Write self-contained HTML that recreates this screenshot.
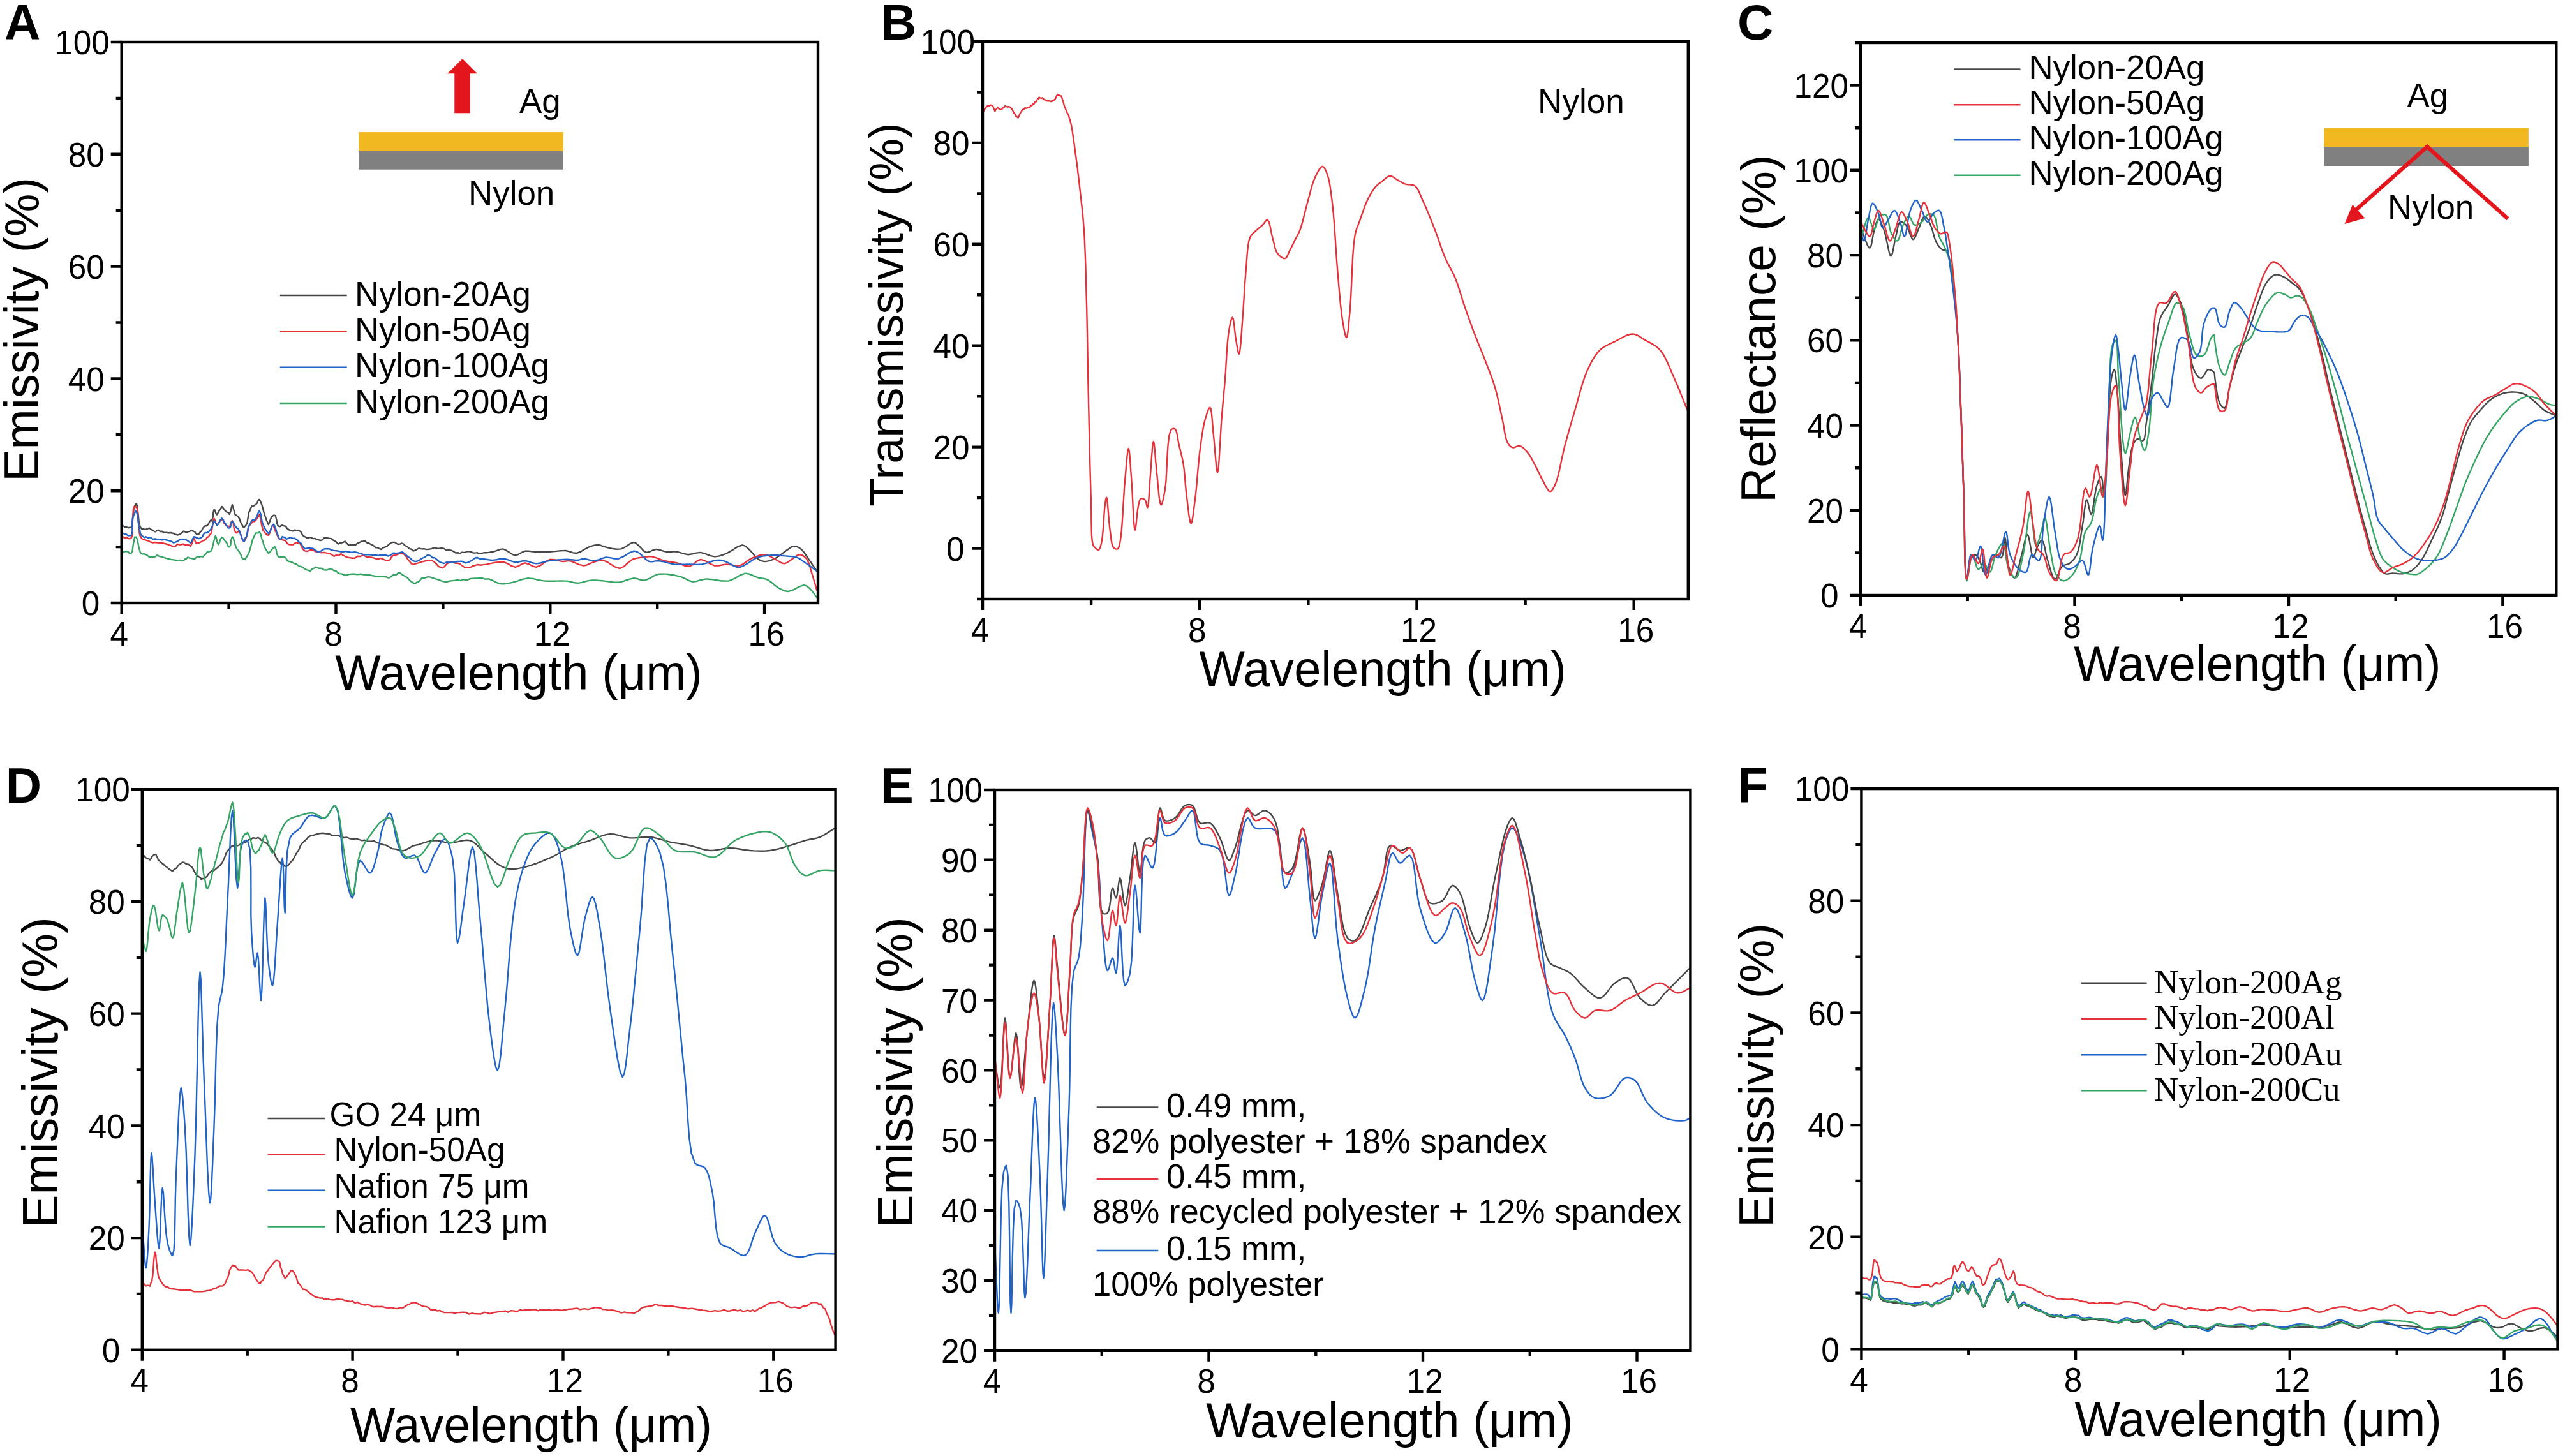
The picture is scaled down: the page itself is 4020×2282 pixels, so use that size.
<!DOCTYPE html>
<html><head><meta charset="utf-8"><style>
html,body{margin:0;padding:0;background:#fff;width:4020px;height:2282px;overflow:hidden}
svg{display:block}
text{font-family:"Liberation Sans", sans-serif;fill:#000}
</style></head><body>
<svg width="4020" height="2282" viewBox="0 0 4020 2282">
<rect width="4020" height="2282" fill="#fff"/>
<path d="M173.7 945.0H190.7 M173.7 769.2H190.7 M173.7 593.4H190.7 M173.7 417.6H190.7 M173.7 241.8H190.7 M173.7 66.0H190.7 M181.7 857.1H190.7 M181.7 681.3H190.7 M181.7 505.5H190.7 M181.7 329.7H190.7 M181.7 153.9H190.7 M190.7 945.0V962.0 M526.5 945.0V962.0 M862.3 945.0V962.0 M1198.1 945.0V962.0 M358.6 945.0V954.0 M694.4 945.0V954.0 M1030.2 945.0V954.0" stroke="#000" stroke-width="4.4" fill="none"/>
<text transform="translate(156.2 964.1) scale(0.95 1)" font-size="54" text-anchor="end">0</text>
<text transform="translate(163.7 788.3) scale(0.95 1)" font-size="54" text-anchor="end">20</text>
<text transform="translate(163.7 612.5) scale(0.95 1)" font-size="54" text-anchor="end">40</text>
<text transform="translate(163.7 436.7) scale(0.95 1)" font-size="54" text-anchor="end">60</text>
<text transform="translate(163.7 260.9) scale(0.95 1)" font-size="54" text-anchor="end">80</text>
<text transform="translate(171.7 85.1) scale(0.95 1)" font-size="54" text-anchor="end">100</text>
<text transform="translate(186.7 1011.5) scale(0.95 1)" font-size="54" text-anchor="middle">4</text>
<text transform="translate(522.5 1011.5) scale(0.95 1)" font-size="54" text-anchor="middle">8</text>
<text transform="translate(865.3 1011.5) scale(0.95 1)" font-size="54" text-anchor="middle">12</text>
<text transform="translate(1201.1 1011.5) scale(0.95 1)" font-size="54" text-anchor="middle">16</text>
<path d="M1523.0 859.5H1540.0 M1523.0 700.6H1540.0 M1523.0 541.7H1540.0 M1523.0 382.8H1540.0 M1523.0 223.9H1540.0 M1523.0 65.0H1540.0 M1531.0 939.0H1540.0 M1531.0 780.1H1540.0 M1531.0 621.2H1540.0 M1531.0 462.3H1540.0 M1531.0 303.4H1540.0 M1531.0 144.5H1540.0 M1540.0 939.0V956.0 M1880.2 939.0V956.0 M2220.5 939.0V956.0 M2560.7 939.0V956.0 M1710.1 939.0V948.0 M2050.4 939.0V948.0 M2390.6 939.0V948.0" stroke="#000" stroke-width="4.4" fill="none"/>
<text transform="translate(1511.6 878.6) scale(0.95 1)" font-size="54" text-anchor="end">0</text>
<text transform="translate(1519.5 719.7) scale(0.95 1)" font-size="54" text-anchor="end">20</text>
<text transform="translate(1519.5 560.8) scale(0.95 1)" font-size="54" text-anchor="end">40</text>
<text transform="translate(1519.5 401.9) scale(0.95 1)" font-size="54" text-anchor="end">60</text>
<text transform="translate(1519.5 243.0) scale(0.95 1)" font-size="54" text-anchor="end">80</text>
<text transform="translate(1528.0 84.1) scale(0.95 1)" font-size="54" text-anchor="end">100</text>
<text transform="translate(1536.0 1005.5) scale(0.95 1)" font-size="54" text-anchor="middle">4</text>
<text transform="translate(1876.2 1005.5) scale(0.95 1)" font-size="54" text-anchor="middle">8</text>
<text transform="translate(2223.5 1005.5) scale(0.95 1)" font-size="54" text-anchor="middle">12</text>
<text transform="translate(2563.7 1005.5) scale(0.95 1)" font-size="54" text-anchor="middle">16</text>
<path d="M2899.0 933.0H2916.0 M2899.0 799.8H2916.0 M2899.0 666.5H2916.0 M2899.0 533.3H2916.0 M2899.0 400.1H2916.0 M2899.0 266.8H2916.0 M2899.0 133.6H2916.0 M2907.0 866.4H2916.0 M2907.0 733.2H2916.0 M2907.0 599.9H2916.0 M2907.0 466.7H2916.0 M2907.0 333.5H2916.0 M2907.0 200.2H2916.0 M2907.0 67.0H2916.0 M2916.0 933.0V950.0 M3251.5 933.0V950.0 M3587.0 933.0V950.0 M3922.4 933.0V950.0 M3083.7 933.0V942.0 M3419.2 933.0V942.0 M3754.7 933.0V942.0" stroke="#000" stroke-width="4.4" fill="none"/>
<text transform="translate(2881.5 952.1) scale(0.95 1)" font-size="54" text-anchor="end">0</text>
<text transform="translate(2889.0 818.9) scale(0.95 1)" font-size="54" text-anchor="end">20</text>
<text transform="translate(2889.0 685.6) scale(0.95 1)" font-size="54" text-anchor="end">40</text>
<text transform="translate(2889.0 552.4) scale(0.95 1)" font-size="54" text-anchor="end">60</text>
<text transform="translate(2889.0 419.2) scale(0.95 1)" font-size="54" text-anchor="end">80</text>
<text transform="translate(2897.0 285.9) scale(0.95 1)" font-size="54" text-anchor="end">100</text>
<text transform="translate(2897.0 152.7) scale(0.95 1)" font-size="54" text-anchor="end">120</text>
<text transform="translate(2912.0 999.5) scale(0.95 1)" font-size="54" text-anchor="middle">4</text>
<text transform="translate(3247.5 999.5) scale(0.95 1)" font-size="54" text-anchor="middle">8</text>
<text transform="translate(3590.0 999.5) scale(0.95 1)" font-size="54" text-anchor="middle">12</text>
<text transform="translate(3925.4 999.5) scale(0.95 1)" font-size="54" text-anchor="middle">16</text>
<path d="M205.8 2115.8H222.8 M205.8 1940.1H222.8 M205.8 1764.4H222.8 M205.8 1588.6H222.8 M205.8 1412.9H222.8 M205.8 1237.2H222.8 M213.8 2027.9H222.8 M213.8 1852.2H222.8 M213.8 1676.5H222.8 M213.8 1500.8H222.8 M213.8 1325.1H222.8 M222.8 2115.8V2132.8 M552.6 2115.8V2132.8 M882.5 2115.8V2132.8 M1212.3 2115.8V2132.8 M387.7 2115.8V2124.8 M717.5 2115.8V2124.8 M1047.4 2115.8V2124.8" stroke="#000" stroke-width="4.4" fill="none"/>
<text transform="translate(188.3 2134.9) scale(0.95 1)" font-size="54" text-anchor="end">0</text>
<text transform="translate(195.8 1959.2) scale(0.95 1)" font-size="54" text-anchor="end">20</text>
<text transform="translate(195.8 1783.5) scale(0.95 1)" font-size="54" text-anchor="end">40</text>
<text transform="translate(195.8 1607.7) scale(0.95 1)" font-size="54" text-anchor="end">60</text>
<text transform="translate(195.8 1432.0) scale(0.95 1)" font-size="54" text-anchor="end">80</text>
<text transform="translate(203.8 1256.3) scale(0.95 1)" font-size="54" text-anchor="end">100</text>
<text transform="translate(218.8 2182.3) scale(0.95 1)" font-size="54" text-anchor="middle">4</text>
<text transform="translate(548.6 2182.3) scale(0.95 1)" font-size="54" text-anchor="middle">8</text>
<text transform="translate(885.5 2182.3) scale(0.95 1)" font-size="54" text-anchor="middle">12</text>
<text transform="translate(1215.3 2182.3) scale(0.95 1)" font-size="54" text-anchor="middle">16</text>
<path d="M1542.0 2116.8H1559.0 M1542.0 2007.0H1559.0 M1542.0 1897.1H1559.0 M1542.0 1787.2H1559.0 M1542.0 1677.4H1559.0 M1542.0 1567.6H1559.0 M1542.0 1457.7H1559.0 M1542.0 1347.8H1559.0 M1542.0 1238.0H1559.0 M1550.0 2061.9H1559.0 M1550.0 1952.0H1559.0 M1550.0 1842.2H1559.0 M1550.0 1732.3H1559.0 M1550.0 1622.5H1559.0 M1550.0 1512.6H1559.0 M1550.0 1402.8H1559.0 M1550.0 1292.9H1559.0 M1559.0 2116.8V2133.8 M1894.5 2116.8V2133.8 M2230.0 2116.8V2133.8 M2565.5 2116.8V2133.8 M1726.8 2116.8V2125.8 M2062.3 2116.8V2125.8 M2397.8 2116.8V2125.8" stroke="#000" stroke-width="4.4" fill="none"/>
<text transform="translate(1532.0 2135.9) scale(0.95 1)" font-size="54" text-anchor="end">20</text>
<text transform="translate(1532.0 2026.1) scale(0.95 1)" font-size="54" text-anchor="end">30</text>
<text transform="translate(1532.0 1916.2) scale(0.95 1)" font-size="54" text-anchor="end">40</text>
<text transform="translate(1532.0 1806.3) scale(0.95 1)" font-size="54" text-anchor="end">50</text>
<text transform="translate(1532.0 1696.5) scale(0.95 1)" font-size="54" text-anchor="end">60</text>
<text transform="translate(1532.0 1586.7) scale(0.95 1)" font-size="54" text-anchor="end">70</text>
<text transform="translate(1532.0 1476.8) scale(0.95 1)" font-size="54" text-anchor="end">80</text>
<text transform="translate(1532.0 1366.9) scale(0.95 1)" font-size="54" text-anchor="end">90</text>
<text transform="translate(1540.0 1257.1) scale(0.95 1)" font-size="54" text-anchor="end">100</text>
<text transform="translate(1555.0 2183.3) scale(0.95 1)" font-size="54" text-anchor="middle">4</text>
<text transform="translate(1890.5 2183.3) scale(0.95 1)" font-size="54" text-anchor="middle">8</text>
<text transform="translate(2233.0 2183.3) scale(0.95 1)" font-size="54" text-anchor="middle">12</text>
<text transform="translate(2568.5 2183.3) scale(0.95 1)" font-size="54" text-anchor="middle">16</text>
<path d="M2900.4 2114.4H2917.4 M2900.4 1938.7H2917.4 M2900.4 1763.1H2917.4 M2900.4 1587.4H2917.4 M2900.4 1411.8H2917.4 M2900.4 1236.1H2917.4 M2908.4 2026.6H2917.4 M2908.4 1850.9H2917.4 M2908.4 1675.2H2917.4 M2908.4 1499.6H2917.4 M2908.4 1323.9H2917.4 M2917.4 2114.4V2131.4 M3253.1 2114.4V2131.4 M3588.8 2114.4V2131.4 M3924.6 2114.4V2131.4 M3085.3 2114.4V2123.4 M3421.0 2114.4V2123.4 M3756.7 2114.4V2123.4" stroke="#000" stroke-width="4.4" fill="none"/>
<text transform="translate(2882.9 2133.5) scale(0.95 1)" font-size="54" text-anchor="end">0</text>
<text transform="translate(2890.4 1957.8) scale(0.95 1)" font-size="54" text-anchor="end">20</text>
<text transform="translate(2890.4 1782.2) scale(0.95 1)" font-size="54" text-anchor="end">40</text>
<text transform="translate(2890.4 1606.5) scale(0.95 1)" font-size="54" text-anchor="end">60</text>
<text transform="translate(2890.4 1430.9) scale(0.95 1)" font-size="54" text-anchor="end">80</text>
<text transform="translate(2898.4 1255.2) scale(0.95 1)" font-size="54" text-anchor="end">100</text>
<text transform="translate(2913.4 2180.9) scale(0.95 1)" font-size="54" text-anchor="middle">4</text>
<text transform="translate(3249.1 2180.9) scale(0.95 1)" font-size="54" text-anchor="middle">8</text>
<text transform="translate(3591.8 2180.9) scale(0.95 1)" font-size="54" text-anchor="middle">12</text>
<text transform="translate(3927.6 2180.9) scale(0.95 1)" font-size="54" text-anchor="middle">16</text>
<defs>
<clipPath id="cA"><rect x="190.7" y="66.0" width="1091.3" height="879.0"/></clipPath>
<clipPath id="cB"><rect x="1540.0" y="65.0" width="1105.8000000000002" height="874.0"/></clipPath>
<clipPath id="cC"><rect x="2916.0" y="67.0" width="1090.3000000000002" height="866.0"/></clipPath>
<clipPath id="cD"><rect x="222.8" y="1237.2" width="1086.8" height="878.6000000000001"/></clipPath>
<clipPath id="cE"><rect x="1559.0" y="1238.0" width="1090.4" height="878.8000000000002"/></clipPath>
<clipPath id="cF"><rect x="2917.4" y="1236.1" width="1091.1" height="878.3000000000002"/></clipPath>
</defs>
<path d="M190.5 824.1 L193.0 824.1 L195.6 826.0 L198.1 826.1 L200.8 827.2 L203.6 826.8 L205.7 826.5 L207.1 824.9 L207.5 819.6 L207.9 815.1 L208.4 809.7 L208.8 807.9 L209.2 802.9 L209.7 797.6 L211.2 792.6 L212.1 792.6 L213.1 789.8 L214.0 789.9 L215.3 794.0 L215.9 800.7 L216.7 807.1 L217.4 815.0 L218.2 821.1 L219.9 825.8 L221.8 828.7 L224.1 828.9 L226.5 829.7 L229.0 829.7 L231.6 828.5 L234.1 827.6 L236.7 829.8 L239.3 830.9 L241.8 832.9 L243.9 833.2 L246.1 831.3 L248.3 830.9 L251.1 833.0 L254.0 832.7 L257.0 834.9 L260.6 834.7 L264.3 835.2 L268.0 835.0 L271.7 836.0 L275.4 837.8 L278.9 838.5 L281.9 837.0 L284.8 835.4 L287.6 832.5 L289.8 833.2 L291.9 834.6 L294.2 833.5 L297.1 832.9 L300.1 831.5 L302.9 832.5 L305.2 833.5 L307.3 836.4 L309.4 837.6 L311.7 836.8 L314.0 833.6 L316.0 831.8 L317.6 828.3 L318.9 826.9 L320.4 824.8 L321.8 824.1 L323.3 824.2 L324.7 823.3 L326.3 822.1 L327.7 819.2 L329.1 816.7 L330.2 815.4 L331.4 816.3 L332.4 814.6 L333.7 810.2 L334.5 802.2 L335.6 798.5 L336.9 799.9 L338.4 804.7 L340.0 806.6 L342.4 802.3 L345.1 798.3 L347.7 794.0 L349.5 795.6 L351.2 798.6 L353.1 800.5 L355.3 802.6 L357.6 803.2 L359.7 805.9 L361.5 801.2 L362.8 794.8 L364.0 791.2 L365.3 795.0 L366.6 800.0 L368.4 806.5 L370.4 807.6 L372.8 809.4 L374.9 812.2 L377.2 818.5 L379.3 822.4 L381.5 826.1 L383.0 825.9 L384.5 824.3 L385.9 822.5 L387.6 818.9 L388.2 814.4 L388.8 810.8 L390.2 802.8 L391.5 800.9 L392.8 796.7 L394.6 793.3 L396.6 793.6 L399.0 791.7 L401.1 790.5 L403.2 788.5 L404.9 783.7 L406.6 782.9 L408.5 786.6 L410.2 790.7 L412.1 797.2 L413.4 802.6 L414.8 806.8 L416.3 811.1 L417.8 815.5 L420.8 822.2 L422.9 817.0 L425.0 811.2 L427.3 808.8 L428.8 807.7 L430.3 807.6 L431.7 808.3 L433.2 814.2 L433.7 816.7 L434.2 820.7 L436.1 824.6 L438.7 825.3 L441.8 823.1 L444.8 824.1 L447.8 825.0 L450.6 828.9 L453.5 830.6 L456.4 831.9 L459.4 832.4 L462.3 830.5 L464.5 831.8 L466.7 831.0 L468.8 831.8 L471.6 833.7 L474.3 838.9 L477.6 841.0 L481.7 843.4 L486.4 842.1 L490.7 844.1 L493.7 843.9 L496.5 845.3 L499.4 846.1 L502.2 847.2 L505.1 846.2 L508.1 843.0 L511.7 842.8 L515.4 843.6 L519.0 844.1 L522.7 847.0 L526.3 848.8 L530.0 852.6 L533.6 850.8 L537.3 850.3 L540.9 848.4 L543.8 851.9 L546.6 854.5 L549.6 854.3 L553.2 854.1 L556.9 854.2 L560.5 851.3 L563.5 850.2 L566.4 848.4 L569.2 848.2 L572.1 847.8 L575.0 850.6 L578.0 851.2 L581.6 853.2 L585.3 855.2 L588.9 858.3 L591.9 858.4 L594.8 860.0 L597.6 861.0 L600.6 858.4 L603.5 857.5 L606.4 856.3 L609.7 853.0 L613.0 850.7 L616.2 849.9 L618.7 849.9 L621.2 851.7 L623.8 853.0 L626.8 852.6 L629.8 851.5 L632.6 852.7 L634.8 855.2 L636.9 856.0 L639.1 857.5 L641.8 860.1 L644.7 860.7 L647.8 863.6 L652.0 861.8 L656.5 859.3 L660.9 860.4 L664.6 860.2 L668.2 861.1 L671.9 860.7 L676.2 860.1 L680.6 858.3 L685.0 859.4 L688.7 859.6 L692.3 859.0 L695.9 859.8 L699.5 862.4 L703.2 862.3 L706.8 862.5 L710.5 864.2 L714.1 866.5 L717.7 866.2 L720.7 867.6 L723.6 865.7 L726.4 865.9 L729.3 865.9 L732.2 864.1 L735.2 864.4 L738.4 865.0 L741.8 866.6 L745.0 866.6 L747.6 866.1 L750.2 867.7 L753.1 867.6 L759.1 866.2 L762.6 866.3 L766.1 865.9 L772.7 864.8 L778.2 863.1 L783.4 861.1 L788.0 860.4 L791.1 861.4 L793.9 863.1 L796.8 864.8 L800.2 866.9 L803.8 869.2 L807.7 870.3 L812.5 868.8 L817.7 865.8 L823.0 863.7 L827.9 863.6 L832.9 864.2 L838.2 864.8 L842.0 864.9 L845.8 865.0 L850.0 865.0 L854.1 865.0 L858.2 864.9 L862.3 864.8 L866.3 864.4 L870.4 864.1 L874.5 863.6 L878.6 863.2 L882.4 863.1 L886.3 863.0 L892.3 864.4 L898.1 866.4 L903.7 867.0 L909.6 864.9 L915.5 861.3 L921.2 858.2 L926.3 856.2 L931.4 854.6 L936.5 853.9 L941.5 854.8 L946.5 856.6 L951.8 858.2 L955.3 859.0 L958.8 859.7 L962.6 860.2 L966.3 860.7 L970.0 860.6 L973.6 860.4 L977.1 858.7 L980.6 857.0 L984.0 854.6 L987.4 852.2 L993.3 849.9 L996.4 851.1 L999.2 853.5 L1002.0 856.1 L1005.4 859.7 L1009.0 863.6 L1012.9 865.9 L1017.7 865.0 L1022.9 862.5 L1028.2 860.9 L1034.0 861.8 L1040.0 863.8 L1045.7 865.2 L1050.1 865.1 L1054.3 864.5 L1058.8 864.4 L1065.0 865.8 L1068.4 866.8 L1071.7 867.9 L1078.4 869.2 L1084.9 868.3 L1091.4 866.6 L1098.1 865.9 L1101.7 866.8 L1105.3 867.8 L1109.0 869.3 L1112.7 870.8 L1116.3 871.6 L1119.9 872.4 L1126.5 871.6 L1132.9 869.6 L1136.2 868.3 L1139.5 867.0 L1143.7 864.6 L1147.8 862.3 L1152.0 859.5 L1156.2 856.8 L1159.9 855.5 L1163.5 854.3 L1167.5 855.6 L1171.0 858.3 L1174.5 861.5 L1178.8 866.2 L1183.1 871.5 L1187.6 875.7 L1191.1 877.9 L1194.6 879.4 L1198.5 880.1 L1204.1 879.4 L1210.1 877.3 L1215.9 874.6 L1221.2 871.3 L1226.3 867.4 L1231.2 863.7 L1235.7 860.5 L1240.0 857.5 L1244.3 856.1 L1248.0 856.5 L1251.7 858.1 L1255.2 860.4 L1259.8 865.3 L1262.0 868.4 L1264.1 871.6 L1266.2 874.7 L1268.3 877.9 L1270.4 880.8 L1272.4 883.7 L1274.4 886.6 L1276.4 889.5 L1278.4 892.4 L1280.4 895.4" stroke="#474747" stroke-width="2.4" fill="none" stroke-linejoin="round" clip-path="url(#cA)"/>
<path d="M190.5 842.8 L193.0 841.5 L195.6 843.4 L198.1 841.9 L200.8 843.8 L203.5 844.4 L205.7 843.0 L206.7 841.3 L207.7 838.2 L207.7 832.6 L207.8 829.5 L207.8 825.0 L207.8 822.0 L207.9 818.8 L207.9 813.7 L208.1 811.6 L208.3 807.1 L208.6 803.4 L208.8 798.8 L210.1 794.2 L211.1 793.6 L212.3 794.3 L213.4 794.5 L215.0 797.2 L215.4 802.6 L215.8 805.1 L216.2 810.9 L216.7 814.7 L217.1 818.5 L217.6 825.5 L218.0 827.2 L218.3 831.9 L218.6 836.0 L219.8 840.2 L221.0 842.0 L223.2 845.3 L225.8 845.6 L228.7 846.7 L232.1 847.5 L235.8 849.3 L239.6 850.5 L243.2 850.0 L246.9 850.5 L250.5 850.9 L254.1 851.0 L257.8 852.0 L261.4 852.7 L265.1 854.3 L268.8 855.4 L272.3 856.7 L275.3 855.9 L278.2 852.8 L281.1 853.6 L284.0 853.5 L286.9 852.6 L289.8 854.5 L292.8 853.6 L295.9 854.2 L298.5 856.0 L300.8 852.0 L302.5 846.7 L304.0 843.9 L305.0 845.9 L305.9 848.4 L307.3 851.3 L309.2 851.0 L311.5 850.9 L313.8 849.8 L316.0 848.9 L318.2 847.1 L320.4 846.7 L322.7 844.9 L324.9 841.9 L326.9 841.3 L328.6 838.1 L330.0 836.9 L331.3 834.8 L332.1 829.9 L332.9 825.6 L333.6 821.0 L334.2 816.3 L335.6 812.7 L336.9 815.3 L338.3 820.1 L340.0 822.2 L342.4 820.5 L345.1 816.5 L347.7 814.1 L349.5 815.0 L351.2 820.0 L353.1 821.8 L355.3 824.3 L357.6 824.6 L359.7 825.9 L361.4 821.8 L362.7 817.8 L364.0 816.1 L365.7 820.7 L366.5 826.4 L367.3 830.4 L369.5 834.9 L371.2 835.3 L373.1 833.1 L374.9 831.4 L377.3 837.4 L378.4 839.9 L379.4 844.5 L381.5 847.9 L383.0 848.1 L384.5 845.2 L385.9 842.6 L387.5 837.6 L388.7 831.5 L390.2 824.8 L391.5 823.2 L392.9 821.0 L394.6 819.2 L396.7 817.7 L399.0 817.2 L401.1 815.0 L403.1 811.8 L405.0 809.5 L406.6 806.2 L408.4 812.7 L409.1 816.0 L409.8 821.6 L410.9 826.0 L412.1 830.7 L414.8 834.3 L417.9 838.1 L420.8 838.7 L423.3 834.5 L424.4 830.1 L425.4 826.4 L427.3 823.1 L428.8 824.5 L430.2 828.4 L431.7 832.2 L433.6 836.0 L435.7 841.9 L438.3 845.6 L440.3 844.9 L442.6 846.2 L444.8 846.7 L447.7 847.7 L450.5 852.0 L453.5 853.5 L456.4 853.3 L459.4 853.5 L462.3 851.5 L464.5 850.1 L466.7 851.3 L468.8 850.3 L471.6 854.0 L474.3 860.4 L477.6 863.4 L481.7 864.0 L486.3 862.2 L490.7 861.7 L493.6 864.1 L496.4 865.2 L499.4 865.2 L503.6 866.4 L508.1 865.9 L512.5 866.9 L516.2 867.7 L519.8 869.2 L523.4 871.9 L527.0 870.1 L530.7 870.8 L534.3 868.0 L538.0 870.5 L541.6 872.3 L545.2 873.8 L548.8 874.2 L552.4 874.8 L556.2 874.7 L560.5 871.7 L565.0 872.0 L569.2 870.2 L572.3 871.6 L575.1 873.2 L578.0 873.3 L581.5 873.5 L585.2 874.4 L588.9 875.5 L592.6 876.5 L596.3 874.9 L599.8 876.0 L602.9 877.5 L605.8 878.7 L608.5 878.7 L611.2 877.3 L613.6 873.1 L616.2 870.4 L618.6 870.5 L621.2 869.5 L623.8 868.6 L626.8 866.8 L629.8 867.8 L632.6 868.2 L634.9 870.1 L637.0 873.2 L639.1 876.5 L641.8 879.7 L644.6 883.3 L647.8 884.8 L651.9 883.3 L656.3 882.2 L660.9 880.6 L666.1 879.3 L671.4 878.6 L676.2 878.3 L680.2 880.5 L683.8 883.9 L687.1 887.8 L689.4 888.7 L691.5 889.2 L693.7 890.3 L696.5 888.2 L699.3 884.7 L702.4 882.4 L705.9 880.8 L709.6 881.2 L713.3 882.7 L717.1 882.5 L720.7 884.1 L724.3 886.5 L727.2 888.6 L730.0 889.5 L733.0 889.5 L736.9 889.6 L741.1 887.0 L745.0 886.1 L747.7 885.0 L750.2 885.3 L753.1 885.7 L759.1 884.9 L762.5 884.7 L766.0 883.7 L772.7 882.3 L778.7 881.4 L784.5 880.8 L790.2 881.2 L796.1 883.6 L802.0 887.1 L807.7 888.8 L812.8 887.1 L817.8 884.0 L823.0 882.3 L828.6 884.0 L834.5 887.3 L840.4 888.8 L844.0 887.3 L847.6 885.8 L851.2 883.1 L854.9 880.4 L858.6 878.6 L862.3 876.8 L869.0 877.1 L875.8 878.9 L881.9 880.1 L885.7 879.7 L889.1 879.1 L892.8 879.0 L896.3 880.1 L899.7 881.3 L903.6 883.1 L907.4 884.8 L911.0 885.7 L914.7 886.6 L919.9 885.5 L924.9 883.2 L929.9 881.2 L934.9 879.5 L939.9 878.1 L945.2 877.9 L949.5 879.9 L953.7 881.9 L956.7 883.9 L959.8 886.0 L962.8 888.1 L967.1 889.5 L971.4 891.0 L974.9 889.3 L978.3 887.7 L981.5 884.7 L984.7 881.6 L987.9 879.2 L991.1 876.8 L996.2 875.1 L1001.3 874.2 L1006.4 873.5 L1011.4 872.8 L1016.4 872.3 L1021.6 872.4 L1028.0 874.1 L1031.3 875.4 L1034.6 876.7 L1038.0 877.9 L1041.3 879.0 L1047.8 880.2 L1054.4 881.1 L1060.9 882.3 L1064.3 883.4 L1067.6 884.5 L1070.9 885.8 L1074.2 887.0 L1080.6 887.7 L1086.5 884.6 L1089.3 882.1 L1092.1 879.6 L1098.1 876.8 L1101.6 877.8 L1105.1 878.9 L1108.8 881.2 L1112.5 883.5 L1116.2 885.0 L1119.9 886.6 L1126.4 886.5 L1133.0 885.2 L1139.5 884.4 L1146.2 885.3 L1152.8 886.7 L1159.2 886.6 L1165.1 883.8 L1167.9 881.7 L1170.7 879.5 L1173.7 877.6 L1176.6 875.7 L1180.2 874.1 L1183.8 872.6 L1187.6 871.3 L1191.4 870.0 L1194.9 869.6 L1198.5 869.2 L1203.8 870.5 L1208.8 873.0 L1213.8 875.7 L1218.9 878.8 L1224.1 882.0 L1229.0 883.4 L1233.6 881.9 L1237.9 878.8 L1242.1 875.7 L1245.9 873.0 L1249.5 870.4 L1253.1 869.2 L1256.8 870.1 L1260.6 872.4 L1264.0 875.7 L1265.7 879.0 L1267.5 882.4 L1268.9 886.7 L1270.2 891.0 L1271.4 895.4 L1272.7 899.7 L1274.0 904.0 L1275.4 908.4 L1276.6 912.7 L1277.9 917.1 L1279.1 921.5 L1280.4 925.9" stroke="#E5313A" stroke-width="2.4" fill="none" stroke-linejoin="round" clip-path="url(#cA)"/>
<path d="M190.5 835.4 L193.0 835.9 L195.6 837.0 L198.1 837.5 L200.8 839.6 L203.5 839.3 L205.7 839.3 L207.4 832.8 L207.4 828.6 L207.4 825.0 L207.4 821.0 L207.6 816.2 L207.9 811.6 L209.2 808.7 L210.8 804.0 L212.3 802.2 L213.0 800.7 L213.8 802.6 L214.5 803.9 L215.8 808.9 L216.2 812.7 L216.6 817.8 L217.2 822.0 L217.7 824.6 L218.9 829.9 L220.1 836.4 L222.1 839.7 L224.0 840.5 L226.2 842.5 L228.7 841.3 L232.1 842.9 L235.8 842.3 L239.6 845.0 L243.2 844.5 L246.9 845.5 L250.5 845.9 L254.1 846.3 L257.8 845.5 L261.4 846.5 L265.1 847.4 L268.8 848.6 L272.3 850.7 L275.3 849.5 L278.1 848.5 L281.1 846.0 L284.7 845.9 L288.6 845.0 L292.0 846.3 L294.4 847.6 L296.6 849.2 L298.5 851.1 L300.4 848.9 L302.1 844.2 L304.0 841.2 L305.7 841.4 L307.5 842.7 L309.4 843.0 L311.7 844.2 L314.0 843.4 L316.0 842.3 L317.6 840.5 L318.8 837.7 L320.4 835.7 L322.5 835.0 L324.8 835.0 L326.9 833.1 L328.6 832.2 L330.0 829.8 L331.3 828.3 L332.8 824.1 L334.2 819.2 L335.6 816.2 L337.0 817.9 L338.4 820.2 L340.0 823.0 L342.4 821.2 L345.1 815.3 L347.7 812.3 L349.5 814.1 L351.2 818.0 L353.1 820.4 L355.3 824.0 L357.6 827.5 L359.7 827.6 L361.3 825.9 L362.6 818.8 L364.0 817.2 L365.7 818.4 L367.5 822.7 L369.5 825.5 L371.3 827.7 L373.2 827.9 L374.9 831.7 L377.3 838.1 L378.4 841.2 L379.4 843.9 L381.5 847.9 L383.0 848.1 L384.5 843.0 L385.9 841.7 L387.4 835.6 L388.7 827.7 L390.2 824.4 L391.5 821.6 L392.9 819.3 L394.6 815.9 L396.7 814.2 L399.0 815.0 L401.1 812.7 L403.3 807.7 L405.0 802.6 L406.6 800.7 L408.4 805.2 L409.2 807.7 L409.9 813.6 L411.0 818.3 L412.1 821.7 L414.7 827.7 L417.8 832.5 L420.8 836.4 L423.5 832.5 L426.0 825.1 L428.4 821.7 L430.4 824.0 L432.2 828.9 L433.9 835.3 L435.3 837.9 L436.5 842.2 L438.3 844.8 L440.3 844.7 L442.6 840.8 L444.8 842.0 L446.3 842.3 L447.6 844.0 L449.2 844.9 L451.8 843.7 L454.8 842.2 L457.9 843.4 L461.6 843.8 L465.4 845.9 L468.8 849.4 L471.8 851.6 L474.4 856.0 L477.6 860.2 L481.7 859.2 L486.4 859.1 L490.7 859.8 L493.7 862.0 L496.4 863.8 L499.4 865.9 L503.6 863.2 L508.1 860.5 L512.5 860.0 L516.2 860.4 L519.8 862.3 L523.4 862.9 L527.0 863.3 L530.7 863.8 L534.3 864.7 L538.0 864.7 L541.6 864.0 L545.2 864.8 L548.8 865.5 L552.4 865.8 L556.2 865.1 L560.5 866.2 L565.0 867.9 L569.2 868.9 L572.3 869.4 L575.1 869.3 L578.0 869.2 L581.5 869.5 L585.2 870.2 L588.9 869.8 L592.6 871.0 L596.3 869.6 L599.8 870.3 L602.8 869.5 L605.8 870.3 L608.5 871.6 L611.1 870.5 L613.4 869.4 L616.2 866.6 L620.7 867.1 L625.8 866.5 L630.4 865.1 L633.5 867.2 L636.3 869.9 L639.1 872.5 L642.7 874.6 L646.3 878.3 L650.0 880.0 L653.7 879.7 L657.4 877.8 L660.9 875.4 L663.9 874.0 L666.8 872.4 L669.7 870.1 L672.6 869.9 L675.5 871.8 L678.4 874.3 L681.3 874.3 L684.2 876.7 L687.1 879.4 L689.9 881.1 L692.8 882.2 L695.9 883.0 L700.1 881.2 L704.6 881.5 L709.0 881.4 L712.7 880.9 L716.2 880.0 L719.9 879.9 L724.2 879.8 L728.7 882.3 L733.0 881.7 L737.3 879.6 L741.5 876.9 L745.0 874.1 L746.3 874.7 L747.4 873.6 L748.7 874.5 L752.6 875.9 L757.3 875.9 L761.8 876.8 L765.4 877.3 L769.0 877.7 L772.7 877.9 L778.3 877.2 L784.3 876.0 L790.2 875.7 L796.1 877.3 L801.9 879.7 L807.7 881.2 L812.8 880.7 L817.8 879.5 L823.0 879.0 L828.7 880.2 L834.5 882.3 L840.4 883.4 L846.7 882.5 L853.2 880.6 L856.6 879.8 L860.1 879.0 L864.7 878.4 L869.4 877.9 L874.3 877.5 L879.3 877.1 L883.9 877.0 L888.5 876.8 L894.8 877.2 L900.7 877.8 L905.9 877.9 L909.0 877.2 L911.6 876.3 L914.7 875.7 L920.0 876.6 L926.1 878.3 L932.1 879.0 L937.9 877.5 L943.7 875.1 L949.6 873.5 L956.0 874.1 L962.6 875.5 L969.2 875.7 L973.4 873.9 L977.6 872.1 L981.8 869.3 L986.1 866.6 L989.7 865.2 L993.3 863.7 L996.4 864.1 L999.1 865.3 L1002.0 867.0 L1006.8 871.2 L1009.3 873.8 L1011.9 876.5 L1017.3 880.1 L1022.1 880.4 L1027.2 879.4 L1032.6 879.0 L1036.4 879.7 L1040.2 880.4 L1044.3 881.6 L1048.3 882.7 L1052.5 883.6 L1056.6 884.4 L1060.6 884.6 L1064.6 884.8 L1068.7 884.7 L1072.7 884.6 L1076.7 884.5 L1080.6 884.4 L1087.2 884.6 L1093.6 884.9 L1100.2 884.4 L1104.3 883.4 L1108.4 882.4 L1112.5 880.9 L1116.7 879.5 L1120.5 878.7 L1124.2 877.9 L1128.9 878.0 L1133.0 878.8 L1137.3 880.1 L1143.2 883.0 L1146.3 884.8 L1149.3 886.6 L1154.8 888.8 L1157.8 889.0 L1160.5 888.7 L1163.5 887.7 L1167.1 885.7 L1170.7 883.7 L1174.9 880.9 L1179.1 878.0 L1183.3 875.8 L1187.6 873.5 L1191.1 872.6 L1194.7 871.6 L1198.3 871.2 L1201.9 870.7 L1205.7 870.5 L1209.4 870.3 L1213.8 870.3 L1218.3 870.3 L1222.9 870.7 L1227.4 871.0 L1231.5 871.4 L1235.6 871.8 L1240.3 872.1 L1244.5 872.5 L1248.7 873.5 L1253.8 876.1 L1258.9 879.7 L1264.0 883.4 L1269.4 887.2 L1274.9 891.3 L1280.4 895.4" stroke="#2163C6" stroke-width="2.4" fill="none" stroke-linejoin="round" clip-path="url(#cA)"/>
<path d="M190.5 866.5 L193.0 865.4 L195.6 864.6 L198.1 864.1 L200.8 864.9 L203.5 867.8 L205.7 867.0 L207.5 864.0 L208.2 857.6 L209.0 852.6 L210.0 847.5 L211.1 841.8 L212.3 841.7 L213.4 841.6 L214.5 844.0 L215.6 846.9 L216.8 854.0 L217.9 859.2 L219.9 865.9 L222.5 868.4 L225.5 868.2 L228.7 869.1 L231.5 871.0 L234.5 873.4 L237.4 872.7 L240.3 872.8 L243.1 872.6 L246.1 870.2 L249.7 871.8 L253.4 872.9 L257.0 873.8 L260.7 875.2 L264.3 876.0 L268.0 876.9 L271.6 877.4 L275.3 878.0 L278.9 878.8 L281.9 877.9 L284.9 879.0 L287.6 878.9 L289.9 876.3 L291.9 876.1 L294.2 873.2 L297.0 874.6 L300.1 875.1 L302.9 875.9 L305.1 876.0 L307.2 874.1 L309.4 872.1 L312.3 872.8 L315.4 872.1 L318.2 872.7 L320.5 870.4 L322.6 867.8 L324.7 865.2 L326.9 864.8 L329.2 864.2 L331.3 863.3 L332.6 859.5 L334.0 853.9 L335.0 848.7 L336.0 845.7 L337.8 839.7 L339.3 844.2 L340.6 850.3 L342.2 853.5 L343.8 850.4 L345.6 845.2 L347.7 841.9 L349.4 843.0 L351.3 845.7 L353.1 848.2 L355.5 851.2 L357.7 856.8 L359.7 857.2 L361.3 854.6 L362.0 848.3 L362.6 844.7 L364.0 841.4 L365.7 842.8 L367.5 850.5 L369.5 856.5 L371.2 860.2 L373.0 862.6 L374.9 864.7 L377.4 869.4 L380.0 875.5 L382.6 876.2 L384.1 876.9 L385.6 874.1 L386.9 872.5 L389.0 868.5 L390.7 865.1 L392.4 858.7 L393.4 855.6 L394.3 852.0 L395.3 847.1 L396.3 845.1 L399.0 839.0 L401.4 835.1 L404.2 835.6 L406.6 833.6 L408.7 837.3 L410.3 844.4 L412.1 848.7 L413.4 853.9 L414.7 857.4 L416.1 860.1 L417.6 862.6 L420.8 867.3 L424.1 864.1 L427.6 859.2 L430.6 857.0 L432.5 860.6 L433.2 863.8 L433.8 867.7 L436.1 872.5 L438.7 872.9 L441.8 873.1 L444.8 872.9 L447.7 874.2 L450.5 879.0 L453.5 880.1 L457.0 880.9 L460.7 883.0 L464.5 884.2 L468.8 887.4 L473.3 888.5 L477.6 891.5 L480.6 893.2 L483.5 894.0 L486.3 895.2 L489.1 891.9 L491.9 890.9 L495.0 888.5 L499.2 890.7 L503.7 890.7 L508.1 893.3 L511.8 893.5 L515.5 892.4 L519.0 891.1 L522.8 894.0 L526.5 894.9 L530.0 898.1 L532.2 899.1 L534.2 899.4 L536.5 899.7 L539.9 901.6 L543.6 901.1 L547.4 900.1 L551.7 899.8 L556.1 899.7 L560.5 900.4 L564.9 899.7 L569.2 900.6 L573.6 900.9 L578.7 901.0 L583.9 902.3 L588.9 903.1 L592.7 903.8 L596.3 903.5 L599.8 903.3 L602.8 904.0 L605.7 904.3 L608.5 905.6 L611.2 905.1 L613.7 903.0 L616.2 901.1 L618.7 901.5 L621.3 900.6 L623.8 898.1 L626.0 897.5 L628.2 899.0 L630.4 900.8 L633.2 902.3 L636.1 904.0 L639.1 906.1 L642.7 910.2 L646.3 912.7 L650.0 914.8 L653.7 912.5 L657.3 910.8 L660.9 906.3 L663.8 906.0 L666.6 905.5 L669.7 904.3 L673.9 904.4 L678.3 905.8 L682.8 907.3 L687.2 908.6 L691.5 910.3 L695.9 911.6 L700.2 912.0 L704.6 910.7 L709.0 910.1 L713.2 909.7 L717.4 908.9 L722.1 910.1 L725.7 908.1 L729.3 909.1 L733.2 908.7 L737.2 906.9 L741.1 906.7 L745.0 906.5 L748.6 906.4 L752.2 906.0 L755.8 906.1 L759.4 907.5 L766.2 907.4 L772.1 909.7 L777.8 912.9 L783.7 915.0 L790.0 915.2 L796.6 914.2 L803.3 912.8 L807.2 911.7 L811.1 910.6 L815.1 909.2 L819.1 907.8 L823.2 907.1 L827.3 906.3 L831.6 906.7 L835.8 907.0 L840.1 908.1 L844.4 909.1 L849.0 909.9 L853.5 910.6 L857.4 910.7 L861.3 910.8 L865.2 910.8 L869.3 910.7 L873.4 910.6 L877.5 910.4 L881.2 910.5 L884.8 910.6 L888.5 910.6 L894.7 911.8 L900.3 913.3 L905.9 913.9 L912.3 912.9 L918.9 910.9 L925.6 909.6 L929.2 909.5 L932.8 909.4 L936.4 909.7 L940.1 910.0 L943.7 910.3 L947.4 910.6 L951.0 911.1 L954.7 911.6 L958.3 912.1 L961.9 912.7 L965.6 912.7 L969.2 912.8 L973.3 911.9 L977.3 910.9 L981.4 909.4 L985.5 908.0 L989.4 907.1 L993.3 906.3 L999.2 907.2 L1004.9 909.0 L1010.7 909.6 L1014.2 908.2 L1017.6 906.9 L1021.2 904.8 L1024.7 902.6 L1028.7 901.2 L1032.6 899.7 L1036.4 899.7 L1040.2 899.6 L1044.0 899.6 L1048.1 900.2 L1052.3 900.8 L1056.5 901.5 L1060.1 902.3 L1063.8 903.2 L1067.5 904.1 L1073.7 906.8 L1079.2 909.9 L1085.0 911.7 L1091.8 911.0 L1095.4 909.9 L1099.0 908.9 L1102.9 908.1 L1106.8 907.4 L1110.5 907.7 L1114.3 908.0 L1118.0 908.4 L1122.1 909.1 L1126.2 909.8 L1130.2 910.5 L1134.1 910.5 L1137.9 910.6 L1141.7 910.6 L1146.3 908.8 L1151.0 906.9 L1155.3 904.2 L1159.6 901.6 L1163.8 900.1 L1167.9 898.6 L1174.7 899.8 L1178.0 901.2 L1181.3 902.7 L1187.6 905.2 L1192.8 906.2 L1197.8 906.9 L1202.8 908.5 L1205.8 910.4 L1208.7 912.4 L1211.6 914.9 L1214.5 917.4 L1217.4 919.5 L1220.3 921.6 L1225.3 924.2 L1230.2 926.3 L1235.6 927.0 L1239.6 925.7 L1243.7 924.3 L1248.0 922.0 L1252.3 919.6 L1256.0 918.4 L1259.6 917.2 L1262.9 917.9 L1265.6 919.4 L1268.3 921.6 L1272.4 925.9 L1276.4 931.4 L1280.4 936.8" stroke="#35A464" stroke-width="2.4" fill="none" stroke-linejoin="round" clip-path="url(#cA)"/>
<path d="M1539.8 175.6 L1541.1 175.0 L1542.4 173.1 L1543.6 170.3 L1544.9 169.4 L1546.2 167.4 L1547.7 166.0 L1548.9 165.6 L1550.3 166.2 L1551.7 164.9 L1553.1 164.8 L1554.4 165.1 L1555.5 165.9 L1556.4 167.0 L1557.1 168.9 L1557.7 170.9 L1558.2 171.4 L1558.8 173.1 L1559.4 174.5 L1560.0 172.7 L1560.7 171.7 L1561.3 171.5 L1562.0 170.8 L1562.7 169.5 L1563.3 168.5 L1563.9 168.9 L1564.5 169.3 L1565.2 170.0 L1565.8 170.5 L1566.5 171.8 L1567.3 171.8 L1568.4 171.8 L1569.6 171.8 L1570.9 170.3 L1572.3 168.1 L1573.7 168.5 L1575.1 166.0 L1576.4 167.1 L1577.7 167.1 L1579.1 167.8 L1580.4 167.1 L1581.7 167.2 L1582.9 168.2 L1584.4 169.3 L1585.8 170.9 L1587.2 173.2 L1588.4 176.0 L1589.6 177.8 L1590.8 178.8 L1591.5 179.4 L1592.1 181.5 L1592.7 183.2 L1593.3 182.7 L1594.0 183.1 L1594.7 184.1 L1595.8 184.4 L1596.9 182.1 L1598.2 179.0 L1599.5 176.3 L1600.9 174.7 L1602.5 171.8 L1604.3 171.9 L1606.2 169.3 L1608.3 169.7 L1610.4 169.2 L1612.4 168.1 L1614.3 167.7 L1615.7 165.1 L1617.1 165.7 L1618.4 163.1 L1619.6 163.6 L1620.8 162.5 L1622.1 159.8 L1623.4 160.1 L1624.7 157.6 L1626.0 155.8 L1627.3 154.6 L1628.6 152.5 L1629.9 153.6 L1631.2 153.5 L1632.5 154.1 L1633.8 153.3 L1635.1 154.7 L1636.4 156.1 L1637.8 156.5 L1639.1 156.9 L1640.4 158.0 L1641.7 158.2 L1643.0 158.3 L1644.3 158.3 L1645.6 158.5 L1647.0 159.2 L1648.4 157.9 L1649.8 158.6 L1651.1 156.6 L1652.4 156.8 L1653.5 155.4 L1654.3 153.9 L1654.9 153.4 L1655.5 151.3 L1656.0 149.9 L1656.6 150.1 L1657.4 148.0 L1658.2 149.7 L1659.1 148.9 L1660.1 149.3 L1661.1 150.1 L1662.0 150.5 L1662.9 150.3 L1664.1 152.5 L1665.2 156.4 L1666.2 158.8 L1667.1 162.6 L1668.1 166.3 L1669.1 168.2 L1670.4 171.6 L1671.7 174.7 L1673.1 178.1 L1674.5 179.8 L1675.8 184.9 L1677.0 188.1 L1678.6 194.5 L1679.3 197.5 L1680.0 202.2 L1680.6 205.0 L1681.2 209.6 L1681.8 213.3 L1682.4 218.0 L1683.0 222.2 L1683.6 225.6 L1684.2 230.5 L1684.8 235.3 L1685.5 240.8 L1686.2 245.0 L1686.9 250.6 L1687.6 255.1 L1688.0 259.0 L1688.4 261.5 L1688.9 265.0 L1689.3 270.3 L1689.8 273.0 L1690.2 276.5 L1690.6 280.1 L1691.0 283.7 L1691.4 287.2 L1691.8 290.7 L1692.2 294.3 L1692.6 297.8 L1693.2 302.9 L1693.8 308.0 L1694.4 313.0 L1694.9 318.0 L1695.5 323.0 L1696.0 328.0 L1696.6 333.1 L1697.1 338.3 L1697.4 341.8 L1697.7 345.4 L1698.0 349.0 L1698.3 352.8 L1698.6 356.6 L1698.9 360.5 L1699.1 364.5 L1699.4 368.6 L1699.6 372.7 L1699.9 376.8 L1700.0 381.1 L1700.2 385.4 L1700.4 389.7 L1700.6 394.0 L1700.7 397.7 L1700.9 401.3 L1701.0 404.9 L1701.1 408.6 L1701.2 412.2 L1701.4 416.0 L1701.5 419.7 L1701.6 423.5 L1701.7 427.3 L1701.8 431.0 L1701.9 434.9 L1702.0 438.8 L1702.1 442.7 L1702.2 446.5 L1702.3 450.4 L1702.4 454.4 L1702.5 458.3 L1702.6 462.3 L1702.7 466.2 L1702.8 470.2 L1702.9 473.7 L1703.0 477.2 L1703.1 480.7 L1703.2 484.2 L1703.3 487.7 L1703.3 491.2 L1703.4 494.7 L1703.5 498.3 L1703.6 502.0 L1703.7 505.7 L1703.7 509.3 L1703.8 513.0 L1703.9 516.7 L1704.0 520.4 L1704.0 524.1 L1704.1 527.9 L1704.2 531.7 L1704.2 535.5 L1704.3 539.2 L1704.4 543.0 L1704.4 546.8 L1704.5 550.6 L1704.6 554.5 L1704.6 558.3 L1704.7 562.1 L1704.8 566.0 L1704.8 569.8 L1704.9 573.6 L1705.0 577.5 L1705.1 581.3 L1705.1 585.1 L1705.2 589.0 L1705.3 592.8 L1705.3 596.6 L1705.4 600.5 L1705.5 604.2 L1705.6 608.0 L1705.6 611.8 L1705.7 615.6 L1705.8 619.3 L1705.9 623.1 L1706.0 626.9 L1706.0 630.7 L1706.1 634.6 L1706.2 638.4 L1706.3 642.2 L1706.4 646.1 L1706.5 649.9 L1706.6 653.7 L1706.6 657.7 L1706.7 661.6 L1706.8 665.6 L1706.9 669.6 L1707.0 673.5 L1707.1 677.5 L1707.2 681.4 L1707.3 685.4 L1707.4 689.3 L1707.4 693.3 L1707.5 697.3 L1707.6 701.2 L1707.7 705.2 L1707.8 709.1 L1707.9 713.0 L1708.0 716.8 L1708.1 720.6 L1708.2 724.5 L1708.3 728.3 L1708.4 732.1 L1708.5 736.0 L1708.6 739.5 L1708.7 743.1 L1708.8 746.7 L1708.9 750.3 L1709.0 753.9 L1709.1 757.5 L1709.2 761.1 L1709.3 764.8 L1709.4 768.6 L1709.5 772.4 L1709.6 776.1 L1709.8 779.9 L1709.9 783.6 L1710.0 787.2 L1710.0 790.8 L1710.1 794.4 L1710.2 798.0 L1710.3 801.6 L1710.3 805.2 L1710.3 808.8 L1710.4 812.5 L1710.4 817.0 L1710.5 821.6 L1710.6 826.1 L1710.7 830.2 L1710.8 834.2 L1710.9 838.2 L1711.3 843.0 L1711.7 847.8 L1713.0 854.2 L1713.5 855.2 L1713.9 855.9 L1714.4 856.5 L1715.0 857.0 L1715.5 857.5 L1716.1 858.1 L1717.0 858.9 L1717.9 859.8 L1718.9 860.7 L1719.9 861.5 L1720.8 862.0 L1721.6 862.0 L1722.6 861.3 L1723.5 859.9 L1724.3 858.0 L1725.0 855.6 L1725.7 853.0 L1726.3 850.2 L1727.0 846.4 L1727.6 842.6 L1728.1 837.5 L1728.6 832.4 L1728.9 828.5 L1729.2 824.7 L1729.5 820.9 L1729.7 817.1 L1730.0 813.2 L1730.2 809.4 L1730.6 804.3 L1731.0 799.2 L1731.4 795.3 L1731.8 791.5 L1732.2 788.7 L1732.6 786.0 L1733.0 783.5 L1733.4 781.5 L1733.8 780.2 L1734.2 779.7 L1735.0 782.5 L1735.4 786.1 L1735.8 789.8 L1736.3 794.8 L1736.7 799.8 L1737.0 803.6 L1737.3 807.3 L1737.6 811.1 L1737.9 814.7 L1738.3 818.3 L1738.6 821.9 L1739.1 826.3 L1739.6 830.6 L1740.4 836.1 L1741.0 841.6 L1741.7 846.8 L1742.5 851.5 L1743.6 855.4 L1745.1 858.1 L1746.1 859.0 L1747.2 859.7 L1748.3 860.3 L1749.4 860.6 L1750.5 860.6 L1751.4 860.4 L1752.3 859.7 L1753.1 858.5 L1753.7 857.0 L1754.2 855.0 L1754.8 852.8 L1755.3 850.2 L1755.9 846.6 L1756.4 843.0 L1757.0 839.4 L1757.3 835.5 L1757.7 831.6 L1758.0 827.7 L1758.4 823.8 L1758.6 820.2 L1758.9 816.5 L1759.1 812.8 L1759.4 809.2 L1759.6 805.5 L1759.8 801.6 L1760.1 797.8 L1760.3 793.9 L1760.5 790.1 L1760.8 786.2 L1761.0 782.5 L1761.2 778.9 L1761.5 775.2 L1761.7 771.5 L1761.9 767.8 L1762.2 764.0 L1762.5 760.1 L1762.9 756.2 L1763.2 752.3 L1763.6 747.1 L1764.1 741.9 L1764.4 738.3 L1764.7 734.6 L1765.0 730.9 L1765.3 727.4 L1765.6 723.9 L1766.0 720.4 L1766.4 715.9 L1766.9 711.4 L1767.8 705.2 L1768.6 702.9 L1769.5 705.3 L1770.3 711.6 L1770.7 716.2 L1771.1 720.7 L1771.3 724.3 L1771.6 727.8 L1771.8 731.3 L1772.1 735.0 L1772.3 738.6 L1772.6 742.2 L1773.0 747.3 L1773.3 752.3 L1773.6 756.9 L1774.0 761.5 L1774.3 766.1 L1774.5 770.3 L1774.7 774.5 L1774.9 778.7 L1775.1 782.8 L1775.3 787.2 L1775.5 791.5 L1775.7 795.8 L1776.0 800.1 L1776.2 803.9 L1776.4 807.8 L1776.6 811.6 L1776.8 815.4 L1777.1 819.1 L1777.5 822.8 L1777.8 826.4 L1778.8 830.6 L1779.6 828.4 L1780.5 822.5 L1780.9 818.4 L1781.3 814.3 L1781.8 809.9 L1782.2 805.5 L1782.7 801.5 L1783.2 797.4 L1784.3 791.5 L1784.9 789.2 L1785.4 787.0 L1785.9 785.0 L1786.6 783.3 L1787.3 782.0 L1788.2 781.3 L1789.1 781.1 L1790.2 781.2 L1791.4 781.6 L1792.5 782.1 L1793.6 782.8 L1794.5 783.6 L1795.5 785.3 L1796.2 787.7 L1796.9 790.4 L1797.4 792.9 L1797.9 794.7 L1798.4 795.4 L1799.3 793.2 L1800.0 787.6 L1800.3 783.6 L1800.6 779.6 L1800.9 775.0 L1801.1 770.3 L1801.4 765.6 L1801.7 760.9 L1802.0 756.6 L1802.3 752.3 L1802.6 748.7 L1802.9 745.0 L1803.2 741.4 L1803.5 737.1 L1803.8 732.8 L1804.1 728.5 L1804.4 724.0 L1804.7 719.6 L1805.0 715.2 L1805.3 711.3 L1805.7 707.4 L1806.0 703.5 L1806.4 699.3 L1806.9 695.1 L1807.8 691.9 L1808.6 694.2 L1809.3 700.0 L1809.7 704.2 L1810.1 708.4 L1810.5 713.2 L1810.8 718.1 L1811.2 723.0 L1811.7 727.9 L1812.1 732.2 L1812.5 736.6 L1813.0 741.6 L1813.6 746.7 L1813.9 750.6 L1814.3 754.6 L1814.6 758.5 L1815.0 762.5 L1815.4 766.5 L1815.8 770.5 L1816.1 774.0 L1816.5 777.5 L1816.9 781.0 L1817.6 784.8 L1818.2 788.5 L1819.6 791.5 L1820.6 790.5 L1821.6 787.8 L1822.7 783.7 L1823.8 778.8 L1824.8 773.4 L1825.8 768.0 L1826.4 763.4 L1826.9 758.9 L1827.4 754.3 L1827.6 750.7 L1827.8 747.0 L1828.0 743.4 L1828.2 739.8 L1828.4 736.1 L1828.6 732.1 L1828.8 728.1 L1829.0 724.2 L1829.2 720.2 L1829.4 716.2 L1829.6 712.4 L1829.8 708.6 L1830.1 704.8 L1830.3 701.0 L1830.6 697.3 L1831.0 693.5 L1831.5 689.8 L1831.9 686.0 L1832.4 682.2 L1833.8 678.1 L1835.3 673.9 L1836.2 673.0 L1837.3 672.3 L1838.4 672.0 L1839.5 671.8 L1840.6 672.0 L1841.5 672.4 L1843.0 674.3 L1844.2 677.8 L1845.2 682.4 L1846.0 687.5 L1846.8 692.6 L1847.8 697.4 L1849.0 702.4 L1850.2 707.4 L1851.5 712.5 L1852.7 717.7 L1853.8 723.1 L1854.8 728.8 L1855.3 732.4 L1855.8 736.1 L1856.2 739.9 L1856.6 743.8 L1857.0 747.8 L1857.3 751.7 L1857.6 755.8 L1857.9 759.9 L1858.3 763.9 L1858.7 767.9 L1859.1 771.9 L1859.5 775.8 L1860.1 780.1 L1860.6 784.3 L1861.2 789.2 L1861.7 794.1 L1862.3 798.9 L1862.9 803.8 L1863.5 808.0 L1864.2 812.2 L1865.4 818.2 L1866.6 820.5 L1867.7 818.7 L1868.7 814.2 L1869.8 807.5 L1870.3 803.6 L1870.8 799.7 L1871.3 795.5 L1871.9 791.4 L1872.4 787.5 L1872.9 783.6 L1873.3 779.8 L1873.8 775.9 L1874.2 772.0 L1874.7 767.7 L1875.1 763.3 L1875.5 758.9 L1875.9 754.3 L1876.3 749.7 L1876.7 745.0 L1877.0 741.5 L1877.3 738.0 L1877.6 734.5 L1878.0 731.0 L1878.4 726.5 L1878.8 722.0 L1879.3 717.5 L1879.7 713.4 L1880.2 709.3 L1880.7 705.3 L1881.3 700.9 L1881.9 696.5 L1882.4 692.2 L1883.0 687.9 L1883.6 683.8 L1884.2 679.7 L1884.9 675.8 L1885.5 671.9 L1886.2 668.3 L1886.9 664.7 L1888.5 658.2 L1889.8 654.0 L1891.1 649.5 L1892.5 645.3 L1893.9 641.8 L1895.2 639.5 L1896.4 638.7 L1897.7 640.9 L1898.7 646.6 L1899.1 650.5 L1899.5 654.5 L1899.9 659.2 L1900.3 663.8 L1900.7 668.5 L1901.0 673.2 L1901.4 677.5 L1901.9 681.8 L1902.2 685.3 L1902.6 688.8 L1902.9 692.4 L1903.3 696.6 L1903.6 700.8 L1904.0 705.0 L1904.3 709.3 L1904.7 713.6 L1905.1 717.9 L1905.4 721.7 L1905.8 725.5 L1906.1 729.3 L1906.6 733.4 L1907.1 737.4 L1908.1 740.5 L1909.2 736.2 L1909.6 732.4 L1910.0 728.6 L1910.3 724.9 L1910.6 720.9 L1910.8 716.9 L1911.1 712.9 L1911.3 709.0 L1911.5 705.4 L1911.7 701.7 L1911.9 698.1 L1912.2 694.5 L1912.4 690.9 L1912.6 687.4 L1912.8 683.8 L1913.0 680.3 L1913.2 676.8 L1913.4 673.2 L1913.6 669.5 L1913.9 665.7 L1914.1 662.0 L1914.4 658.2 L1914.7 654.6 L1915.0 651.0 L1915.3 647.4 L1915.8 642.2 L1916.2 637.0 L1916.7 631.9 L1917.1 626.8 L1917.6 621.7 L1918.0 616.7 L1918.5 611.5 L1919.0 606.3 L1919.3 602.7 L1919.6 599.1 L1919.9 595.6 L1920.2 591.2 L1920.5 586.8 L1920.9 582.4 L1921.1 578.8 L1921.3 575.3 L1921.5 571.7 L1921.7 568.1 L1922.0 564.5 L1922.2 560.9 L1922.4 557.2 L1922.6 553.6 L1923.0 549.0 L1923.3 544.4 L1923.6 539.7 L1924.0 535.6 L1924.4 531.4 L1924.8 527.3 L1925.5 522.2 L1926.2 517.2 L1927.0 512.7 L1927.9 508.2 L1928.9 504.1 L1929.8 500.7 L1930.8 498.4 L1931.6 497.6 L1932.7 499.5 L1933.6 504.5 L1934.5 511.4 L1934.9 515.3 L1935.3 519.2 L1935.8 522.9 L1936.2 526.7 L1937.1 532.9 L1937.9 537.3 L1938.7 542.2 L1939.5 546.9 L1940.3 551.0 L1941.1 553.8 L1941.8 554.8 L1942.9 552.2 L1943.8 545.3 L1944.3 540.3 L1944.8 535.4 L1945.0 531.6 L1945.3 527.8 L1945.6 524.0 L1945.9 520.1 L1946.2 516.1 L1946.5 512.2 L1946.8 508.7 L1947.0 505.1 L1947.3 501.5 L1947.6 497.4 L1947.9 493.3 L1948.3 489.1 L1948.6 484.7 L1948.8 480.3 L1949.1 475.9 L1949.4 471.3 L1949.7 466.8 L1950.0 462.2 L1950.3 457.7 L1950.5 453.1 L1950.8 448.6 L1951.1 444.2 L1951.4 439.8 L1951.8 435.4 L1952.1 431.3 L1952.4 427.2 L1952.8 423.2 L1953.2 418.3 L1953.6 413.5 L1953.9 408.7 L1954.3 403.8 L1954.6 399.1 L1955.0 394.3 L1955.5 390.0 L1955.9 385.6 L1956.6 381.9 L1957.2 378.1 L1959.1 372.2 L1960.2 370.1 L1961.4 368.3 L1962.6 366.9 L1964.0 365.6 L1965.4 364.2 L1966.9 362.8 L1968.7 361.1 L1970.7 359.4 L1972.8 357.6 L1974.8 355.9 L1976.8 354.3 L1978.7 352.6 L1980.1 351.1 L1981.5 349.3 L1982.8 347.5 L1984.1 346.0 L1985.3 345.0 L1986.5 344.8 L1988.1 346.5 L1989.5 350.3 L1990.8 355.5 L1991.9 361.4 L1993.1 367.2 L1994.3 372.2 L1995.5 376.7 L1996.6 381.3 L1997.6 385.9 L1998.8 390.2 L2000.3 394.1 L2002.2 397.3 L2003.9 399.4 L2005.9 401.3 L2008.0 403.0 L2010.1 404.3 L2012.1 405.1 L2013.9 405.1 L2015.5 404.2 L2016.9 402.4 L2018.2 399.9 L2019.3 397.2 L2020.5 394.4 L2021.8 391.8 L2023.1 389.3 L2024.4 386.7 L2025.7 384.1 L2027.0 381.4 L2028.3 378.8 L2029.6 376.1 L2030.9 373.6 L2032.2 371.2 L2033.5 368.8 L2034.8 366.3 L2036.1 363.6 L2037.4 360.5 L2039.4 354.5 L2040.4 351.1 L2041.4 347.7 L2042.4 343.9 L2043.3 340.2 L2044.3 336.3 L2045.3 332.4 L2046.2 328.5 L2047.2 324.7 L2048.2 321.0 L2049.2 317.4 L2050.1 313.9 L2051.0 310.5 L2052.0 307.0 L2052.9 303.5 L2053.8 300.0 L2054.7 296.6 L2056.6 289.9 L2058.7 283.7 L2060.9 278.2 L2062.8 274.4 L2064.8 270.5 L2066.8 266.8 L2068.9 263.8 L2070.9 261.7 L2072.7 260.9 L2074.1 261.5 L2075.5 263.1 L2076.9 265.4 L2078.2 268.1 L2079.4 271.2 L2080.5 274.3 L2082.3 280.2 L2083.0 283.6 L2083.8 287.0 L2084.4 290.9 L2085.0 294.8 L2085.6 298.9 L2086.2 303.1 L2086.7 307.6 L2087.3 312.0 L2087.8 316.7 L2088.4 321.3 L2088.7 325.0 L2089.1 328.7 L2089.5 332.4 L2089.9 336.1 L2090.2 340.3 L2090.6 344.5 L2090.9 348.7 L2091.3 352.8 L2091.5 356.4 L2091.7 359.9 L2092.0 363.5 L2092.2 367.1 L2092.5 370.6 L2092.7 374.2 L2093.0 377.9 L2093.2 381.5 L2093.4 385.1 L2093.7 388.7 L2093.9 392.3 L2094.1 395.8 L2094.4 399.4 L2094.6 403.0 L2094.9 406.5 L2095.2 410.7 L2095.5 414.8 L2095.9 419.0 L2096.2 423.2 L2096.5 426.7 L2096.8 430.2 L2097.1 433.8 L2097.4 437.3 L2097.7 440.9 L2098.0 444.4 L2098.3 448.0 L2098.6 451.6 L2098.9 455.0 L2099.2 458.5 L2099.5 462.0 L2099.9 465.5 L2100.3 469.9 L2100.7 474.4 L2101.1 478.8 L2101.6 482.8 L2102.1 486.9 L2102.5 490.9 L2103.0 494.5 L2103.5 498.0 L2104.0 501.5 L2105.0 507.6 L2106.1 513.8 L2107.2 519.6 L2108.3 524.4 L2109.3 527.7 L2110.3 528.9 L2111.4 527.0 L2112.3 521.7 L2112.8 517.9 L2113.2 514.1 L2113.7 509.5 L2114.1 505.0 L2114.5 500.1 L2114.9 495.3 L2115.4 490.6 L2115.8 485.8 L2116.1 481.5 L2116.4 477.2 L2116.7 472.9 L2117.0 468.6 L2117.2 464.4 L2117.4 460.2 L2117.6 456.0 L2117.8 451.8 L2118.0 447.6 L2118.2 443.8 L2118.4 440.1 L2118.5 436.3 L2118.7 432.5 L2118.8 428.8 L2119.0 425.0 L2119.2 421.3 L2119.4 417.6 L2119.6 414.0 L2119.8 410.3 L2119.9 406.6 L2120.1 402.9 L2120.4 399.0 L2120.7 395.1 L2121.0 391.1 L2121.3 387.2 L2121.6 383.3 L2122.1 379.6 L2122.6 375.8 L2123.1 372.1 L2123.6 368.3 L2124.8 363.3 L2126.0 359.2 L2127.2 355.6 L2128.6 352.2 L2130.0 348.7 L2131.5 344.8 L2133.2 339.7 L2135.1 334.4 L2137.0 328.9 L2139.0 323.4 L2141.1 318.2 L2143.2 313.5 L2145.0 309.8 L2146.9 306.2 L2148.8 302.8 L2150.8 299.6 L2152.8 296.6 L2155.0 293.9 L2156.8 291.8 L2158.7 290.0 L2160.7 288.3 L2162.7 286.7 L2164.7 285.2 L2166.7 283.7 L2168.6 282.1 L2170.6 280.4 L2172.5 278.7 L2174.5 277.3 L2176.5 276.3 L2178.5 275.8 L2180.4 276.1 L2182.4 276.9 L2184.3 278.1 L2186.3 279.5 L2188.3 280.9 L2190.2 282.1 L2192.2 283.2 L2194.1 284.3 L2196.0 285.4 L2197.9 286.5 L2199.9 287.5 L2202.0 288.4 L2204.5 289.0 L2207.2 289.2 L2210.0 289.4 L2212.7 289.7 L2215.3 290.3 L2217.7 291.5 L2220.1 293.9 L2222.2 297.0 L2224.0 300.7 L2225.7 304.7 L2227.5 309.0 L2229.4 313.5 L2231.0 316.8 L2232.5 320.2 L2234.2 324.0 L2235.8 327.8 L2237.5 331.9 L2239.2 335.9 L2240.9 340.1 L2242.6 344.2 L2244.2 348.4 L2245.9 352.5 L2247.4 356.5 L2249.0 360.5 L2250.4 364.1 L2251.8 367.8 L2253.1 371.5 L2254.4 375.2 L2255.6 378.9 L2256.9 382.6 L2258.1 386.2 L2259.4 389.8 L2260.7 393.3 L2262.0 396.8 L2263.3 400.2 L2264.7 403.6 L2267.2 409.0 L2269.9 414.2 L2272.5 419.1 L2275.2 424.1 L2277.8 429.3 L2280.4 434.9 L2281.7 438.5 L2283.1 442.2 L2284.5 446.0 L2285.8 449.9 L2287.1 453.9 L2288.3 457.9 L2289.6 462.0 L2290.9 466.0 L2292.1 470.1 L2293.4 474.1 L2294.7 478.0 L2296.0 481.9 L2297.3 485.6 L2298.6 489.3 L2299.9 492.9 L2301.2 496.5 L2302.5 500.1 L2303.8 503.8 L2305.1 507.3 L2306.4 510.9 L2307.7 514.5 L2309.0 518.0 L2310.4 521.5 L2311.7 525.0 L2313.0 528.3 L2314.3 531.7 L2315.6 534.9 L2316.9 538.2 L2319.5 544.6 L2322.2 551.1 L2323.5 554.3 L2324.8 557.6 L2326.1 560.9 L2327.4 564.2 L2328.7 567.7 L2330.1 571.2 L2331.4 574.7 L2332.8 578.2 L2334.2 581.8 L2335.5 585.3 L2336.9 588.9 L2338.2 592.5 L2339.4 596.2 L2340.7 599.8 L2341.9 603.6 L2343.0 607.3 L2344.2 611.5 L2345.3 615.6 L2346.4 619.9 L2347.4 624.3 L2348.4 628.6 L2349.4 633.0 L2350.3 637.4 L2351.3 641.8 L2352.1 646.0 L2353.0 650.2 L2353.9 654.2 L2354.8 658.2 L2356.1 664.8 L2357.2 671.5 L2358.3 678.0 L2359.5 684.0 L2360.9 689.3 L2362.6 693.5 L2363.8 695.4 L2364.9 697.1 L2366.2 698.6 L2367.5 699.8 L2368.9 700.7 L2370.5 701.3 L2372.2 701.5 L2374.2 701.0 L2376.2 700.2 L2378.3 699.4 L2380.3 698.9 L2382.2 699.0 L2384.3 699.8 L2386.3 701.2 L2388.3 702.9 L2390.3 704.9 L2392.1 707.0 L2394.0 709.2 L2396.1 712.0 L2398.1 715.0 L2400.1 718.3 L2402.0 721.8 L2403.8 725.3 L2405.7 728.8 L2407.7 732.6 L2409.7 736.6 L2411.6 740.6 L2413.5 744.6 L2415.5 748.6 L2417.5 752.3 L2419.4 755.9 L2421.4 759.8 L2423.4 763.7 L2425.4 767.0 L2427.4 769.4 L2429.2 770.3 L2430.6 769.9 L2432.0 768.9 L2433.3 767.2 L2434.5 765.1 L2435.8 762.7 L2437.1 760.1 L2438.5 756.5 L2439.8 752.8 L2441.1 748.0 L2442.5 743.1 L2443.3 739.4 L2444.2 735.7 L2445.0 731.9 L2445.9 728.0 L2446.7 724.0 L2447.5 720.0 L2448.4 716.1 L2449.3 712.2 L2450.1 708.3 L2451.0 704.6 L2451.9 701.0 L2452.7 697.4 L2454.0 692.8 L2455.3 688.1 L2456.5 683.5 L2457.8 679.0 L2459.1 674.5 L2460.4 670.0 L2461.7 665.5 L2463.0 661.0 L2464.3 656.4 L2465.7 651.9 L2467.0 647.2 L2468.4 642.6 L2469.4 639.1 L2470.4 635.6 L2471.4 632.1 L2472.4 628.4 L2473.5 624.7 L2474.5 621.1 L2475.5 617.4 L2476.5 613.7 L2477.6 610.0 L2478.7 606.4 L2479.7 602.8 L2480.8 599.2 L2482.0 595.8 L2483.1 592.4 L2484.3 589.0 L2486.1 584.4 L2488.0 579.9 L2490.9 573.7 L2493.9 567.8 L2497.0 562.3 L2500.3 557.2 L2503.8 552.6 L2507.6 548.5 L2511.1 545.6 L2514.9 543.1 L2518.8 541.0 L2522.9 539.0 L2527.0 537.2 L2531.1 535.2 L2535.6 532.8 L2540.2 530.2 L2545.0 527.7 L2549.6 525.5 L2554.2 524.0 L2558.5 523.5 L2562.0 523.9 L2565.3 525.1 L2568.5 526.8 L2571.7 528.8 L2574.8 530.9 L2578.1 532.9 L2582.0 535.0 L2586.1 537.1 L2590.1 539.4 L2594.1 541.9 L2598.0 544.9 L2601.6 548.5 L2603.9 551.6 L2606.2 554.7 L2608.3 558.3 L2610.3 562.0 L2612.3 566.1 L2614.2 570.2 L2616.1 574.4 L2617.9 578.7 L2619.7 583.0 L2621.6 587.3 L2623.3 591.4 L2625.1 595.6 L2626.9 599.5 L2628.7 603.5 L2630.4 607.7 L2632.1 611.8 L2633.7 615.9 L2635.4 620.1 L2637.0 624.1 L2638.6 628.1 L2640.2 631.9 L2641.7 635.7 L2643.2 639.1 L2644.7 642.6 L2646.8 647.0 L2648.8 651.0 L2650.7 654.9 L2652.6 658.6 L2654.6 662.3 L2656.5 666.1" stroke="#E5313A" stroke-width="2.4" fill="none" stroke-linejoin="round" clip-path="url(#cB)"/>
<path d="M2914.5 348.0 L2915.6 351.8 L2916.7 355.7 L2917.7 359.6 L2918.8 363.4 L2920.0 367.1 L2921.3 370.7 L2922.7 374.3 L2924.3 378.3 L2925.9 382.3 L2927.5 385.7 L2929.0 388.0 L2930.4 388.8 L2931.8 387.3 L2932.9 383.4 L2934.0 378.1 L2935.0 372.2 L2936.0 366.4 L2937.2 361.6 L2938.3 358.0 L2939.3 354.0 L2940.4 350.1 L2941.6 346.8 L2942.7 344.4 L2944.0 343.5 L2945.4 344.3 L2946.9 346.5 L2948.5 349.7 L2950.1 353.6 L2951.6 357.7 L2953.1 361.6 L2955.0 368.2 L2956.8 376.7 L2958.6 385.5 L2960.3 393.5 L2961.9 399.3 L2963.5 401.5 L2964.9 399.9 L2966.2 395.6 L2967.4 389.6 L2968.7 382.9 L2969.9 376.3 L2971.2 370.7 L2972.2 366.3 L2973.2 361.5 L2974.1 356.9 L2975.1 352.8 L2976.4 349.7 L2978.0 348.0 L2979.3 347.8 L2980.8 348.1 L2982.4 348.9 L2984.0 349.9 L2985.6 351.2 L2987.1 352.6 L2989.2 355.8 L2991.2 360.4 L2993.1 365.5 L2994.9 370.3 L2996.6 373.8 L2998.4 375.2 L3000.0 374.3 L3001.5 371.9 L3003.0 368.4 L3004.5 364.5 L3006.0 360.5 L3007.5 357.1 L3009.0 353.7 L3010.5 349.7 L3012.0 345.8 L3013.5 342.4 L3015.0 339.9 L3016.6 338.9 L3018.0 339.5 L3019.6 341.2 L3021.2 343.6 L3022.7 346.5 L3024.2 349.6 L3025.6 352.6 L3027.3 356.6 L3028.7 361.3 L3030.1 366.3 L3031.5 371.3 L3033.0 375.9 L3034.7 379.8 L3036.1 382.1 L3037.5 384.4 L3039.1 386.4 L3040.6 388.3 L3042.2 389.8 L3043.8 391.1 L3044.9 391.7 L3046.1 391.9 L3047.3 392.1 L3048.4 392.2 L3049.6 392.6 L3050.6 393.4 L3052.1 395.6 L3053.4 398.7 L3054.5 402.5 L3055.5 406.8 L3056.4 411.3 L3057.4 416.0 L3058.8 424.2 L3060.1 433.6 L3061.2 443.7 L3062.3 454.3 L3063.2 464.8 L3064.2 475.0 L3065.1 484.6 L3065.9 494.0 L3066.6 503.3 L3067.4 512.9 L3068.0 523.1 L3068.7 533.9 L3069.6 550.0 L3070.4 567.3 L3071.1 585.5 L3071.8 604.3 L3072.5 623.5 L3073.2 642.8 L3074.0 664.6 L3074.8 687.1 L3075.5 710.0 L3076.3 733.1 L3077.0 756.1 L3077.8 778.8 L3078.4 803.5 L3078.9 831.6 L3079.3 859.7 L3080.0 884.1 L3080.9 901.4 L3082.3 908.0 L3083.2 905.9 L3084.0 900.6 L3084.9 893.2 L3086.0 885.4 L3087.4 878.6 L3089.1 874.0 L3090.1 872.7 L3091.2 871.5 L3092.4 870.5 L3093.6 869.9 L3094.8 869.5 L3095.9 869.5 L3097.1 870.0 L3098.3 871.2 L3099.5 872.8 L3100.6 874.6 L3101.7 876.6 L3102.7 878.5 L3103.9 881.6 L3105.0 885.3 L3106.1 889.3 L3107.1 892.9 L3108.2 895.6 L3109.5 896.7 L3110.9 896.1 L3112.3 894.3 L3113.9 891.7 L3115.5 888.7 L3117.0 885.7 L3118.6 883.1 L3120.1 880.6 L3121.5 877.7 L3122.9 874.9 L3124.4 872.4 L3126.0 870.5 L3127.7 869.5 L3129.1 869.6 L3130.7 870.6 L3132.4 871.9 L3134.0 873.2 L3135.4 874.0 L3136.7 874.0 L3138.4 870.9 L3139.6 864.8 L3140.3 857.3 L3140.9 850.0 L3141.4 844.5 L3142.2 842.3 L3143.1 844.8 L3143.8 851.5 L3144.6 860.6 L3145.4 870.8 L3146.5 880.3 L3148.1 887.6 L3149.3 891.6 L3150.8 895.8 L3152.4 899.6 L3154.0 902.9 L3155.6 905.0 L3157.1 905.7 L3159.1 903.8 L3161.1 898.8 L3163.0 891.9 L3164.9 884.0 L3166.7 876.2 L3168.5 869.5 L3170.1 863.3 L3171.6 856.4 L3173.1 849.5 L3174.6 843.5 L3176.1 839.3 L3177.5 837.7 L3179.1 840.4 L3180.6 847.1 L3182.1 855.8 L3183.6 864.5 L3185.1 871.3 L3186.6 874.0 L3187.7 873.0 L3188.8 870.4 L3189.8 866.8 L3190.9 862.8 L3192.1 858.9 L3193.4 855.9 L3194.5 853.9 L3195.6 851.8 L3196.8 849.8 L3198.0 848.2 L3199.1 847.1 L3200.2 846.8 L3201.9 848.7 L3203.4 853.0 L3204.8 859.1 L3206.2 865.9 L3207.6 872.7 L3209.3 878.5 L3211.0 884.2 L3212.8 890.6 L3214.7 897.0 L3216.6 902.5 L3218.6 906.4 L3220.6 908.0 L3222.4 906.9 L3224.1 903.7 L3225.9 899.4 L3227.7 894.8 L3229.7 890.6 L3231.9 887.6 L3233.7 886.4 L3235.6 885.7 L3237.6 885.2 L3239.5 884.7 L3241.5 884.1 L3243.3 883.1 L3245.4 881.5 L3247.4 879.6 L3249.4 877.5 L3251.3 875.2 L3253.0 872.5 L3254.6 869.5 L3256.8 863.6 L3258.6 856.4 L3260.0 848.5 L3261.2 840.1 L3262.4 831.9 L3263.7 824.1 L3264.9 816.3 L3266.0 807.4 L3267.0 798.6 L3268.1 790.9 L3269.2 785.4 L3270.5 783.3 L3271.5 785.0 L3272.7 789.2 L3273.8 794.6 L3275.0 800.1 L3276.2 804.3 L3277.3 806.0 L3278.8 803.3 L3280.2 796.5 L3281.6 787.2 L3283.1 777.1 L3284.6 767.7 L3286.4 760.6 L3287.5 757.5 L3288.6 754.4 L3289.9 751.5 L3291.1 749.1 L3292.2 747.5 L3293.2 747.0 L3294.3 749.5 L3295.2 755.5 L3295.9 763.1 L3296.5 770.7 L3297.1 776.5 L3297.7 778.8 L3298.6 775.0 L3299.4 765.0 L3300.1 750.7 L3300.7 734.1 L3301.4 717.1 L3302.2 701.7 L3303.2 683.4 L3304.1 662.9 L3305.0 641.9 L3306.1 622.1 L3307.4 605.2 L3309.0 592.9 L3309.7 589.5 L3310.5 586.3 L3311.3 583.5 L3312.1 581.2 L3312.9 579.8 L3313.6 579.3 L3314.5 580.7 L3315.3 584.5 L3316.0 590.1 L3316.7 596.7 L3317.4 603.9 L3318.1 611.0 L3319.3 625.2 L3320.5 642.3 L3321.5 661.1 L3322.6 680.4 L3323.7 698.8 L3324.9 715.3 L3325.8 727.9 L3326.8 741.4 L3327.8 754.6 L3328.8 765.8 L3329.8 773.6 L3330.8 776.5 L3331.7 774.3 L3332.5 768.4 L3333.4 760.1 L3334.3 750.7 L3335.2 741.4 L3336.2 733.4 L3337.2 726.9 L3338.1 720.2 L3339.1 713.5 L3340.2 707.2 L3341.5 701.7 L3343.0 697.2 L3344.0 695.1 L3345.0 693.1 L3346.1 691.4 L3347.2 689.9 L3348.5 688.8 L3349.8 688.1 L3351.2 688.0 L3352.8 688.6 L3354.5 689.4 L3356.1 690.2 L3357.6 690.6 L3358.9 690.4 L3360.4 688.4 L3361.3 685.2 L3361.9 680.9 L3362.4 676.0 L3362.8 670.7 L3363.4 665.4 L3364.9 656.0 L3366.4 645.2 L3368.0 633.4 L3369.6 621.2 L3371.1 609.0 L3372.5 597.4 L3373.7 586.5 L3374.8 575.4 L3375.9 564.4 L3376.9 553.7 L3378.1 543.4 L3379.3 533.9 L3380.3 527.1 L3381.1 520.5 L3382.1 514.3 L3383.1 508.3 L3384.4 502.8 L3386.1 497.7 L3387.7 494.2 L3389.5 491.0 L3391.4 488.1 L3393.5 485.3 L3395.5 482.4 L3397.4 479.5 L3399.4 476.1 L3401.3 472.1 L3403.2 468.2 L3405.1 464.8 L3407.0 462.3 L3408.8 461.4 L3410.4 461.9 L3412.0 463.5 L3413.5 465.9 L3415.1 468.7 L3416.5 471.9 L3417.9 475.0 L3419.8 480.3 L3421.4 486.5 L3422.8 493.3 L3424.1 500.6 L3425.5 508.2 L3426.9 515.8 L3428.7 526.1 L3430.2 537.7 L3431.7 549.7 L3433.5 561.2 L3435.6 571.4 L3438.3 579.3 L3439.9 582.6 L3441.8 585.8 L3443.7 588.6 L3445.7 590.9 L3447.7 592.3 L3449.6 592.9 L3451.5 591.9 L3453.3 589.5 L3455.2 586.4 L3457.1 583.2 L3459.0 580.6 L3460.9 579.3 L3462.5 579.2 L3464.2 579.7 L3466.0 580.5 L3467.6 581.5 L3469.0 582.6 L3470.0 583.8 L3470.5 584.8 L3470.8 585.9 L3470.9 587.1 L3470.9 588.4 L3471.0 589.9 L3471.2 591.5 L3471.9 596.8 L3472.8 603.9 L3474.0 611.9 L3475.3 619.8 L3476.9 626.8 L3478.8 631.9 L3480.0 633.9 L3481.3 635.9 L3482.7 637.5 L3484.1 638.8 L3485.4 639.5 L3486.5 639.6 L3488.2 637.6 L3489.6 633.1 L3490.7 627.0 L3491.8 620.1 L3492.9 613.1 L3494.2 606.9 L3495.7 601.2 L3497.2 595.4 L3498.8 589.5 L3500.4 583.7 L3502.1 577.9 L3503.8 572.3 L3505.6 567.0 L3507.5 561.9 L3509.5 556.8 L3511.5 551.7 L3513.4 546.6 L3515.4 541.5 L3517.3 536.4 L3519.3 531.4 L3521.2 526.3 L3523.1 521.2 L3525.0 516.0 L3526.9 510.8 L3528.9 505.1 L3530.7 499.3 L3532.6 493.5 L3534.5 487.7 L3536.4 481.9 L3538.5 476.2 L3540.5 470.4 L3542.6 464.5 L3544.7 458.6 L3546.9 453.0 L3549.3 447.9 L3551.9 443.5 L3554.0 440.6 L3556.1 437.9 L3558.3 435.5 L3560.6 433.4 L3563.0 431.8 L3565.4 430.8 L3567.5 430.5 L3569.8 430.6 L3572.1 431.2 L3574.4 431.9 L3576.6 432.9 L3578.8 433.8 L3581.2 435.1 L3583.5 436.5 L3585.7 438.2 L3588.0 440.0 L3590.2 441.8 L3592.3 443.5 L3594.3 445.0 L3596.3 446.4 L3598.3 447.8 L3600.2 449.3 L3602.1 451.1 L3603.8 453.1 L3606.0 456.2 L3608.1 459.7 L3610.0 463.5 L3611.8 467.6 L3613.6 471.9 L3615.4 476.2 L3617.5 481.4 L3619.4 487.0 L3621.4 492.7 L3623.2 498.7 L3625.1 504.7 L3626.9 510.8 L3628.9 517.5 L3630.9 524.4 L3632.8 531.4 L3634.7 538.5 L3636.6 545.8 L3638.5 553.1 L3640.4 561.2 L3642.4 569.5 L3644.3 577.9 L3646.2 586.4 L3648.1 594.8 L3650.0 603.1 L3651.9 610.9 L3653.8 618.6 L3655.7 626.3 L3657.7 633.9 L3659.6 641.6 L3661.5 649.2 L3663.5 656.9 L3665.4 664.6 L3667.3 672.3 L3669.2 680.0 L3671.2 687.7 L3673.1 695.4 L3675.0 703.1 L3676.9 710.8 L3678.8 718.5 L3680.8 726.2 L3682.7 733.8 L3684.6 741.5 L3686.5 749.3 L3688.4 757.0 L3690.4 764.7 L3692.3 772.5 L3694.2 780.1 L3696.2 787.7 L3698.0 794.9 L3699.9 802.0 L3701.9 809.1 L3703.8 816.1 L3705.7 823.1 L3707.7 830.0 L3709.6 836.6 L3711.4 843.4 L3713.2 850.0 L3715.1 856.5 L3717.1 862.7 L3719.2 868.5 L3721.0 872.9 L3722.9 877.2 L3724.8 881.3 L3726.8 885.1 L3728.8 888.6 L3730.8 891.5 L3732.0 893.2 L3733.2 894.8 L3734.4 896.3 L3735.6 897.5 L3737.0 898.5 L3738.5 899.2 L3740.2 899.6 L3742.0 899.6 L3743.9 899.3 L3745.9 898.9 L3747.9 898.6 L3750.0 898.5 L3752.4 898.6 L3755.0 898.8 L3757.6 899.1 L3760.2 899.4 L3762.8 899.4 L3765.4 899.2 L3768.0 898.7 L3770.6 898.1 L3773.2 897.3 L3775.8 896.2 L3778.3 895.0 L3780.8 893.5 L3783.5 891.3 L3786.2 888.8 L3788.8 886.0 L3791.3 882.9 L3793.8 879.6 L3796.2 876.2 L3798.9 871.7 L3801.6 866.8 L3804.1 861.6 L3806.6 856.2 L3809.1 850.8 L3811.5 845.4 L3814.2 839.8 L3816.9 834.2 L3819.6 828.5 L3822.2 822.7 L3824.6 816.8 L3826.9 810.8 L3829.1 804.0 L3831.2 797.1 L3833.0 789.9 L3834.8 782.8 L3836.6 775.6 L3838.5 768.5 L3840.4 761.4 L3842.3 754.3 L3844.2 747.2 L3846.1 740.1 L3848.0 733.1 L3850.0 726.2 L3851.9 719.5 L3853.7 712.9 L3855.6 706.3 L3857.5 699.9 L3859.5 693.6 L3861.5 687.7 L3863.3 682.8 L3865.1 678.1 L3866.9 673.5 L3868.8 669.1 L3870.8 664.8 L3873.1 660.8 L3875.4 657.2 L3877.8 653.9 L3880.4 650.6 L3883.1 647.5 L3885.8 644.5 L3888.5 641.5 L3890.9 638.8 L3893.4 636.0 L3895.8 633.3 L3898.4 630.8 L3901.0 628.4 L3903.8 626.2 L3906.8 624.1 L3909.9 622.2 L3913.1 620.5 L3916.4 619.0 L3919.8 617.6 L3923.1 616.5 L3926.3 615.7 L3929.5 615.1 L3932.8 614.7 L3936.0 614.5 L3939.2 614.5 L3942.3 614.6 L3945.0 614.9 L3947.6 615.3 L3950.2 615.8 L3952.7 616.5 L3955.2 617.4 L3957.7 618.5 L3960.4 619.9 L3963.0 621.7 L3965.5 623.7 L3968.0 625.8 L3970.6 627.9 L3973.1 630.0 L3975.6 632.2 L3978.1 634.5 L3980.5 636.9 L3983.0 639.2 L3985.6 641.5 L3988.5 643.5 L3991.8 645.4 L3995.3 647.0 L3998.9 648.6 L4002.6 650.1 L4006.4 651.5 L4010.0 653.1" stroke="#474747" stroke-width="2.4" fill="none" stroke-linejoin="round" clip-path="url(#cC)"/>
<path d="M2914.5 384.3 L2915.6 379.7 L2916.7 374.9 L2917.8 370.2 L2918.9 365.6 L2920.1 361.2 L2921.3 357.1 L2922.4 353.8 L2923.5 350.3 L2924.6 346.9 L2925.7 344.0 L2926.9 342.0 L2928.1 341.2 L2929.6 342.5 L2931.0 345.9 L2932.6 350.3 L2934.1 354.7 L2935.7 358.0 L2937.2 359.4 L2938.7 358.1 L2940.0 354.8 L2941.4 350.4 L2942.8 345.7 L2944.4 341.6 L2946.3 338.9 L2947.7 337.9 L2949.2 337.1 L2950.8 336.5 L2952.4 336.1 L2954.0 336.2 L2955.3 336.7 L2957.4 339.3 L2958.9 343.9 L2960.2 349.7 L2961.4 355.9 L2962.7 361.6 L2964.4 366.2 L2965.8 368.8 L2967.3 371.4 L2968.9 373.9 L2970.5 375.9 L2972.1 377.1 L2973.5 377.5 L2975.2 375.9 L2976.7 372.3 L2978.1 367.4 L2979.5 361.9 L2980.9 356.7 L2982.6 352.6 L2984.0 349.7 L2985.4 346.6 L2987.0 343.7 L2988.5 341.3 L2990.1 339.6 L2991.6 338.9 L2993.1 339.9 L2994.5 342.2 L2995.9 345.3 L2997.3 348.5 L2998.9 351.1 L3000.7 352.6 L3002.4 352.7 L3004.3 352.4 L3006.3 351.6 L3008.3 350.5 L3010.3 349.3 L3012.0 348.0 L3013.7 346.4 L3015.2 344.3 L3016.6 342.0 L3018.0 339.8 L3019.5 337.9 L3021.1 336.7 L3022.5 336.1 L3024.1 335.7 L3025.7 335.5 L3027.3 335.5 L3028.8 335.9 L3030.2 336.7 L3032.3 339.9 L3033.9 345.1 L3035.2 351.6 L3036.4 358.5 L3037.7 365.2 L3039.2 370.7 L3040.6 374.0 L3042.2 377.1 L3043.7 379.9 L3045.3 382.7 L3046.8 385.6 L3048.3 388.8 L3050.0 392.9 L3051.6 397.0 L3053.2 401.3 L3054.7 405.9 L3056.1 410.8 L3057.4 416.0 L3059.0 424.5 L3060.3 433.9 L3061.4 444.0 L3062.3 454.5 L3063.3 464.9 L3064.2 475.0 L3065.1 484.6 L3065.9 494.0 L3066.6 503.3 L3067.4 512.9 L3068.0 523.1 L3068.7 533.9 L3069.6 550.0 L3070.4 567.3 L3071.1 585.5 L3071.8 604.3 L3072.5 623.5 L3073.2 642.8 L3074.0 664.6 L3074.8 687.1 L3075.5 710.0 L3076.3 733.1 L3077.0 756.1 L3077.8 778.8 L3078.4 803.8 L3078.7 832.4 L3079.1 861.0 L3079.7 885.9 L3080.7 903.5 L3082.3 910.3 L3083.5 907.4 L3084.9 899.9 L3086.4 890.1 L3087.9 880.2 L3089.6 872.6 L3091.4 869.5 L3092.7 871.0 L3094.1 875.1 L3095.5 880.4 L3097.1 885.9 L3098.7 890.2 L3100.4 892.1 L3101.8 891.6 L3103.3 890.0 L3104.9 887.7 L3106.5 885.4 L3108.0 883.7 L3109.5 883.1 L3111.1 884.2 L3112.7 886.8 L3114.2 890.1 L3115.7 893.4 L3117.2 895.8 L3118.6 896.7 L3120.2 895.1 L3121.7 891.2 L3123.1 885.9 L3124.4 880.0 L3125.9 874.2 L3127.7 869.5 L3129.4 865.7 L3131.3 861.6 L3133.4 857.6 L3135.4 854.3 L3137.3 852.0 L3139.0 851.3 L3140.8 854.0 L3142.2 860.1 L3143.4 868.4 L3144.6 877.5 L3146.1 885.8 L3148.1 892.1 L3149.7 895.4 L3151.6 898.6 L3153.6 901.5 L3155.7 903.9 L3157.6 905.4 L3159.4 905.7 L3161.7 903.7 L3163.7 899.1 L3165.6 892.5 L3167.4 884.9 L3169.1 877.0 L3170.7 869.5 L3172.9 857.8 L3174.9 843.4 L3176.8 828.3 L3178.5 814.9 L3180.3 805.2 L3182.1 801.5 L3183.6 805.5 L3185.0 815.5 L3186.4 828.6 L3187.8 841.6 L3189.4 851.7 L3191.1 855.9 L3192.6 854.5 L3194.1 850.7 L3195.8 845.4 L3197.4 839.4 L3198.9 833.5 L3200.2 828.7 L3201.1 825.0 L3201.9 821.0 L3202.6 817.1 L3203.3 813.7 L3204.0 811.4 L3204.7 810.5 L3206.1 813.5 L3207.6 821.1 L3209.0 831.7 L3210.6 843.6 L3212.2 855.3 L3213.8 864.9 L3215.1 871.7 L3216.3 878.6 L3217.5 885.2 L3219.0 891.4 L3220.7 896.8 L3222.9 901.2 L3224.5 903.5 L3226.3 905.6 L3228.2 907.5 L3230.2 908.9 L3232.2 909.9 L3234.2 910.3 L3236.4 910.0 L3238.8 909.0 L3241.2 907.5 L3243.5 905.6 L3245.8 903.4 L3247.8 901.2 L3250.1 898.3 L3252.2 894.9 L3254.1 891.2 L3255.9 887.3 L3257.6 883.0 L3259.1 878.5 L3261.0 871.6 L3262.4 863.6 L3263.6 855.2 L3264.9 846.9 L3266.3 839.3 L3268.2 833.2 L3269.6 830.5 L3271.1 828.3 L3272.7 826.3 L3274.4 824.4 L3275.9 822.3 L3277.3 819.6 L3279.2 813.9 L3280.7 806.9 L3282.1 799.2 L3283.4 791.6 L3284.8 784.5 L3286.4 778.8 L3287.5 775.7 L3288.6 772.6 L3289.8 769.7 L3291.0 767.3 L3292.1 765.7 L3293.2 765.2 L3294.0 766.2 L3294.9 768.8 L3295.6 772.1 L3296.3 775.4 L3297.0 777.8 L3297.7 778.8 L3299.4 771.5 L3300.7 752.7 L3301.7 726.4 L3302.6 696.7 L3303.4 667.5 L3304.5 642.8 L3305.4 623.0 L3306.0 601.9 L3306.7 581.1 L3307.6 562.5 L3309.1 547.7 L3311.3 538.5 L3312.0 537.1 L3312.8 535.9 L3313.6 534.9 L3314.4 534.2 L3315.1 533.9 L3315.8 533.9 L3317.4 537.2 L3318.3 544.7 L3318.8 555.3 L3319.2 567.7 L3319.6 580.6 L3320.4 592.9 L3321.8 612.9 L3323.3 637.8 L3324.9 663.9 L3326.7 687.3 L3328.7 704.2 L3330.8 710.8 L3332.0 709.2 L3333.2 704.8 L3334.5 698.7 L3335.8 691.7 L3337.1 684.8 L3338.5 679.0 L3339.7 674.1 L3341.0 668.6 L3342.3 663.2 L3343.7 658.6 L3345.0 655.3 L3346.2 654.1 L3347.6 656.0 L3349.0 660.8 L3350.3 667.6 L3351.6 675.1 L3353.0 682.3 L3354.4 688.1 L3355.5 691.9 L3356.6 696.0 L3357.8 699.9 L3359.0 703.2 L3360.1 705.4 L3361.2 706.2 L3362.5 704.7 L3363.7 700.8 L3364.8 695.2 L3365.9 688.4 L3367.0 681.3 L3368.0 674.5 L3369.3 663.5 L3370.3 650.8 L3371.2 637.2 L3372.1 623.3 L3373.3 609.8 L3374.8 597.4 L3376.3 587.7 L3378.0 578.2 L3379.9 569.0 L3381.8 560.1 L3383.9 551.5 L3386.1 543.0 L3388.2 535.7 L3390.4 528.6 L3392.7 521.6 L3395.0 514.9 L3397.4 508.4 L3399.7 502.2 L3401.5 496.8 L3403.3 491.0 L3405.1 485.5 L3406.9 480.6 L3408.9 476.9 L3411.1 475.0 L3412.5 474.7 L3414.0 475.0 L3415.6 475.6 L3417.2 476.7 L3418.7 478.0 L3420.1 479.5 L3422.6 484.4 L3424.6 491.3 L3426.3 499.7 L3427.9 508.6 L3429.6 517.2 L3431.5 524.9 L3433.1 531.0 L3434.7 537.4 L3436.4 543.6 L3438.2 549.2 L3440.3 553.7 L3442.8 556.6 L3444.5 557.5 L3446.4 558.1 L3448.4 558.3 L3450.5 558.1 L3452.4 557.5 L3454.1 556.6 L3456.5 553.7 L3458.6 549.1 L3460.5 543.6 L3462.2 537.9 L3463.8 532.9 L3465.5 529.4 L3466.3 528.2 L3467.1 527.1 L3468.0 526.1 L3468.7 525.4 L3469.4 524.9 L3470.0 524.9 L3470.5 525.5 L3470.7 526.8 L3470.8 528.7 L3470.8 530.9 L3470.9 533.3 L3471.2 535.8 L3471.9 541.3 L3472.9 548.3 L3474.1 556.0 L3475.5 563.7 L3477.1 570.6 L3478.8 576.2 L3480.0 578.9 L3481.3 581.6 L3482.6 584.0 L3484.0 586.0 L3485.3 587.3 L3486.5 587.7 L3487.9 586.6 L3489.2 584.1 L3490.4 580.5 L3491.7 576.4 L3492.9 572.2 L3494.2 568.5 L3495.7 564.6 L3497.1 560.4 L3498.5 556.1 L3500.1 552.1 L3501.8 548.4 L3503.8 545.4 L3505.6 543.6 L3507.4 542.2 L3509.4 541.0 L3511.4 540.0 L3513.4 538.9 L3515.4 537.7 L3517.3 536.5 L3519.3 535.5 L3521.3 534.4 L3523.3 533.2 L3525.2 531.8 L3526.9 530.0 L3529.2 526.6 L3531.2 522.4 L3533.0 517.7 L3534.7 512.7 L3536.5 507.8 L3538.5 503.1 L3540.5 498.5 L3542.6 493.8 L3544.7 489.1 L3546.9 484.5 L3549.3 480.2 L3551.9 476.2 L3554.5 472.6 L3557.4 469.0 L3560.3 465.5 L3563.3 462.5 L3566.3 460.2 L3569.2 458.8 L3571.2 458.6 L3573.2 458.8 L3575.1 459.3 L3577.1 460.0 L3578.9 460.8 L3580.8 461.5 L3582.4 462.3 L3584.1 463.3 L3585.6 464.4 L3587.2 465.4 L3588.8 466.2 L3590.4 466.5 L3592.0 466.4 L3593.6 465.8 L3595.2 465.1 L3596.9 464.3 L3598.5 463.7 L3600.0 463.5 L3601.3 463.6 L3602.6 463.8 L3603.9 464.3 L3605.2 464.9 L3606.4 465.6 L3607.7 466.5 L3609.7 468.5 L3611.7 470.9 L3613.6 473.8 L3615.6 477.0 L3617.4 480.4 L3619.2 483.8 L3621.4 488.4 L3623.3 493.3 L3625.2 498.5 L3627.1 503.8 L3628.9 509.3 L3630.8 514.6 L3632.7 520.2 L3634.7 525.9 L3636.6 531.7 L3638.5 537.5 L3640.4 543.3 L3642.3 549.2 L3644.3 555.5 L3646.2 561.8 L3648.1 568.2 L3650.1 574.6 L3652.0 581.1 L3653.8 587.7 L3655.8 594.6 L3657.7 601.6 L3659.7 608.6 L3661.6 615.7 L3663.5 622.8 L3665.4 630.0 L3667.3 637.6 L3669.2 645.3 L3671.2 653.1 L3673.1 660.8 L3675.0 668.6 L3676.9 676.2 L3678.8 683.3 L3680.7 690.4 L3682.7 697.4 L3684.6 704.4 L3686.5 711.4 L3688.5 718.5 L3690.4 725.5 L3692.3 732.6 L3694.2 739.6 L3696.2 746.7 L3698.1 753.7 L3700.0 760.8 L3701.9 767.8 L3703.8 774.9 L3705.8 781.9 L3707.7 789.0 L3709.6 796.0 L3711.5 803.1 L3713.4 810.2 L3715.3 817.4 L3717.2 824.7 L3719.1 831.8 L3721.0 838.8 L3723.1 845.4 L3724.8 851.0 L3726.5 856.6 L3728.2 862.1 L3730.1 867.2 L3732.2 872.0 L3734.6 876.2 L3736.8 879.0 L3739.3 881.5 L3741.9 883.8 L3744.6 885.9 L3747.3 887.8 L3750.0 889.6 L3752.5 891.2 L3755.0 892.7 L3757.6 894.1 L3760.2 895.3 L3762.8 896.4 L3765.4 897.3 L3768.0 898.1 L3770.7 898.7 L3773.4 899.1 L3776.0 899.5 L3778.5 899.8 L3780.8 900.0 L3782.2 900.2 L3783.5 900.3 L3784.7 900.4 L3785.9 900.4 L3787.1 900.3 L3788.5 900.0 L3790.8 899.1 L3793.3 897.7 L3796.0 895.9 L3798.7 893.9 L3801.3 891.8 L3803.8 889.6 L3806.6 887.2 L3809.2 884.6 L3811.8 881.9 L3814.4 878.9 L3816.9 875.8 L3819.2 872.3 L3822.1 867.4 L3824.8 862.0 L3827.3 856.1 L3829.8 850.0 L3832.2 843.9 L3834.6 837.7 L3837.3 830.9 L3839.9 823.9 L3842.4 816.8 L3844.9 809.7 L3847.5 802.5 L3850.0 795.4 L3852.5 788.3 L3855.1 781.1 L3857.6 773.9 L3860.1 766.8 L3862.7 759.9 L3865.4 753.1 L3867.9 747.0 L3870.4 741.2 L3873.0 735.4 L3875.5 729.7 L3878.1 724.0 L3880.8 718.5 L3883.3 713.1 L3885.8 707.8 L3888.3 702.6 L3890.9 697.5 L3893.5 692.5 L3896.2 687.7 L3898.6 683.6 L3901.1 679.6 L3903.7 675.7 L3906.3 671.9 L3908.9 668.3 L3911.5 664.6 L3914.0 661.2 L3916.6 657.9 L3919.1 654.7 L3921.7 651.5 L3924.3 648.4 L3926.9 645.4 L3929.4 642.6 L3931.8 639.8 L3934.3 637.1 L3936.8 634.5 L3939.5 632.1 L3942.3 630.0 L3945.3 628.1 L3948.4 626.2 L3951.6 624.5 L3954.9 623.1 L3958.3 622.1 L3961.5 621.5 L3964.7 621.5 L3968.0 622.0 L3971.3 622.8 L3974.5 623.9 L3977.7 625.0 L3980.8 626.2 L3983.5 627.3 L3986.1 628.7 L3988.6 630.2 L3991.1 631.6 L3993.6 632.9 L3996.2 633.8 L3998.5 634.4 L4000.8 634.8 L4003.1 635.1 L4005.4 635.3 L4007.7 635.5 L4010.0 635.8" stroke="#35A464" stroke-width="2.4" fill="none" stroke-linejoin="round" clip-path="url(#cC)"/>
<path d="M2914.5 354.8 L2915.7 359.1 L2916.8 364.1 L2918.0 369.0 L2919.1 373.3 L2920.3 376.4 L2921.3 377.5 L2922.5 375.7 L2923.7 370.9 L2924.8 364.3 L2925.8 356.9 L2927.0 349.6 L2928.1 343.5 L2929.2 338.5 L2930.2 333.1 L2931.2 327.8 L2932.3 323.2 L2933.5 319.9 L2934.9 318.5 L2936.3 319.2 L2937.8 321.2 L2939.5 324.1 L2941.1 327.6 L2942.6 331.2 L2944.0 334.4 L2945.3 338.4 L2946.4 343.2 L2947.4 348.1 L2948.3 352.5 L2949.5 355.7 L2950.8 357.1 L2952.1 356.5 L2953.6 354.7 L2955.2 352.1 L2956.7 349.1 L2958.3 346.1 L2959.9 343.5 L2961.4 340.9 L2962.9 337.9 L2964.5 334.9 L2966.0 332.3 L2967.5 330.5 L2968.9 329.9 L2970.6 330.8 L2972.1 333.2 L2973.7 336.6 L2975.2 340.5 L2976.7 344.4 L2978.0 348.0 L2979.3 352.1 L2980.5 357.0 L2981.6 362.0 L2982.7 366.4 L2983.7 369.5 L2984.8 370.7 L2986.3 368.3 L2987.6 362.3 L2989.0 354.1 L2990.4 345.0 L2992.1 336.4 L2993.9 329.9 L2995.3 326.4 L2996.7 322.8 L2998.3 319.4 L2999.8 316.6 L3001.4 314.7 L3003.0 314.0 L3004.5 314.8 L3006.0 316.9 L3007.5 319.9 L3009.0 323.3 L3010.5 326.8 L3012.0 329.9 L3013.6 333.2 L3015.0 337.1 L3016.5 341.0 L3018.0 344.5 L3019.5 347.0 L3021.1 348.0 L3022.5 347.3 L3023.9 345.3 L3025.4 342.4 L3026.9 339.3 L3028.5 336.5 L3030.2 334.4 L3031.6 333.2 L3033.2 331.9 L3034.8 330.8 L3036.4 330.1 L3037.9 329.7 L3039.2 329.9 L3040.9 331.5 L3042.2 334.5 L3043.3 338.5 L3044.2 343.1 L3045.1 347.9 L3046.0 352.6 L3047.3 358.5 L3048.5 364.9 L3049.6 371.5 L3050.6 378.5 L3051.7 385.8 L3052.8 393.4 L3054.4 403.7 L3055.9 414.7 L3057.5 426.1 L3059.0 437.9 L3060.5 449.7 L3061.9 461.4 L3063.2 473.2 L3064.5 484.8 L3065.6 496.6 L3066.7 508.6 L3067.8 520.9 L3068.7 533.9 L3069.7 550.6 L3070.5 568.1 L3071.3 586.2 L3071.9 604.8 L3072.6 623.7 L3073.2 642.8 L3074.0 664.6 L3074.8 687.1 L3075.5 710.0 L3076.3 733.1 L3077.0 756.1 L3077.8 778.8 L3078.4 803.5 L3078.9 831.6 L3079.4 859.7 L3080.0 884.1 L3081.0 901.4 L3082.3 908.0 L3083.2 905.3 L3084.1 898.3 L3085.0 889.1 L3086.2 879.9 L3087.5 872.6 L3089.1 869.5 L3090.1 870.0 L3091.2 871.7 L3092.4 874.0 L3093.6 876.2 L3094.8 877.9 L3095.9 878.5 L3097.4 876.7 L3098.9 872.4 L3100.3 867.0 L3101.6 861.6 L3102.9 857.4 L3104.1 855.9 L3105.5 859.3 L3106.7 867.7 L3107.8 878.5 L3108.9 889.4 L3110.2 897.8 L3111.8 901.2 L3113.3 899.1 L3115.0 893.5 L3116.8 886.2 L3118.7 878.6 L3120.8 872.5 L3123.1 869.5 L3124.5 869.5 L3126.1 870.4 L3127.7 871.8 L3129.3 873.1 L3130.8 874.0 L3132.2 874.0 L3134.7 870.1 L3136.8 862.3 L3138.7 852.7 L3140.4 843.2 L3142.0 836.0 L3143.5 833.2 L3144.8 835.2 L3145.7 840.4 L3146.5 847.5 L3147.4 855.5 L3148.7 863.2 L3150.3 869.5 L3152.1 873.9 L3154.2 878.3 L3156.4 882.5 L3158.9 886.3 L3161.4 889.6 L3163.9 892.1 L3165.8 893.6 L3167.7 895.0 L3169.8 896.1 L3171.7 896.8 L3173.6 897.0 L3175.3 896.7 L3177.3 894.0 L3178.7 888.9 L3179.9 882.7 L3181.1 876.6 L3182.5 871.8 L3184.3 869.5 L3186.0 869.9 L3188.0 871.7 L3190.1 874.1 L3192.1 876.5 L3194.0 878.2 L3195.7 878.5 L3197.9 874.9 L3199.3 867.3 L3200.1 857.0 L3200.7 845.4 L3201.4 834.0 L3202.5 824.1 L3203.8 815.3 L3205.3 805.3 L3206.9 795.5 L3208.5 787.0 L3210.0 781.0 L3211.5 778.8 L3213.1 781.6 L3214.6 789.1 L3216.1 799.5 L3217.6 811.4 L3219.1 823.2 L3220.6 833.2 L3221.9 841.3 L3223.2 849.7 L3224.4 857.9 L3225.8 865.7 L3227.5 872.7 L3229.7 878.5 L3231.3 881.7 L3233.0 884.7 L3234.9 887.3 L3236.9 889.6 L3238.9 891.2 L3241.0 892.1 L3242.8 892.3 L3244.7 891.8 L3246.6 891.0 L3248.6 889.9 L3250.5 888.7 L3252.3 887.6 L3254.3 886.1 L3256.3 884.1 L3258.3 881.9 L3260.2 880.0 L3262.0 878.8 L3263.7 878.5 L3265.6 880.6 L3267.3 885.0 L3268.8 890.4 L3270.2 895.7 L3271.5 899.7 L3272.8 901.2 L3274.2 899.0 L3275.2 893.4 L3276.2 885.6 L3277.1 876.7 L3278.2 868.0 L3279.6 860.4 L3281.2 853.3 L3283.2 845.4 L3285.3 837.5 L3287.4 830.7 L3289.3 825.9 L3290.9 824.1 L3291.9 825.9 L3292.7 830.1 L3293.5 835.5 L3294.1 841.0 L3294.8 845.2 L3295.4 846.8 L3297.0 838.4 L3298.2 816.6 L3299.2 786.1 L3300.2 751.4 L3301.1 717.2 L3302.2 688.1 L3303.2 665.2 L3304.2 641.9 L3305.1 618.9 L3306.2 597.2 L3307.4 577.6 L3309.0 561.1 L3310.1 552.9 L3311.2 544.7 L3312.4 537.0 L3313.6 530.7 L3314.8 526.4 L3315.8 524.9 L3316.7 526.2 L3317.5 529.6 L3318.2 534.6 L3319.0 540.5 L3319.7 546.5 L3320.4 552.1 L3321.2 558.9 L3321.9 566.3 L3322.6 574.0 L3323.3 581.9 L3324.1 589.7 L3324.9 597.4 L3325.8 606.0 L3326.7 615.9 L3327.7 625.7 L3328.7 634.4 L3329.7 640.4 L3330.8 642.8 L3332.0 639.8 L3333.2 632.1 L3334.5 621.4 L3335.8 609.4 L3337.1 597.8 L3338.5 588.3 L3339.6 581.8 L3340.7 574.7 L3341.9 567.9 L3343.1 562.1 L3344.2 558.1 L3345.3 556.6 L3346.5 558.7 L3347.6 564.1 L3348.7 571.8 L3349.7 580.6 L3350.9 589.5 L3352.1 597.4 L3353.5 605.2 L3355.0 613.7 L3356.5 622.2 L3358.0 630.2 L3359.6 637.2 L3361.2 642.8 L3361.9 644.9 L3362.7 647.1 L3363.5 649.0 L3364.2 650.5 L3365.0 651.5 L3365.7 651.8 L3366.8 650.2 L3367.8 646.1 L3368.7 640.5 L3369.7 634.4 L3370.9 628.8 L3372.5 624.6 L3373.8 622.4 L3375.3 620.3 L3376.9 618.4 L3378.5 616.8 L3380.1 615.8 L3381.6 615.5 L3383.2 616.4 L3384.7 618.3 L3386.3 621.0 L3387.7 623.9 L3389.2 626.8 L3390.6 629.1 L3391.8 631.0 L3393.0 633.1 L3394.2 635.1 L3395.3 636.8 L3396.4 638.0 L3397.4 638.2 L3399.4 634.8 L3401.0 626.6 L3402.3 615.4 L3403.6 602.6 L3404.9 590.1 L3406.5 579.3 L3408.1 569.8 L3409.5 559.4 L3411.0 549.1 L3412.8 540.0 L3415.0 533.1 L3417.9 529.4 L3419.6 528.9 L3421.5 529.1 L3423.6 529.8 L3425.6 530.9 L3427.5 532.3 L3429.2 533.9 L3431.2 537.6 L3432.8 543.0 L3434.0 549.1 L3435.2 554.8 L3436.6 559.1 L3438.3 561.1 L3439.7 561.0 L3441.2 560.1 L3442.9 558.6 L3444.5 556.7 L3446.0 554.4 L3447.3 552.1 L3449.1 546.4 L3450.2 539.1 L3451.0 530.6 L3451.6 521.9 L3452.6 513.7 L3454.1 506.7 L3455.7 502.1 L3457.5 497.4 L3459.4 493.0 L3461.4 489.2 L3463.5 486.1 L3465.5 484.0 L3466.4 483.4 L3467.4 483.0 L3468.4 482.7 L3469.4 482.6 L3470.3 482.7 L3471.2 483.1 L3472.7 485.4 L3473.9 489.7 L3474.9 495.1 L3476.0 500.6 L3477.2 505.5 L3478.8 508.8 L3480.0 510.1 L3481.3 511.2 L3482.7 512.1 L3484.1 512.7 L3485.4 512.9 L3486.5 512.7 L3488.2 510.8 L3489.5 507.0 L3490.7 502.2 L3491.7 496.9 L3492.9 491.8 L3494.2 487.7 L3495.4 484.9 L3496.6 482.0 L3497.8 479.2 L3499.1 476.8 L3500.4 475.1 L3501.9 474.2 L3503.4 474.4 L3505.0 475.2 L3506.6 476.6 L3508.3 478.3 L3509.9 480.1 L3511.5 481.9 L3513.5 484.4 L3515.5 487.2 L3517.4 490.2 L3519.3 493.3 L3521.2 496.4 L3523.1 499.2 L3524.7 501.7 L3526.2 504.1 L3527.8 506.5 L3529.3 508.8 L3531.0 510.9 L3532.7 512.7 L3534.2 514.0 L3535.7 515.1 L3537.2 516.2 L3538.8 517.1 L3540.5 517.8 L3542.3 518.5 L3544.6 519.0 L3547.1 519.2 L3549.7 519.2 L3552.4 519.2 L3555.1 519.2 L3557.7 519.2 L3560.3 519.4 L3562.9 519.7 L3565.5 520.0 L3568.0 520.2 L3570.6 520.4 L3573.1 520.4 L3575.4 520.4 L3577.8 520.4 L3580.1 520.3 L3582.4 520.0 L3584.5 519.4 L3586.5 518.5 L3588.8 516.4 L3590.8 513.6 L3592.6 510.3 L3594.3 506.8 L3596.1 503.7 L3598.1 501.2 L3599.6 499.6 L3601.2 498.1 L3602.8 496.7 L3604.4 495.6 L3606.0 494.7 L3607.7 494.2 L3609.3 494.1 L3610.9 494.3 L3612.6 494.8 L3614.2 495.4 L3615.8 496.3 L3617.3 497.3 L3619.1 499.1 L3620.8 501.4 L3622.3 504.1 L3623.8 507.0 L3625.3 509.9 L3626.9 512.7 L3628.8 515.7 L3630.7 518.9 L3632.7 522.0 L3634.6 525.3 L3636.6 528.6 L3638.5 531.9 L3640.4 535.6 L3642.4 539.4 L3644.3 543.2 L3646.2 547.1 L3648.1 551.1 L3650.0 555.0 L3652.0 559.1 L3653.9 563.1 L3655.9 567.2 L3657.8 571.4 L3659.7 575.6 L3661.5 580.0 L3663.5 584.9 L3665.5 589.9 L3667.4 595.0 L3669.3 600.2 L3671.2 605.5 L3673.1 610.8 L3675.0 616.4 L3677.0 622.1 L3678.9 627.8 L3680.8 633.6 L3682.7 639.5 L3684.6 645.4 L3686.6 651.6 L3688.5 657.9 L3690.5 664.2 L3692.4 670.7 L3694.3 677.2 L3696.2 683.8 L3698.1 691.3 L3700.1 698.9 L3702.0 706.6 L3703.9 714.4 L3705.8 722.3 L3707.7 730.0 L3709.7 737.7 L3711.7 745.5 L3713.7 753.3 L3715.6 761.1 L3717.5 768.7 L3719.2 776.2 L3720.5 783.0 L3721.6 789.9 L3722.6 796.8 L3723.7 803.4 L3725.1 809.4 L3726.9 814.6 L3728.5 817.7 L3730.4 820.5 L3732.3 823.0 L3734.4 825.3 L3736.5 827.6 L3738.5 830.0 L3740.3 832.3 L3742.2 834.5 L3744.1 836.7 L3746.0 838.9 L3748.0 841.1 L3750.0 843.5 L3752.4 846.3 L3754.9 849.3 L3757.4 852.3 L3760.1 855.3 L3762.7 858.1 L3765.4 860.8 L3767.9 863.0 L3770.4 865.1 L3772.9 867.1 L3775.5 869.0 L3778.1 870.7 L3780.8 872.3 L3783.2 873.6 L3785.7 874.8 L3788.2 875.8 L3790.8 876.7 L3793.4 877.5 L3796.2 878.1 L3799.2 878.5 L3802.5 878.7 L3805.8 878.8 L3809.1 878.6 L3812.3 878.4 L3815.4 878.1 L3818.1 877.7 L3820.8 877.4 L3823.4 876.9 L3825.9 876.2 L3828.4 875.4 L3830.8 874.2 L3833.2 872.6 L3835.6 870.7 L3837.8 868.4 L3840.0 866.0 L3842.1 863.4 L3844.2 860.8 L3846.6 857.4 L3848.9 853.8 L3851.1 850.0 L3853.3 846.0 L3855.5 841.8 L3857.7 837.7 L3860.2 832.9 L3862.7 827.9 L3865.3 822.8 L3867.8 817.6 L3870.4 812.3 L3873.1 806.9 L3876.1 800.7 L3879.3 794.3 L3882.5 787.8 L3885.8 781.3 L3889.0 774.8 L3892.3 768.5 L3895.5 762.5 L3898.6 756.7 L3901.8 750.9 L3905.0 745.1 L3908.3 739.4 L3911.5 733.8 L3914.7 728.5 L3918.0 723.2 L3921.2 718.0 L3924.5 712.9 L3927.7 707.9 L3930.8 703.1 L3933.4 698.9 L3935.9 694.8 L3938.4 690.8 L3940.9 687.0 L3943.4 683.3 L3946.2 680.0 L3948.6 677.4 L3951.1 674.9 L3953.6 672.6 L3956.2 670.4 L3958.9 668.4 L3961.5 666.5 L3964.0 664.9 L3966.5 663.4 L3969.1 661.9 L3971.7 660.7 L3974.3 659.6 L3976.9 658.8 L3979.4 658.5 L3982.0 658.6 L3984.6 658.9 L3987.1 659.2 L3989.7 659.2 L3992.3 658.8 L3995.3 657.8 L3998.2 656.4 L4001.1 654.7 L4004.1 652.8 L4007.1 651.0 L4010.0 649.2" stroke="#2163C6" stroke-width="2.4" fill="none" stroke-linejoin="round" clip-path="url(#cC)"/>
<path d="M2914.5 343.5 L2916.0 346.6 L2917.6 349.8 L2919.1 353.0 L2920.6 356.1 L2922.1 359.0 L2923.6 361.6 L2924.8 363.6 L2925.9 365.7 L2927.1 367.7 L2928.3 369.3 L2929.4 370.4 L2930.4 370.7 L2931.7 369.3 L2932.9 366.2 L2934.0 361.8 L2935.0 356.9 L2936.1 352.1 L2937.2 348.0 L2938.3 344.4 L2939.4 340.5 L2940.5 336.5 L2941.6 333.2 L2942.8 330.8 L2944.0 329.9 L2945.4 331.0 L2946.9 334.0 L2948.5 338.3 L2950.0 343.2 L2951.6 348.2 L2953.1 352.6 L2954.6 357.2 L2956.1 362.6 L2957.6 368.0 L2959.1 372.8 L2960.6 376.2 L2962.1 377.5 L2963.6 376.5 L2965.1 373.8 L2966.7 370.0 L2968.2 365.6 L2969.7 361.1 L2971.2 357.1 L2972.8 352.5 L2974.2 347.2 L2975.7 341.8 L2977.1 337.0 L2978.7 333.5 L2980.3 332.1 L2981.7 332.8 L2983.2 334.9 L2984.8 337.8 L2986.4 341.2 L2987.9 344.8 L2989.4 348.0 L2991.0 352.1 L2992.5 356.9 L2994.0 361.9 L2995.5 366.4 L2997.0 369.5 L2998.4 370.7 L3000.0 369.3 L3001.5 365.6 L3003.1 360.4 L3004.6 354.5 L3006.1 348.6 L3007.5 343.5 L3008.8 338.5 L3010.1 332.8 L3011.3 327.1 L3012.5 322.1 L3013.8 318.6 L3015.2 317.2 L3016.5 318.0 L3017.8 320.2 L3019.2 323.4 L3020.6 327.2 L3022.0 331.0 L3023.4 334.4 L3024.8 338.1 L3026.2 342.2 L3027.7 346.3 L3029.1 350.3 L3030.7 353.9 L3032.4 357.1 L3033.8 359.1 L3035.2 361.0 L3036.7 362.8 L3038.3 364.3 L3039.9 365.4 L3041.5 366.2 L3043.0 366.2 L3044.6 365.6 L3046.3 364.8 L3047.9 364.1 L3049.3 363.7 L3050.6 363.9 L3051.8 365.1 L3052.7 367.1 L3053.4 369.7 L3053.9 372.7 L3054.5 376.1 L3055.1 379.8 L3056.7 389.7 L3058.4 402.4 L3060.0 416.9 L3061.5 432.2 L3062.9 447.3 L3064.2 461.4 L3065.2 473.5 L3066.0 485.3 L3066.7 497.0 L3067.4 508.8 L3068.0 521.0 L3068.7 533.9 L3069.5 550.6 L3070.3 568.1 L3071.1 586.2 L3071.8 604.8 L3072.5 623.7 L3073.2 642.8 L3074.0 664.6 L3074.8 687.1 L3075.5 710.0 L3076.3 733.1 L3077.0 756.1 L3077.8 778.8 L3078.3 803.5 L3078.7 831.6 L3079.1 859.6 L3079.7 884.0 L3080.7 901.3 L3082.3 908.0 L3083.5 905.3 L3084.8 898.3 L3086.2 889.1 L3087.7 879.8 L3089.5 872.6 L3091.4 869.5 L3092.8 870.3 L3094.3 872.9 L3095.9 876.2 L3097.6 879.6 L3099.1 882.2 L3100.4 883.1 L3101.9 881.2 L3103.1 877.0 L3104.2 871.5 L3105.3 866.1 L3106.3 862.0 L3107.2 860.4 L3108.5 863.8 L3109.6 872.2 L3110.6 883.1 L3111.6 894.0 L3112.7 902.3 L3114.0 905.7 L3115.3 903.8 L3116.5 898.8 L3117.8 892.0 L3119.3 884.7 L3121.0 878.3 L3123.1 874.0 L3124.5 872.8 L3126.0 872.0 L3127.6 871.5 L3129.2 871.0 L3130.7 870.4 L3132.2 869.5 L3133.9 867.4 L3135.5 864.5 L3137.1 861.3 L3138.5 858.5 L3139.9 856.5 L3141.3 855.9 L3143.2 859.5 L3144.8 868.0 L3146.2 878.8 L3147.5 889.6 L3148.8 897.9 L3150.3 901.2 L3151.8 899.7 L3153.2 895.6 L3154.8 889.7 L3156.3 882.9 L3157.8 875.8 L3159.4 869.5 L3161.3 862.4 L3163.3 855.1 L3165.3 847.6 L3167.2 839.9 L3169.1 832.1 L3170.7 824.1 L3172.3 814.1 L3173.6 802.4 L3174.9 790.5 L3176.0 780.0 L3177.2 772.6 L3178.4 769.7 L3179.8 772.6 L3181.1 780.2 L3182.5 790.8 L3183.9 802.8 L3185.2 814.4 L3186.6 824.1 L3187.6 830.9 L3188.5 837.7 L3189.3 844.4 L3190.3 850.5 L3191.6 856.0 L3193.4 860.4 L3194.7 862.4 L3196.2 863.8 L3197.9 865.1 L3199.5 866.2 L3201.1 867.6 L3202.5 869.5 L3204.2 873.2 L3205.7 877.7 L3207.0 882.7 L3208.3 887.8 L3209.7 892.6 L3211.5 896.7 L3213.2 899.7 L3215.2 902.9 L3217.2 905.9 L3219.2 908.3 L3221.1 909.9 L3222.9 910.3 L3225.1 907.3 L3226.7 900.7 L3228.2 891.9 L3229.8 882.7 L3231.7 874.7 L3234.2 869.5 L3235.9 868.1 L3237.8 867.4 L3239.8 867.0 L3241.8 866.7 L3243.8 866.1 L3245.5 864.9 L3247.8 862.4 L3249.9 859.4 L3251.8 855.8 L3253.6 851.7 L3255.3 847.2 L3256.9 842.3 L3259.3 830.4 L3261.3 814.6 L3262.9 797.3 L3264.4 781.6 L3266.1 769.9 L3268.2 765.2 L3269.3 766.1 L3270.4 768.6 L3271.6 772.0 L3272.7 775.3 L3273.9 777.8 L3275.0 778.8 L3277.0 774.9 L3279.0 765.6 L3280.9 753.6 L3282.8 741.7 L3284.6 732.5 L3286.4 728.9 L3288.0 732.6 L3289.6 741.9 L3291.2 753.9 L3292.7 765.9 L3294.1 775.1 L3295.4 778.8 L3296.8 775.7 L3298.0 767.5 L3299.1 755.7 L3300.2 742.1 L3301.2 728.1 L3302.2 715.3 L3303.3 699.6 L3304.1 682.0 L3304.9 663.8 L3305.9 646.5 L3307.2 631.5 L3309.0 620.1 L3310.1 616.2 L3311.2 612.5 L3312.4 609.1 L3313.6 606.5 L3314.8 604.7 L3315.8 604.2 L3317.8 610.1 L3319.1 624.8 L3320.0 645.4 L3320.7 668.6 L3321.5 691.4 L3322.6 710.8 L3323.9 726.9 L3325.2 744.8 L3326.5 762.5 L3327.9 777.7 L3329.4 788.3 L3330.8 792.4 L3332.0 789.3 L3333.3 781.3 L3334.6 770.0 L3335.9 757.1 L3337.2 744.3 L3338.5 733.4 L3339.6 724.7 L3340.5 716.1 L3341.4 707.5 L3342.5 699.1 L3343.7 691.1 L3345.3 683.6 L3346.9 677.7 L3348.8 672.0 L3350.8 666.6 L3352.9 661.4 L3354.8 656.5 L3356.6 651.8 L3357.9 648.7 L3359.1 645.9 L3360.2 643.3 L3361.3 640.6 L3362.4 637.5 L3363.4 633.7 L3365.3 623.5 L3366.9 610.8 L3368.2 596.4 L3369.5 581.3 L3370.9 566.2 L3372.5 552.1 L3373.9 537.8 L3375.1 522.1 L3376.4 506.4 L3378.0 492.3 L3380.4 481.3 L3383.8 475.0 L3385.5 474.2 L3387.4 474.2 L3389.4 474.6 L3391.4 475.2 L3393.3 475.4 L3395.2 475.0 L3397.7 472.7 L3400.1 469.1 L3402.5 464.8 L3404.7 460.8 L3406.8 457.8 L3408.8 456.8 L3410.6 458.1 L3412.2 460.9 L3413.7 464.9 L3415.1 469.6 L3416.5 474.6 L3417.9 479.5 L3419.9 487.1 L3421.9 495.6 L3423.8 504.7 L3425.6 514.3 L3427.4 524.1 L3429.2 533.9 L3431.0 546.2 L3432.6 560.0 L3434.1 574.0 L3435.7 587.2 L3437.8 598.4 L3440.5 606.5 L3441.9 608.9 L3443.4 611.1 L3444.9 612.9 L3446.5 614.3 L3448.1 615.2 L3449.6 615.5 L3451.1 615.0 L3452.5 613.7 L3454.0 611.9 L3455.4 609.8 L3457.0 607.9 L3458.7 606.5 L3460.5 605.3 L3462.7 604.1 L3464.9 603.0 L3467.0 602.2 L3468.8 601.8 L3470.0 601.9 L3470.5 602.4 L3470.7 603.0 L3470.8 603.8 L3470.9 604.7 L3471.0 605.8 L3471.2 606.9 L3471.9 611.6 L3472.8 618.5 L3473.8 626.2 L3475.1 633.8 L3476.8 639.9 L3478.8 643.5 L3480.0 644.2 L3481.3 644.6 L3482.7 644.8 L3484.1 644.6 L3485.4 644.2 L3486.5 643.5 L3488.5 640.3 L3490.0 635.1 L3491.1 628.5 L3492.1 621.2 L3493.0 613.7 L3494.2 606.9 L3495.7 600.0 L3497.2 592.9 L3498.8 585.7 L3500.4 578.5 L3502.0 571.4 L3503.8 564.6 L3505.6 558.6 L3507.5 552.9 L3509.5 547.2 L3511.5 541.5 L3513.5 535.8 L3515.4 530.0 L3517.3 523.7 L3519.3 517.3 L3521.2 510.8 L3523.1 504.3 L3525.0 497.8 L3526.9 491.5 L3528.8 485.6 L3530.7 479.8 L3532.6 474.0 L3534.5 468.2 L3536.5 462.5 L3538.5 456.9 L3540.3 451.5 L3542.1 446.1 L3543.9 440.7 L3545.8 435.4 L3547.8 430.6 L3550.0 426.2 L3551.8 422.9 L3553.6 419.7 L3555.5 416.6 L3557.5 413.9 L3559.5 411.9 L3561.5 410.8 L3563.1 410.5 L3564.7 410.7 L3566.4 411.2 L3568.0 412.0 L3569.6 412.9 L3571.2 413.8 L3572.9 415.1 L3574.5 416.7 L3576.0 418.5 L3577.6 420.4 L3579.2 422.3 L3580.8 424.2 L3582.6 426.4 L3584.5 428.6 L3586.5 430.9 L3588.4 433.2 L3590.3 435.5 L3592.3 437.7 L3594.2 439.6 L3596.2 441.4 L3598.2 443.1 L3600.2 444.9 L3602.1 446.9 L3603.8 449.2 L3606.0 452.9 L3608.1 457.0 L3610.0 461.5 L3611.8 466.3 L3613.6 471.2 L3615.4 476.2 L3617.4 482.1 L3619.4 488.3 L3621.3 494.7 L3623.2 501.2 L3625.1 507.9 L3626.9 514.6 L3628.9 522.0 L3630.9 529.6 L3632.8 537.3 L3634.7 545.1 L3636.6 552.9 L3638.5 560.8 L3640.4 569.0 L3642.3 577.4 L3644.2 585.8 L3646.1 594.2 L3648.1 602.5 L3650.0 610.8 L3651.9 618.6 L3653.8 626.3 L3655.7 634.0 L3657.7 641.6 L3659.6 649.3 L3661.5 656.9 L3663.5 664.6 L3665.4 672.3 L3667.3 680.0 L3669.2 687.7 L3671.2 695.4 L3673.1 703.1 L3675.0 710.8 L3676.9 718.5 L3678.8 726.2 L3680.8 733.8 L3682.7 741.5 L3684.6 749.2 L3686.5 756.9 L3688.4 764.7 L3690.4 772.4 L3692.3 780.2 L3694.2 787.8 L3696.2 795.4 L3698.0 802.6 L3699.9 809.7 L3701.9 816.8 L3703.8 823.8 L3705.7 830.8 L3707.7 837.7 L3709.5 844.4 L3711.2 851.2 L3712.9 857.9 L3714.7 864.4 L3716.8 870.6 L3719.2 876.2 L3721.4 880.6 L3723.8 885.1 L3726.3 889.4 L3729.0 893.1 L3731.8 895.8 L3734.6 897.3 L3737.0 897.3 L3739.5 896.3 L3742.1 894.7 L3744.7 892.9 L3747.4 891.1 L3750.0 889.6 L3752.6 888.6 L3755.1 887.7 L3757.7 886.8 L3760.3 885.9 L3762.9 885.0 L3765.4 883.8 L3768.0 882.5 L3770.6 881.1 L3773.2 879.6 L3775.8 878.0 L3778.3 876.2 L3780.8 874.2 L3783.5 871.8 L3786.1 869.2 L3788.6 866.4 L3791.1 863.4 L3793.6 860.3 L3796.2 856.9 L3799.4 852.4 L3802.7 847.6 L3806.1 842.5 L3809.3 837.2 L3812.5 831.7 L3815.4 826.2 L3818.3 820.1 L3821.1 813.9 L3823.7 807.4 L3826.1 800.9 L3828.5 794.3 L3830.8 787.7 L3832.9 780.8 L3835.0 773.9 L3836.8 766.8 L3838.7 759.7 L3840.5 752.6 L3842.3 745.4 L3844.2 737.7 L3846.1 729.9 L3848.0 722.0 L3849.9 714.2 L3851.8 706.5 L3853.8 699.2 L3855.7 693.0 L3857.5 686.9 L3859.3 680.9 L3861.2 675.1 L3863.2 669.7 L3865.4 664.6 L3867.1 661.0 L3868.9 657.6 L3870.8 654.4 L3872.7 651.4 L3874.8 648.4 L3876.9 645.4 L3879.2 642.3 L3881.6 639.2 L3884.1 636.1 L3886.7 633.2 L3889.4 630.5 L3892.3 628.1 L3895.3 626.1 L3898.5 624.4 L3901.8 622.9 L3905.2 621.5 L3908.4 620.0 L3911.5 618.5 L3914.2 616.9 L3916.8 615.2 L3919.3 613.6 L3921.8 612.0 L3924.4 610.4 L3926.9 608.8 L3929.5 607.3 L3932.0 605.7 L3934.5 604.2 L3937.1 602.8 L3939.7 601.7 L3942.3 601.2 L3944.8 601.1 L3947.4 601.4 L3950.0 602.1 L3952.6 602.9 L3955.2 603.9 L3957.7 605.0 L3960.3 606.2 L3963.0 607.5 L3965.6 609.1 L3968.1 610.7 L3970.6 612.6 L3973.1 614.6 L3975.8 617.3 L3978.3 620.4 L3980.7 623.7 L3983.1 627.1 L3985.7 630.5 L3988.5 633.8 L3991.8 637.4 L3995.3 640.9 L3998.9 644.4 L4002.6 648.0 L4006.4 651.5 L4010.0 655.0" stroke="#E5313A" stroke-width="2.4" fill="none" stroke-linejoin="round" clip-path="url(#cC)"/>
<path d="M223.3 1340.7 L225.7 1341.0 L228.2 1343.9 L230.6 1345.9 L233.0 1346.1 L235.1 1347.6 L236.9 1345.5 L238.5 1342.1 L240.1 1341.0 L241.5 1339.1 L242.9 1339.2 L244.3 1338.8 L245.4 1342.0 L246.6 1343.0 L247.8 1347.4 L249.2 1348.8 L250.9 1349.9 L252.7 1352.0 L254.6 1353.7 L256.6 1354.9 L258.6 1357.2 L260.8 1358.6 L263.1 1360.4 L265.5 1362.7 L267.9 1363.8 L270.4 1365.5 L273.4 1362.1 L276.5 1360.6 L279.7 1355.8 L282.9 1353.7 L286.0 1351.4 L288.4 1351.7 L290.9 1353.5 L293.3 1354.6 L295.6 1354.7 L297.8 1357.1 L300.4 1358.5 L302.8 1362.2 L305.0 1366.8 L307.3 1370.5 L309.5 1372.9 L311.1 1373.6 L312.6 1374.7 L314.2 1375.6 L315.7 1378.6 L317.4 1376.9 L319.6 1377.0 L321.8 1375.6 L324.2 1373.8 L326.6 1370.2 L329.1 1367.1 L332.1 1365.1 L335.4 1364.4 L338.6 1361.7 L341.8 1358.9 L344.8 1356.1 L348.2 1352.2 L351.2 1345.8 L352.7 1342.1 L354.2 1337.7 L357.2 1333.0 L360.5 1329.1 L362.7 1326.5 L365.1 1326.0 L367.5 1325.7 L369.9 1325.1 L372.2 1325.4 L374.6 1324.6 L376.9 1322.9 L379.2 1321.3 L381.5 1321.3 L384.0 1320.6 L387.0 1318.8 L390.2 1315.9 L393.4 1315.2 L396.6 1313.1 L399.6 1313.7 L402.1 1314.0 L404.5 1312.8 L406.8 1314.2 L409.1 1316.6 L411.4 1318.0 L414.6 1320.2 L417.9 1321.8 L421.1 1325.4 L424.2 1329.0 L427.1 1332.8 L429.6 1336.1 L431.8 1342.2 L434.0 1346.0 L436.2 1349.9 L438.8 1351.3 L441.0 1354.9 L443.4 1354.3 L445.9 1357.4 L448.3 1357.9 L450.6 1356.9 L453.1 1354.9 L455.5 1351.0 L457.7 1349.3 L460.0 1345.8 L462.3 1341.5 L465.2 1336.4 L468.1 1332.2 L471.0 1325.2 L474.3 1320.8 L478.0 1317.5 L482.2 1313.1 L486.8 1309.8 L491.6 1308.8 L496.6 1307.3 L501.5 1306.2 L506.2 1305.7 L510.8 1306.6 L515.6 1306.7 L520.3 1309.4 L525.0 1309.4 L529.7 1309.1 L534.4 1311.7 L539.1 1313.0 L543.8 1312.5 L548.5 1314.3 L553.2 1315.3 L557.9 1314.4 L562.6 1315.9 L567.3 1317.3 L572.0 1316.8 L576.7 1318.6 L581.3 1318.8 L586.0 1318.1 L590.7 1320.5 L595.6 1322.3 L601.7 1324.1 L604.8 1324.5 L608.0 1326.5 L611.3 1328.1 L614.5 1330.1 L620.8 1330.9 L626.9 1333.0 L631.7 1333.5 L636.4 1331.6 L640.9 1329.4 L645.5 1326.4 L650.4 1324.9 L656.4 1323.7 L662.8 1321.3 L669.3 1319.4 L675.7 1318.0 L681.8 1317.3 L686.6 1317.6 L691.2 1318.5 L695.8 1319.7 L700.4 1320.7 L705.3 1321.2 L711.4 1320.6 L717.8 1319.2 L724.4 1317.6 L730.7 1316.7 L736.6 1317.3 L741.8 1319.7 L746.5 1323.5 L751.1 1328.0 L755.5 1332.6 L760.1 1336.9 L764.9 1341.0 L769.6 1345.4 L774.4 1349.7 L779.1 1353.5 L783.6 1356.5 L786.8 1358.2 L789.8 1359.6 L792.8 1360.7 L796.0 1361.5 L799.3 1362.0 L803.7 1362.1 L808.4 1361.7 L813.2 1360.9 L818.1 1359.9 L822.8 1358.8 L827.5 1357.6 L832.3 1356.2 L837.0 1354.5 L841.6 1352.8 L846.3 1351.0 L851.1 1349.2 L855.8 1347.2 L860.5 1345.2 L865.2 1343.1 L869.8 1340.8 L874.5 1338.3 L879.1 1335.5 L883.6 1332.7 L888.3 1330.0 L893.3 1327.5 L899.2 1325.2 L905.5 1323.1 L911.9 1321.2 L918.3 1319.3 L924.7 1317.3 L930.9 1315.0 L937.2 1312.4 L943.5 1310.0 L949.7 1308.1 L956.0 1307.1 L962.3 1307.5 L968.5 1308.9 L974.8 1310.7 L981.1 1312.4 L987.4 1313.4 L993.6 1313.4 L999.9 1312.9 L1006.2 1312.2 L1012.5 1311.7 L1018.7 1311.8 L1025.0 1312.8 L1031.3 1314.4 L1037.5 1316.2 L1043.8 1318.1 L1050.1 1319.7 L1056.3 1320.9 L1062.6 1321.9 L1068.9 1322.9 L1075.1 1323.9 L1081.4 1325.2 L1087.7 1326.8 L1093.9 1328.7 L1100.2 1330.6 L1106.5 1332.1 L1112.7 1333.0 L1119.0 1332.8 L1125.3 1331.9 L1131.5 1330.6 L1137.8 1329.5 L1144.1 1329.1 L1150.4 1329.4 L1156.6 1330.3 L1162.9 1331.3 L1169.2 1332.3 L1175.4 1333.0 L1181.7 1333.4 L1188.0 1333.6 L1194.3 1333.7 L1200.5 1333.5 L1206.8 1333.0 L1213.2 1331.9 L1219.6 1330.5 L1226.0 1328.8 L1232.2 1326.9 L1238.1 1325.2 L1243.1 1323.6 L1247.8 1322.0 L1252.4 1320.3 L1257.0 1318.8 L1261.6 1317.3 L1266.3 1316.2 L1271.1 1315.3 L1275.8 1314.5 L1280.5 1313.4 L1285.1 1311.8 L1289.9 1309.6 L1294.7 1306.8 L1299.3 1303.8 L1304.0 1300.7 L1308.7 1297.7" stroke="#474747" stroke-width="2.4" fill="none" stroke-linejoin="round" clip-path="url(#cD)"/>
<path d="M223.3 2012.2 L225.8 2012.3 L228.3 2015.5 L230.8 2014.6 L233.1 2014.7 L235.1 2015.7 L236.6 2010.5 L238.1 2008.2 L238.6 2003.4 L239.2 2000.6 L239.8 1993.6 L240.0 1990.4 L240.3 1988.5 L240.6 1982.6 L240.8 1981.1 L241.1 1975.3 L241.4 1972.8 L241.7 1969.4 L242.9 1962.7 L244.2 1966.5 L244.6 1972.4 L245.1 1977.3 L245.5 1980.9 L245.9 1983.1 L246.3 1987.6 L246.8 1990.2 L247.4 1995.3 L248.0 1999.3 L249.4 2003.5 L250.8 2005.8 L253.2 2009.9 L256.0 2013.8 L259.2 2016.5 L262.7 2016.9 L266.4 2019.8 L271.9 2020.3 L278.0 2021.1 L284.6 2022.2 L291.3 2021.8 L297.8 2021.8 L304.1 2024.3 L310.6 2024.2 L317.0 2024.4 L323.2 2023.3 L329.1 2022.4 L334.3 2020.2 L339.5 2018.5 L344.3 2015.5 L348.8 2015.6 L352.6 2012.0 L355.8 2004.1 L356.9 2002.9 L358.0 1999.0 L359.0 1995.4 L359.9 1990.3 L361.9 1987.3 L364.4 1982.7 L366.5 1984.3 L368.7 1984.0 L371.1 1987.6 L373.5 1990.6 L376.1 1990.5 L379.1 1990.4 L382.3 1990.6 L385.6 1990.9 L388.8 1990.2 L391.8 1992.4 L395.3 1994.0 L398.6 1999.9 L401.7 2005.4 L404.6 2009.6 L407.5 2012.2 L410.0 2007.7 L412.2 2006.8 L414.4 2001.4 L416.7 1994.7 L419.2 1992.2 L422.2 1987.7 L425.5 1983.3 L428.8 1979.2 L432.0 1976.0 L434.9 1976.0 L437.6 1977.1 L438.8 1980.5 L439.9 1987.0 L440.9 1988.7 L442.0 1992.3 L443.1 1997.0 L444.1 1998.6 L446.7 2003.1 L448.9 2001.5 L451.3 1998.3 L453.8 1994.8 L456.2 1991.1 L458.4 1991.5 L460.8 1994.5 L462.7 1998.4 L464.7 2002.5 L467.0 2011.1 L470.2 2013.3 L475.1 2020.8 L478.1 2020.9 L481.0 2023.0 L484.3 2025.6 L487.6 2028.3 L491.1 2030.7 L494.5 2033.0 L498.0 2033.7 L501.5 2034.6 L505.2 2034.3 L508.9 2036.9 L512.8 2035.2 L516.7 2036.9 L520.7 2037.2 L524.7 2037.2 L528.7 2035.7 L532.8 2036.4 L536.7 2036.7 L540.7 2038.4 L544.6 2038.7 L548.5 2040.1 L552.4 2039.3 L556.2 2042.0 L560.1 2040.8 L563.9 2043.2 L567.9 2044.3 L571.8 2045.5 L575.8 2044.6 L579.9 2045.7 L584.6 2048.3 L589.3 2047.7 L594.2 2048.0 L599.2 2047.8 L604.1 2049.4 L609.1 2049.7 L613.8 2049.3 L618.5 2050.6 L622.7 2051.1 L626.9 2049.6 L632.1 2049.6 L636.8 2046.0 L641.2 2044.2 L645.6 2041.8 L650.4 2041.3 L656.3 2043.9 L662.4 2047.2 L668.7 2048.1 L671.9 2049.5 L675.1 2053.0 L681.8 2052.6 L685.5 2054.6 L689.2 2053.9 L693.0 2056.2 L696.9 2057.1 L700.8 2057.1 L704.7 2057.1 L708.8 2057.0 L712.8 2058.1 L716.9 2057.1 L720.9 2057.0 L725.5 2056.6 L730.1 2056.9 L734.7 2059.6 L739.4 2058.3 L744.2 2059.1 L748.9 2059.2 L753.7 2059.5 L758.5 2056.7 L763.2 2057.4 L768.0 2059.0 L772.7 2057.3 L777.4 2056.6 L782.1 2055.9 L786.8 2055.7 L791.5 2054.7 L796.2 2056.7 L800.9 2054.1 L805.6 2054.6 L810.3 2055.5 L815.0 2053.0 L819.7 2054.0 L824.4 2052.6 L829.1 2053.3 L833.8 2052.5 L838.5 2052.2 L843.2 2054.4 L847.9 2052.5 L852.6 2053.2 L857.3 2052.9 L862.0 2053.2 L866.8 2053.7 L871.5 2052.3 L876.4 2053.2 L881.3 2053.7 L886.1 2052.8 L890.9 2051.8 L895.5 2051.7 L900.2 2051.0 L904.6 2050.4 L909.0 2052.4 L915.6 2051.1 L921.7 2052.1 L927.7 2050.6 L933.8 2049.2 L940.4 2049.8 L944.8 2052.1 L949.3 2052.4 L954.2 2053.8 L959.0 2053.3 L963.9 2054.2 L968.9 2055.7 L973.7 2057.6 L978.5 2056.3 L982.9 2057.3 L987.4 2057.3 L994.0 2057.9 L1000.1 2055.0 L1006.0 2049.5 L1012.1 2048.3 L1018.7 2047.0 L1023.2 2046.2 L1027.6 2044.3 L1032.4 2046.0 L1037.2 2046.0 L1042.2 2047.0 L1047.1 2047.5 L1051.9 2046.5 L1056.8 2047.9 L1061.3 2048.5 L1065.7 2049.2 L1072.3 2049.8 L1078.4 2051.3 L1084.4 2050.6 L1090.5 2051.8 L1097.1 2053.0 L1101.5 2053.6 L1105.9 2054.0 L1110.7 2055.0 L1115.4 2055.1 L1120.3 2054.1 L1125.1 2054.9 L1130.0 2054.4 L1134.8 2052.8 L1139.5 2054.7 L1144.1 2054.5 L1148.2 2053.3 L1152.3 2053.1 L1156.3 2054.6 L1160.3 2053.2 L1164.2 2055.4 L1168.2 2054.6 L1172.0 2053.7 L1175.9 2055.1 L1179.6 2053.4 L1183.3 2055.4 L1189.9 2050.5 L1193.0 2050.1 L1196.1 2048.1 L1199.2 2046.5 L1202.3 2044.2 L1208.4 2041.5 L1214.6 2041.3 L1220.8 2039.9 L1227.1 2042.3 L1233.4 2047.4 L1239.7 2049.4 L1246.0 2048.6 L1252.5 2050.4 L1255.8 2048.9 L1259.2 2046.8 L1262.5 2046.7 L1265.9 2046.0 L1272.0 2041.4 L1277.3 2041.1 L1280.1 2041.2 L1282.5 2043.8 L1284.7 2043.8 L1286.9 2043.7 L1289.1 2047.4 L1291.2 2050.5 L1293.3 2051.1 L1295.3 2057.9 L1297.3 2061.3 L1298.6 2063.7 L1299.8 2067.4 L1301.1 2070.7 L1302.3 2076.7 L1303.6 2079.5 L1304.8 2083.4 L1306.1 2087.4 L1307.4 2089.7 L1308.7 2093.1" stroke="#E5313A" stroke-width="2.4" fill="none" stroke-linejoin="round" clip-path="url(#cD)"/>
<path d="M223.3 1924.6 L224.4 1939.2 L225.6 1955.7 L226.7 1971.3 L227.8 1982.8 L228.8 1987.3 L229.8 1983.1 L230.8 1972.2 L231.8 1957.1 L232.7 1940.4 L233.5 1924.6 L234.4 1899.7 L235.1 1869.0 L235.8 1839.0 L236.5 1816.1 L237.4 1807.1 L238.4 1812.8 L239.4 1827.3 L240.5 1846.9 L241.7 1867.5 L242.9 1885.4 L244.1 1902.1 L245.4 1920.7 L246.7 1938.1 L248.0 1951.0 L249.2 1956.0 L250.4 1946.2 L251.4 1922.9 L252.4 1895.0 L253.4 1871.7 L254.7 1861.9 L255.9 1869.1 L257.1 1887.0 L258.5 1909.9 L260.2 1932.1 L262.5 1948.1 L264.0 1953.7 L265.6 1959.0 L267.3 1963.6 L269.0 1966.7 L270.4 1967.7 L272.6 1958.8 L273.8 1936.7 L274.4 1906.9 L274.9 1874.9 L275.8 1846.3 L277.2 1814.2 L278.7 1777.1 L280.3 1741.9 L282.0 1715.6 L283.7 1705.2 L284.9 1709.2 L286.2 1719.6 L287.5 1734.4 L288.8 1751.2 L289.9 1767.9 L291.7 1804.4 L293.3 1852.2 L294.7 1900.2 L296.2 1937.2 L297.8 1952.1 L299.3 1942.4 L300.9 1917.3 L302.6 1882.5 L304.2 1843.8 L305.6 1807.1 L307.4 1747.3 L309.0 1673.2 L310.5 1600.6 L311.9 1545.3 L313.5 1523.4 L314.7 1535.1 L315.8 1565.3 L317.0 1606.2 L318.3 1650.1 L319.7 1689.5 L321.5 1734.0 L323.4 1785.5 L325.3 1834.5 L327.3 1871.1 L329.1 1885.4 L330.4 1877.4 L331.7 1856.7 L333.0 1828.2 L334.2 1796.9 L335.4 1767.9 L336.7 1730.6 L337.7 1688.2 L338.8 1645.8 L340.3 1608.0 L342.4 1579.8 L343.6 1572.2 L344.9 1566.4 L346.2 1561.3 L347.5 1555.7 L348.7 1548.5 L350.7 1527.9 L352.3 1502.2 L353.8 1473.4 L355.1 1443.8 L356.5 1415.3 L358.1 1382.0 L359.7 1343.8 L361.2 1307.7 L362.8 1280.8 L364.4 1270.3 L365.9 1282.9 L367.3 1313.0 L368.9 1349.0 L370.5 1379.1 L372.2 1391.8 L373.3 1385.3 L374.2 1369.5 L375.3 1349.9 L377.1 1332.0 L380.1 1321.2 L381.5 1319.5 L383.1 1318.1 L384.8 1317.2 L386.4 1316.9 L387.9 1317.3 L391.7 1330.9 L393.2 1360.1 L393.4 1397.0 L393.3 1433.7 L394.2 1462.3 L395.2 1476.3 L396.2 1490.6 L397.3 1503.2 L398.5 1512.1 L399.6 1515.6 L400.4 1513.3 L401.2 1507.9 L402.0 1501.3 L402.8 1495.9 L403.6 1493.6 L404.8 1501.4 L406.0 1519.9 L407.0 1541.9 L408.1 1560.4 L409.1 1568.1 L410.4 1551.4 L411.7 1511.5 L412.9 1464.0 L414.1 1424.1 L415.3 1407.4 L416.3 1415.6 L417.2 1436.1 L418.1 1462.6 L419.3 1489.1 L420.8 1509.3 L421.9 1518.7 L423.2 1528.2 L424.5 1536.5 L425.9 1542.4 L427.1 1544.6 L428.8 1537.5 L430.4 1519.5 L431.9 1495.3 L433.4 1469.4 L434.9 1446.6 L436.5 1423.1 L438.2 1396.2 L439.9 1370.9 L441.4 1352.1 L442.7 1344.7 L443.7 1353.7 L444.4 1375.1 L445.1 1400.6 L445.8 1422.0 L446.7 1430.9 L447.4 1420.7 L447.7 1395.4 L448.4 1363.5 L450.4 1333.4 L454.5 1313.4 L457.2 1308.9 L460.3 1305.7 L463.6 1303.2 L467.0 1300.7 L470.2 1297.7 L473.2 1293.6 L476.1 1289.0 L479.0 1284.4 L482.2 1280.6 L485.8 1278.1 L490.2 1277.8 L495.1 1279.2 L500.1 1281.0 L505.0 1282.4 L509.4 1282.1 L513.1 1278.9 L516.5 1273.7 L519.6 1268.1 L522.4 1263.8 L525.0 1262.5 L529.5 1271.8 L532.7 1293.1 L535.2 1320.3 L537.7 1347.3 L540.7 1368.3 L543.0 1378.6 L545.4 1389.2 L547.8 1398.4 L550.2 1405.0 L552.5 1407.4 L554.7 1401.4 L556.6 1387.1 L558.5 1370.0 L560.9 1355.4 L564.2 1348.7 L567.0 1350.4 L570.3 1355.3 L573.7 1361.4 L577.0 1366.4 L579.9 1368.3 L582.7 1365.8 L585.3 1360.1 L587.6 1352.5 L589.7 1344.4 L591.6 1336.9 L593.4 1329.2 L594.8 1321.1 L596.1 1312.8 L597.5 1304.9 L599.5 1297.7 L601.6 1291.8 L604.0 1285.4 L606.5 1279.7 L609.0 1275.6 L611.2 1274.2 L613.8 1278.1 L616.0 1287.3 L618.2 1299.3 L620.4 1311.5 L623.0 1321.2 L625.0 1327.1 L627.1 1332.9 L629.2 1338.1 L631.8 1342.2 L634.7 1344.7 L637.6 1344.9 L640.8 1343.6 L644.1 1341.9 L647.4 1340.7 L650.4 1340.8 L654.0 1344.7 L657.2 1351.7 L660.2 1359.4 L663.1 1365.7 L666.1 1368.3 L669.2 1365.8 L672.3 1359.8 L675.4 1351.9 L678.5 1343.7 L681.8 1336.9 L684.8 1331.4 L688.1 1325.5 L691.4 1320.1 L694.6 1316.3 L697.4 1315.0 L700.2 1317.0 L702.8 1321.7 L705.1 1328.5 L707.3 1336.4 L709.2 1344.7 L712.0 1369.4 L713.5 1403.8 L714.3 1439.1 L715.3 1466.7 L717.0 1478.0 L718.8 1473.7 L720.8 1462.5 L722.9 1447.2 L725.0 1430.5 L727.2 1415.3 L729.8 1395.8 L732.6 1372.8 L735.3 1350.6 L738.0 1334.0 L740.5 1327.5 L743.1 1335.2 L745.4 1354.9 L747.7 1381.9 L749.9 1411.4 L752.3 1438.8 L755.3 1472.1 L758.3 1508.9 L761.4 1546.2 L764.6 1581.3 L768.0 1611.2 L770.2 1628.7 L772.6 1646.5 L775.1 1662.3 L777.4 1673.5 L779.7 1677.8 L782.2 1671.1 L784.6 1653.9 L786.9 1630.2 L789.1 1604.2 L791.5 1579.8 L794.4 1548.4 L797.1 1513.3 L800.0 1477.4 L803.3 1443.8 L807.1 1415.3 L809.9 1400.4 L812.7 1386.8 L815.8 1374.4 L819.2 1363.0 L822.8 1352.6 L825.5 1345.6 L828.3 1339.2 L831.3 1333.3 L834.7 1327.8 L838.5 1322.8 L842.8 1318.0 L847.7 1313.1 L852.8 1308.8 L857.7 1306.0 L862.0 1305.6 L865.9 1308.1 L869.3 1313.2 L872.3 1320.2 L875.0 1328.3 L877.7 1336.9 L881.8 1356.4 L885.0 1381.2 L887.6 1407.9 L890.2 1433.5 L893.3 1454.5 L895.6 1465.9 L898.0 1477.5 L900.4 1487.6 L902.8 1494.8 L905.1 1497.5 L907.5 1493.0 L909.7 1481.6 L911.9 1466.6 L914.3 1451.3 L916.8 1438.8 L919.1 1430.5 L921.5 1421.7 L923.9 1413.7 L926.3 1408.0 L928.6 1405.9 L931.1 1409.1 L933.5 1417.3 L935.9 1428.7 L938.1 1441.7 L940.4 1454.5 L943.6 1475.9 L946.6 1500.8 L949.5 1527.5 L952.6 1554.4 L956.0 1579.8 L959.7 1605.5 L963.8 1634.1 L968.0 1660.7 L972.0 1680.3 L975.6 1688.0 L978.3 1682.9 L980.7 1669.6 L982.9 1651.2 L985.1 1630.7 L987.4 1611.2 L990.6 1583.3 L993.7 1552.1 L996.8 1519.2 L999.9 1486.2 L1003.0 1454.5 L1005.7 1421.5 L1008.0 1384.6 L1010.5 1350.2 L1013.8 1324.3 L1018.7 1313.4 L1021.6 1314.3 L1024.8 1317.7 L1028.2 1323.1 L1031.4 1329.7 L1034.4 1336.9 L1039.9 1358.9 L1044.1 1388.5 L1047.5 1422.8 L1050.6 1458.9 L1054.0 1493.6 L1058.1 1532.0 L1062.0 1572.2 L1065.9 1612.8 L1069.7 1652.4 L1073.6 1689.5 L1076.1 1720.5 L1077.9 1752.5 L1080.1 1782.5 L1083.5 1807.0 L1089.2 1822.8 L1092.1 1825.5 L1095.4 1826.8 L1098.8 1827.5 L1102.1 1828.5 L1104.9 1830.6 L1108.3 1836.1 L1110.8 1843.2 L1112.9 1851.5 L1114.7 1860.5 L1116.7 1869.8 L1118.9 1885.0 L1120.3 1903.1 L1121.9 1921.5 L1124.3 1937.4 L1128.4 1948.1 L1131.1 1950.9 L1134.1 1952.5 L1137.3 1953.6 L1140.7 1954.6 L1144.1 1956.0 L1148.6 1958.8 L1153.6 1962.3 L1158.7 1965.6 L1163.4 1967.7 L1167.6 1967.7 L1171.6 1964.1 L1174.8 1957.3 L1177.6 1948.8 L1180.3 1940.0 L1183.3 1932.5 L1186.4 1925.8 L1189.6 1918.4 L1192.8 1911.7 L1195.9 1906.8 L1198.9 1905.0 L1202.2 1908.7 L1205.1 1917.4 L1207.9 1928.6 L1211.0 1939.7 L1214.6 1948.1 L1217.4 1952.2 L1220.3 1955.7 L1223.4 1958.8 L1226.7 1961.5 L1230.3 1963.8 L1234.5 1965.9 L1239.2 1967.6 L1244.0 1968.9 L1249.0 1969.7 L1253.8 1970.1 L1258.4 1969.8 L1263.0 1968.8 L1267.6 1967.5 L1272.4 1966.2 L1277.3 1965.4 L1283.3 1965.0 L1289.5 1965.0 L1295.9 1965.1 L1302.3 1965.3 L1308.7 1965.4" stroke="#2163C6" stroke-width="2.4" fill="none" stroke-linejoin="round" clip-path="url(#cD)"/>
<path d="M223.3 1470.9 L224.4 1474.8 L225.6 1481.1 L226.7 1483.8 L227.8 1488.6 L228.8 1490.8 L230.2 1486.7 L230.8 1479.6 L231.3 1476.7 L231.7 1470.6 L232.0 1465.8 L232.4 1461.3 L232.8 1458.9 L233.2 1454.4 L233.6 1450.3 L234.3 1444.8 L235.1 1439.5 L236.2 1433.9 L237.5 1427.5 L238.8 1422.7 L240.1 1419.3 L241.4 1419.3 L243.0 1424.4 L243.8 1427.7 L244.6 1433.2 L245.1 1437.8 L245.7 1441.5 L246.2 1445.2 L246.9 1449.4 L247.7 1454.7 L249.2 1458.4 L250.2 1457.1 L251.1 1450.2 L252.0 1443.7 L253.1 1437.4 L254.7 1434.0 L256.1 1434.4 L257.7 1436.2 L259.4 1437.8 L261.0 1439.2 L262.5 1442.7 L264.5 1449.2 L265.3 1452.3 L266.1 1454.5 L266.9 1458.7 L267.6 1462.1 L269.0 1467.9 L270.4 1469.9 L272.1 1467.1 L272.9 1463.4 L273.6 1457.7 L274.1 1452.9 L274.6 1450.7 L275.1 1446.4 L275.6 1441.9 L276.1 1437.4 L276.6 1433.1 L277.1 1430.1 L277.7 1427.5 L278.2 1423.2 L279.0 1419.0 L279.7 1412.5 L280.2 1410.2 L280.8 1407.3 L281.3 1402.2 L282.1 1397.4 L282.9 1394.5 L283.7 1390.6 L284.5 1386.8 L286.0 1383.2 L287.1 1388.7 L288.1 1393.0 L288.5 1396.0 L288.9 1400.2 L289.3 1403.7 L289.7 1406.8 L290.2 1412.4 L290.5 1415.4 L290.8 1418.9 L291.2 1423.0 L291.5 1427.3 L291.8 1429.6 L292.2 1433.7 L292.6 1439.7 L293.0 1443.0 L293.4 1446.0 L293.8 1449.2 L294.2 1455.0 L295.2 1458.1 L296.2 1461.4 L298.1 1458.7 L298.8 1453.1 L299.4 1450.3 L300.0 1446.3 L300.5 1441.4 L301.0 1438.8 L301.5 1436.1 L302.0 1429.8 L302.5 1426.9 L302.9 1422.9 L303.4 1417.9 L303.9 1415.6 L304.3 1410.6 L304.7 1406.1 L305.2 1403.0 L305.6 1398.6 L306.0 1395.3 L306.5 1390.1 L306.9 1386.8 L307.3 1383.1 L307.6 1379.9 L308.0 1374.9 L308.3 1371.6 L308.6 1367.8 L308.9 1365.5 L309.2 1361.9 L309.5 1355.9 L309.8 1353.8 L310.1 1348.8 L310.4 1346.7 L310.9 1342.0 L311.4 1336.0 L311.9 1332.1 L313.5 1328.6 L314.7 1330.3 L315.3 1335.8 L315.8 1340.7 L316.2 1344.4 L316.6 1346.3 L317.0 1350.5 L317.5 1354.9 L317.9 1359.0 L318.3 1361.8 L319.0 1368.4 L319.7 1371.9 L320.7 1376.3 L321.7 1381.6 L322.8 1387.9 L323.9 1391.7 L325.2 1392.7 L327.3 1388.9 L328.4 1385.0 L329.6 1380.6 L330.8 1378.2 L332.1 1372.1 L332.9 1367.7 L333.7 1364.0 L334.6 1361.3 L335.8 1358.1 L337.0 1351.4 L338.2 1349.5 L339.4 1343.9 L340.5 1340.2 L341.7 1334.8 L342.9 1330.9 L344.1 1324.8 L345.2 1322.0 L346.4 1318.3 L347.6 1313.2 L348.7 1310.4 L350.3 1304.0 L351.9 1302.1 L353.5 1297.4 L355.1 1292.9 L356.5 1289.2 L357.4 1286.5 L358.3 1282.7 L359.2 1279.4 L360.0 1274.4 L360.8 1270.6 L361.6 1267.2 L363.1 1260.7 L364.4 1257.6 L365.5 1262.1 L366.3 1267.4 L366.7 1272.0 L367.0 1277.4 L367.3 1283.2 L367.6 1286.7 L368.0 1293.5 L368.3 1296.6 L368.5 1302.1 L368.7 1304.5 L369.0 1307.7 L369.2 1311.7 L369.4 1315.2 L369.6 1319.7 L369.8 1323.1 L369.9 1326.7 L370.1 1331.8 L370.3 1333.5 L370.5 1337.6 L370.6 1340.5 L370.8 1344.8 L371.0 1350.2 L371.2 1353.8 L371.3 1356.7 L371.5 1361.4 L371.8 1364.1 L372.1 1369.6 L372.3 1373.5 L372.6 1377.3 L373.8 1383.6 L374.7 1377.9 L374.8 1375.1 L375.0 1370.0 L375.1 1366.6 L375.3 1361.1 L375.4 1359.6 L375.6 1354.0 L375.8 1350.7 L375.9 1347.6 L376.1 1342.3 L376.4 1339.1 L376.7 1336.8 L377.0 1331.7 L377.3 1329.2 L377.5 1324.3 L378.4 1320.2 L379.2 1317.4 L380.1 1312.5 L381.4 1310.8 L383.0 1308.3 L384.7 1306.3 L386.3 1307.0 L387.9 1304.7 L390.4 1309.4 L391.5 1313.5 L392.7 1315.7 L393.8 1320.8 L394.9 1326.7 L396.0 1330.0 L397.2 1332.8 L399.6 1336.5 L401.2 1337.2 L402.8 1335.0 L404.4 1333.0 L406.0 1332.3 L407.5 1327.9 L409.2 1325.2 L410.8 1321.2 L412.2 1314.5 L413.7 1311.6 L415.3 1308.2 L417.5 1312.2 L418.7 1316.8 L419.9 1318.8 L421.1 1323.2 L422.3 1327.3 L423.5 1330.7 L424.7 1334.1 L427.1 1336.9 L429.4 1334.5 L431.7 1328.4 L432.8 1324.5 L434.0 1320.5 L435.1 1316.4 L436.3 1312.3 L437.6 1308.9 L438.8 1305.6 L440.9 1301.1 L443.0 1296.8 L445.2 1292.7 L447.6 1289.1 L450.6 1286.0 L454.0 1283.7 L457.8 1281.9 L461.9 1280.5 L466.1 1279.3 L470.2 1278.1 L474.1 1276.9 L478.0 1275.8 L481.9 1274.8 L485.9 1274.2 L489.8 1274.2 L493.8 1275.4 L497.9 1277.7 L501.9 1280.1 L505.8 1281.9 L509.4 1282.1 L513.0 1279.3 L516.3 1274.1 L519.4 1268.4 L522.3 1263.9 L525.0 1262.5 L527.1 1265.9 L529.3 1269.4 L530.1 1273.3 L530.9 1277.2 L531.8 1281.1 L532.6 1285.1 L533.2 1289.1 L533.7 1293.2 L534.3 1297.3 L534.8 1301.4 L535.4 1305.5 L535.8 1309.0 L536.2 1312.6 L536.7 1316.1 L537.1 1319.7 L537.5 1323.2 L538.0 1326.7 L538.5 1330.3 L539.1 1333.9 L539.6 1337.5 L540.2 1341.1 L540.7 1344.7 L541.3 1348.3 L541.9 1351.9 L542.5 1355.4 L543.2 1359.0 L543.7 1362.9 L544.3 1366.8 L544.9 1370.7 L545.5 1374.6 L546.1 1378.2 L546.7 1381.8 L547.3 1385.4 L547.9 1389.0 L548.6 1392.5 L549.4 1396.0 L550.2 1399.5 L552.5 1403.5 L554.6 1398.2 L555.3 1393.8 L555.9 1389.4 L556.6 1384.9 L557.1 1380.6 L557.6 1376.3 L558.1 1372.0 L558.6 1367.7 L559.2 1363.3 L559.8 1359.0 L560.4 1354.7 L561.0 1350.3 L562.1 1345.9 L563.1 1341.4 L564.2 1336.9 L565.5 1333.7 L566.9 1330.4 L569.8 1324.7 L573.0 1319.5 L576.4 1314.5 L579.9 1309.5 L583.6 1304.2 L587.5 1298.8 L591.5 1293.7 L595.6 1289.3 L599.5 1286.0 L601.9 1284.4 L604.4 1283.0 L606.9 1282.1 L609.2 1281.7 L611.2 1282.1 L613.2 1283.6 L614.8 1286.4 L616.3 1289.8 L617.6 1293.7 L619.1 1297.7 L620.2 1301.3 L621.3 1304.9 L622.3 1309.3 L623.3 1313.6 L624.3 1318.2 L625.4 1322.7 L626.6 1326.8 L627.8 1330.9 L630.8 1336.9 L632.9 1339.4 L635.1 1341.4 L637.5 1342.9 L640.0 1344.1 L642.6 1344.7 L645.5 1344.9 L648.7 1344.6 L652.0 1343.8 L655.2 1342.5 L658.2 1340.8 L661.6 1337.9 L664.8 1334.0 L667.8 1329.6 L670.8 1325.2 L673.9 1321.2 L677.0 1317.4 L680.1 1313.3 L683.3 1309.4 L686.4 1306.6 L689.6 1305.6 L692.6 1307.1 L695.5 1310.8 L698.5 1315.4 L701.7 1319.3 L705.3 1321.2 L710.2 1319.9 L715.9 1315.8 L718.8 1313.4 L721.7 1310.9 L724.6 1308.9 L727.5 1306.9 L732.7 1305.6 L737.0 1307.1 L741.0 1310.2 L744.9 1314.6 L748.6 1319.7 L752.3 1325.2 L754.2 1329.3 L756.2 1333.4 L758.1 1337.6 L759.3 1340.9 L760.4 1344.3 L761.5 1347.7 L762.7 1351.0 L763.8 1354.4 L764.9 1357.8 L766.0 1361.3 L767.1 1364.7 L768.2 1368.1 L769.3 1371.5 L770.6 1374.9 L771.9 1378.2 L773.3 1381.5 L774.6 1384.8 L777.1 1387.5 L779.7 1390.2 L783.8 1386.8 L785.7 1382.5 L787.7 1378.2 L788.9 1374.4 L790.2 1370.6 L791.5 1366.8 L792.7 1362.8 L794.0 1358.8 L795.3 1354.9 L796.6 1351.5 L798.0 1348.1 L799.3 1344.7 L801.1 1340.8 L802.9 1336.8 L804.7 1332.7 L806.5 1328.6 L808.4 1324.7 L810.3 1320.8 L812.3 1317.5 L814.3 1314.2 L818.9 1309.5 L822.5 1307.5 L826.3 1306.5 L830.3 1306.0 L834.4 1305.8 L838.5 1305.6 L843.1 1305.0 L847.9 1304.4 L852.7 1304.0 L857.5 1304.3 L862.0 1305.6 L867.0 1309.2 L869.4 1312.0 L871.8 1314.8 L874.1 1317.8 L876.4 1320.9 L880.9 1326.2 L885.5 1329.1 L888.7 1329.5 L891.8 1329.2 L894.9 1328.3 L898.0 1326.9 L901.2 1325.2 L905.8 1321.1 L908.3 1318.1 L910.7 1315.2 L913.1 1312.0 L915.5 1308.9 L920.2 1303.9 L924.7 1301.6 L927.9 1302.2 L931.1 1304.1 L934.1 1306.8 L937.2 1310.1 L940.4 1313.4 L942.6 1316.3 L944.8 1319.3 L947.1 1323.1 L949.3 1326.9 L951.6 1330.8 L953.9 1334.7 L956.3 1337.9 L958.7 1341.1 L963.9 1344.7 L968.4 1345.3 L973.2 1344.6 L978.1 1342.7 L982.9 1340.1 L987.4 1336.9 L990.0 1333.5 L992.6 1330.2 L994.1 1327.0 L995.6 1323.8 L997.1 1320.6 L998.5 1317.2 L999.9 1313.9 L1001.3 1310.5 L1003.6 1306.3 L1005.8 1302.1 L1010.9 1297.7 L1015.3 1297.6 L1020.0 1299.4 L1024.9 1302.4 L1029.8 1306.0 L1034.4 1309.5 L1039.1 1313.8 L1043.6 1319.1 L1045.8 1321.9 L1048.0 1324.6 L1052.7 1329.5 L1057.9 1333.0 L1063.6 1334.7 L1069.9 1335.1 L1076.3 1335.0 L1082.9 1334.9 L1089.2 1335.3 L1095.6 1337.0 L1102.0 1339.5 L1108.3 1341.9 L1114.5 1343.4 L1120.6 1343.2 L1123.8 1341.7 L1127.1 1340.1 L1130.2 1337.5 L1133.3 1334.8 L1136.3 1331.6 L1139.3 1328.4 L1142.4 1325.3 L1145.5 1322.2 L1148.7 1319.8 L1151.9 1317.3 L1158.1 1314.1 L1164.4 1311.3 L1170.9 1309.0 L1177.2 1307.0 L1183.3 1305.6 L1188.2 1304.5 L1193.0 1303.6 L1197.7 1303.1 L1202.3 1303.2 L1206.8 1304.0 L1211.8 1306.0 L1216.8 1308.9 L1221.7 1312.5 L1226.2 1316.7 L1230.3 1321.2 L1232.2 1324.4 L1234.1 1327.5 L1235.6 1331.2 L1237.2 1334.9 L1238.5 1338.9 L1239.9 1342.8 L1241.3 1346.5 L1242.7 1350.2 L1244.3 1353.4 L1246.0 1356.5 L1248.8 1360.6 L1251.7 1364.5 L1254.8 1368.0 L1258.0 1370.6 L1261.6 1372.2 L1265.9 1372.1 L1270.5 1370.5 L1275.4 1368.1 L1280.3 1365.8 L1285.1 1364.3 L1289.8 1363.9 L1294.5 1363.8 L1299.2 1364.0 L1303.9 1364.2 L1308.7 1364.3" stroke="#35A464" stroke-width="2.4" fill="none" stroke-linejoin="round" clip-path="url(#cD)"/>
<path d="M1559.4 1956.0 L1560.3 1975.3 L1561.2 1997.5 L1562.2 2019.6 L1563.1 2039.0 L1564.0 2052.7 L1564.9 2057.8 L1566.0 2043.5 L1566.8 2007.0 L1567.7 1958.4 L1568.7 1907.4 L1570.3 1864.2 L1572.7 1838.4 L1573.5 1835.3 L1574.3 1832.4 L1575.1 1830.0 L1575.9 1828.2 L1576.7 1827.0 L1577.4 1826.7 L1579.8 1844.2 L1581.3 1887.1 L1582.2 1942.6 L1582.8 1998.1 L1583.4 2040.8 L1584.5 2057.8 L1585.4 2044.9 L1586.1 2012.5 L1586.8 1970.2 L1587.9 1927.9 L1589.6 1895.1 L1592.3 1881.5 L1593.3 1881.8 L1594.4 1883.0 L1595.5 1884.9 L1596.6 1887.3 L1597.6 1890.2 L1598.6 1893.3 L1601.0 1911.0 L1602.6 1939.1 L1603.7 1971.6 L1604.6 2002.4 L1605.4 2025.3 L1606.4 2034.3 L1607.8 2026.3 L1609.1 2005.3 L1610.4 1975.6 L1611.7 1941.5 L1613.0 1907.4 L1614.3 1877.6 L1615.6 1847.9 L1616.8 1813.8 L1618.1 1779.7 L1619.4 1749.9 L1620.7 1728.9 L1622.1 1720.9 L1623.4 1727.1 L1624.8 1743.6 L1626.1 1767.0 L1627.5 1794.1 L1628.8 1821.6 L1629.9 1846.3 L1631.0 1875.0 L1632.0 1908.8 L1632.9 1943.1 L1633.7 1973.3 L1634.5 1994.8 L1635.4 2003.0 L1636.4 1995.5 L1637.4 1975.6 L1638.5 1946.9 L1639.5 1913.3 L1640.6 1878.5 L1641.7 1846.3 L1643.2 1798.6 L1644.7 1740.2 L1646.2 1679.6 L1647.8 1625.6 L1649.4 1586.9 L1651.1 1572.0 L1652.1 1575.9 L1653.1 1586.3 L1654.2 1601.6 L1655.3 1619.9 L1656.3 1639.3 L1657.4 1658.2 L1659.1 1696.6 L1660.8 1746.7 L1662.5 1800.1 L1664.2 1848.5 L1665.9 1883.6 L1667.6 1897.2 L1668.9 1889.3 L1670.3 1868.3 L1671.6 1838.3 L1672.9 1803.6 L1674.2 1768.3 L1675.4 1736.6 L1676.4 1700.5 L1677.0 1660.3 L1677.6 1619.3 L1678.4 1580.8 L1679.9 1548.3 L1682.4 1525.0 L1683.6 1519.8 L1685.0 1515.8 L1686.4 1512.5 L1687.8 1509.4 L1689.1 1505.9 L1690.3 1501.5 L1691.8 1492.3 L1693.1 1481.9 L1694.0 1470.4 L1694.8 1458.0 L1695.7 1444.8 L1696.5 1430.9 L1697.8 1404.3 L1698.9 1370.4 L1699.9 1334.8 L1701.0 1302.6 L1702.4 1279.4 L1704.4 1270.3 L1705.5 1272.0 L1706.8 1276.7 L1708.2 1283.3 L1709.5 1291.0 L1710.9 1298.7 L1712.2 1305.6 L1713.6 1311.7 L1715.0 1317.7 L1716.3 1323.8 L1717.6 1330.1 L1718.9 1337.0 L1720.1 1344.7 L1721.7 1360.1 L1723.1 1378.2 L1724.2 1397.8 L1725.3 1417.8 L1726.5 1437.1 L1727.9 1454.5 L1729.0 1468.0 L1730.1 1482.7 L1731.2 1496.9 L1732.5 1509.1 L1734.0 1517.7 L1735.7 1521.1 L1736.9 1519.7 L1738.3 1516.1 L1739.7 1511.3 L1741.1 1506.5 L1742.4 1502.9 L1743.6 1501.5 L1744.7 1503.3 L1745.7 1507.7 L1746.6 1513.3 L1747.4 1519.0 L1748.3 1523.3 L1749.1 1525.0 L1750.3 1519.4 L1751.4 1505.6 L1752.4 1487.7 L1753.3 1469.8 L1754.3 1456.0 L1755.3 1450.5 L1756.4 1457.5 L1757.4 1474.8 L1758.4 1497.3 L1759.6 1519.9 L1761.2 1537.4 L1763.2 1544.6 L1764.3 1543.9 L1765.7 1541.8 L1767.1 1538.5 L1768.5 1534.5 L1769.8 1529.8 L1771.0 1525.0 L1773.3 1506.2 L1774.8 1478.4 L1775.8 1447.1 L1776.6 1417.9 L1777.5 1396.3 L1778.8 1387.8 L1780.1 1393.3 L1781.4 1407.1 L1782.7 1425.1 L1784.1 1443.0 L1785.4 1456.8 L1786.7 1462.3 L1787.8 1453.4 L1788.5 1431.2 L1789.1 1402.2 L1790.0 1373.1 L1791.7 1350.4 L1794.5 1340.8 L1796.2 1342.1 L1798.2 1345.7 L1800.3 1350.6 L1802.4 1355.5 L1804.5 1359.1 L1806.3 1360.4 L1809.0 1354.2 L1811.1 1339.6 L1812.9 1320.9 L1814.5 1302.2 L1816.1 1287.9 L1818.0 1282.1 L1819.1 1283.8 L1820.0 1288.4 L1821.0 1294.6 L1822.1 1301.0 L1823.7 1306.4 L1825.8 1309.5 L1828.0 1310.2 L1830.6 1310.1 L1833.3 1309.5 L1836.2 1308.4 L1839.0 1307.1 L1841.5 1305.6 L1844.4 1303.2 L1847.2 1300.2 L1849.8 1296.7 L1852.3 1293.0 L1854.8 1289.3 L1857.2 1286.0 L1859.3 1282.9 L1861.4 1279.3 L1863.4 1275.8 L1865.4 1272.8 L1867.2 1270.8 L1868.9 1270.3 L1871.2 1273.9 L1872.8 1282.3 L1874.1 1293.4 L1875.6 1304.9 L1877.6 1314.9 L1880.7 1321.2 L1882.9 1322.9 L1885.5 1323.7 L1888.2 1324.1 L1891.0 1324.2 L1893.7 1324.5 L1896.4 1325.2 L1899.1 1326.0 L1901.9 1326.8 L1904.6 1327.7 L1907.3 1328.9 L1909.8 1330.6 L1912.0 1333.0 L1915.8 1342.1 L1918.5 1356.3 L1920.6 1372.4 L1922.3 1387.6 L1924.1 1399.0 L1926.2 1403.5 L1927.7 1402.2 L1929.2 1398.4 L1930.8 1392.9 L1932.3 1386.2 L1933.9 1379.1 L1935.6 1372.2 L1938.5 1357.9 L1941.4 1339.3 L1944.5 1319.4 L1947.8 1301.2 L1951.4 1287.8 L1955.1 1282.1 L1956.9 1282.7 L1958.5 1285.0 L1960.2 1288.3 L1962.1 1292.0 L1964.3 1295.3 L1966.9 1297.7 L1971.3 1299.0 L1976.6 1299.0 L1982.4 1298.5 L1988.3 1298.3 L1993.8 1299.1 L1998.2 1301.6 L2003.5 1312.6 L2006.7 1330.4 L2008.5 1351.0 L2009.8 1370.7 L2011.4 1385.6 L2013.9 1391.8 L2015.8 1390.9 L2017.7 1388.0 L2019.7 1383.8 L2021.7 1378.8 L2023.7 1373.4 L2025.7 1368.3 L2028.5 1359.2 L2031.3 1347.6 L2034.0 1335.3 L2036.6 1324.3 L2039.1 1316.4 L2041.3 1313.4 L2043.9 1318.6 L2046.1 1331.7 L2048.0 1350.0 L2049.7 1370.6 L2051.4 1390.7 L2053.1 1407.4 L2054.5 1420.1 L2055.7 1433.9 L2056.9 1447.4 L2058.2 1459.0 L2059.5 1467.1 L2060.9 1470.1 L2062.7 1466.4 L2064.5 1456.5 L2066.4 1442.8 L2068.4 1427.3 L2070.5 1412.1 L2072.7 1399.6 L2074.6 1390.1 L2076.6 1379.6 L2078.7 1369.5 L2080.7 1360.8 L2082.7 1354.8 L2084.4 1352.6 L2086.8 1358.9 L2088.7 1375.0 L2090.4 1397.6 L2092.1 1423.3 L2094.0 1448.6 L2096.2 1470.1 L2098.5 1487.0 L2100.9 1504.2 L2103.4 1521.1 L2106.1 1537.0 L2108.9 1551.6 L2111.9 1564.2 L2113.7 1571.2 L2115.6 1578.3 L2117.6 1584.9 L2119.6 1590.4 L2121.6 1594.1 L2123.6 1595.5 L2126.2 1593.3 L2128.9 1587.4 L2131.6 1578.9 L2134.3 1568.9 L2136.9 1558.4 L2139.3 1548.5 L2142.3 1534.6 L2145.0 1519.1 L2147.4 1502.7 L2149.8 1486.0 L2152.3 1469.7 L2155.0 1454.5 L2157.5 1441.9 L2160.1 1429.6 L2162.8 1417.6 L2165.5 1406.0 L2168.1 1394.7 L2170.6 1383.9 L2172.6 1374.5 L2174.3 1364.3 L2176.1 1354.3 L2177.9 1345.7 L2180.0 1339.6 L2182.4 1336.9 L2184.1 1337.8 L2185.9 1340.5 L2187.8 1344.2 L2189.8 1348.1 L2191.9 1351.1 L2194.2 1352.6 L2196.6 1351.8 L2199.3 1349.4 L2202.1 1346.3 L2204.8 1343.3 L2207.5 1341.2 L2209.8 1340.8 L2213.6 1346.4 L2216.2 1358.3 L2218.2 1374.2 L2220.1 1391.7 L2222.4 1408.8 L2225.5 1423.1 L2228.8 1434.2 L2232.5 1446.1 L2236.5 1457.6 L2240.6 1467.6 L2244.8 1474.8 L2249.0 1478.0 L2251.6 1477.6 L2254.3 1475.9 L2257.0 1473.1 L2259.7 1469.7 L2262.3 1465.9 L2264.7 1462.3 L2267.7 1456.0 L2270.4 1447.8 L2272.9 1439.1 L2275.4 1431.1 L2277.8 1425.3 L2280.4 1423.1 L2283.0 1424.9 L2285.7 1429.8 L2288.4 1436.9 L2291.1 1445.3 L2293.6 1454.0 L2296.0 1462.3 L2299.0 1473.6 L2301.6 1486.5 L2304.1 1500.0 L2306.5 1513.4 L2309.0 1525.9 L2311.7 1536.7 L2313.6 1543.5 L2315.6 1550.6 L2317.6 1557.3 L2319.6 1562.9 L2321.6 1566.8 L2323.5 1568.1 L2326.3 1564.0 L2329.0 1553.7 L2331.6 1538.8 L2334.1 1521.3 L2336.6 1503.0 L2339.1 1485.8 L2342.4 1459.9 L2345.3 1429.6 L2348.2 1397.6 L2351.2 1367.0 L2354.7 1340.6 L2358.7 1321.2 L2360.5 1315.4 L2362.4 1309.9 L2364.3 1305.0 L2366.3 1301.1 L2368.4 1298.6 L2370.5 1297.7 L2373.6 1299.9 L2376.9 1305.6 L2380.3 1313.9 L2383.7 1323.8 L2387.0 1334.4 L2390.1 1344.7 L2394.5 1362.1 L2398.7 1382.1 L2402.6 1403.8 L2406.3 1426.3 L2409.9 1448.7 L2413.6 1470.1 L2416.8 1490.8 L2419.7 1512.2 L2422.4 1533.6 L2425.4 1554.0 L2428.9 1572.3 L2433.2 1587.7 L2436.1 1594.9 L2439.4 1601.2 L2442.8 1606.8 L2446.3 1612.0 L2449.6 1617.3 L2452.7 1622.9 L2455.6 1628.7 L2458.3 1634.4 L2460.9 1640.1 L2463.5 1646.0 L2465.9 1652.0 L2468.4 1658.2 L2471.1 1665.9 L2473.5 1674.4 L2475.8 1683.0 L2478.3 1691.4 L2481.0 1698.9 L2484.1 1705.2 L2486.4 1708.8 L2488.8 1712.1 L2491.2 1715.0 L2493.9 1717.5 L2496.7 1719.5 L2499.8 1720.9 L2503.3 1721.6 L2507.2 1721.7 L2511.3 1721.2 L2515.5 1720.3 L2519.5 1718.8 L2523.3 1717.0 L2527.5 1713.4 L2531.6 1708.2 L2535.4 1702.3 L2539.2 1696.6 L2542.9 1692.1 L2546.8 1689.5 L2549.4 1689.0 L2552.1 1689.0 L2554.8 1689.5 L2557.4 1690.4 L2560.0 1691.8 L2562.5 1693.5 L2566.0 1697.4 L2569.1 1703.0 L2572.0 1709.5 L2575.0 1716.4 L2578.3 1723.0 L2582.0 1728.7 L2586.0 1733.4 L2590.3 1738.0 L2594.8 1742.3 L2599.5 1746.2 L2604.4 1749.6 L2609.5 1752.2 L2614.6 1754.1 L2620.3 1755.4 L2626.2 1756.2 L2631.8 1756.6 L2636.8 1756.6 L2640.8 1756.1 L2642.5 1755.7 L2643.9 1755.1 L2645.1 1754.4 L2646.3 1753.7 L2647.4 1752.9 L2648.7 1752.2" stroke="#2163C6" stroke-width="2.4" fill="none" stroke-linejoin="round" clip-path="url(#cE)"/>
<path d="M1559.4 1666.0 L1560.7 1673.5 L1562.1 1682.0 L1563.5 1690.6 L1564.8 1698.0 L1566.1 1703.3 L1567.3 1705.2 L1568.9 1697.0 L1570.3 1676.7 L1571.5 1650.3 L1572.7 1623.9 L1573.8 1603.6 L1575.1 1595.5 L1576.3 1602.5 L1577.5 1619.9 L1578.8 1642.5 L1580.1 1665.1 L1581.4 1682.5 L1582.9 1689.5 L1584.4 1684.3 L1586.0 1671.3 L1587.6 1654.3 L1589.3 1637.3 L1590.9 1624.2 L1592.3 1619.0 L1593.8 1625.4 L1595.1 1641.4 L1596.3 1662.1 L1597.5 1682.9 L1598.8 1698.8 L1600.2 1705.2 L1601.7 1700.3 L1603.4 1687.4 L1605.0 1669.3 L1606.8 1648.7 L1608.6 1628.4 L1610.4 1611.2 L1612.0 1596.5 L1613.7 1580.2 L1615.5 1564.1 L1617.2 1550.2 L1618.9 1540.4 L1620.5 1536.7 L1621.9 1539.6 L1623.3 1547.1 L1624.6 1557.9 L1625.9 1570.5 L1627.2 1583.5 L1628.4 1595.5 L1629.8 1612.1 L1631.1 1632.2 L1632.4 1652.9 L1633.6 1671.3 L1634.9 1684.5 L1636.2 1689.5 L1637.8 1683.5 L1639.4 1667.5 L1641.0 1645.1 L1642.7 1619.4 L1644.2 1594.0 L1645.6 1572.0 L1646.8 1551.6 L1647.8 1528.5 L1648.8 1505.6 L1649.7 1485.6 L1650.8 1471.5 L1651.9 1466.2 L1652.7 1468.6 L1653.6 1474.9 L1654.4 1484.1 L1655.3 1495.0 L1656.3 1506.4 L1657.4 1517.1 L1659.1 1535.0 L1661.1 1557.4 L1663.2 1580.9 L1665.3 1602.0 L1667.3 1617.1 L1669.1 1622.9 L1670.7 1617.3 L1672.1 1602.7 L1673.4 1582.2 L1674.6 1559.1 L1675.8 1536.3 L1677.0 1517.1 L1677.8 1502.8 L1678.4 1488.2 L1679.0 1473.9 L1679.7 1460.5 L1680.8 1448.6 L1682.4 1438.8 L1683.6 1434.8 L1684.9 1431.6 L1686.3 1428.7 L1687.8 1425.9 L1689.1 1422.9 L1690.3 1419.2 L1691.8 1412.3 L1692.9 1404.7 L1693.9 1396.3 L1694.8 1387.4 L1695.6 1378.0 L1696.5 1368.3 L1697.8 1351.5 L1698.9 1330.8 L1700.0 1309.2 L1701.2 1289.8 L1702.6 1275.8 L1704.4 1270.3 L1705.6 1271.5 L1706.9 1275.0 L1708.2 1280.0 L1709.6 1285.9 L1711.0 1292.1 L1712.2 1297.7 L1713.7 1304.6 L1715.1 1311.9 L1716.4 1319.5 L1717.7 1327.5 L1718.9 1335.9 L1720.1 1344.7 L1721.2 1359.1 L1721.9 1376.4 L1722.4 1394.5 L1723.3 1411.1 L1725.0 1423.9 L1727.9 1430.9 L1729.1 1431.8 L1730.4 1432.2 L1731.8 1432.4 L1733.2 1432.2 L1734.6 1431.7 L1735.7 1430.9 L1737.8 1426.7 L1739.3 1419.0 L1740.5 1409.9 L1741.4 1401.1 L1742.4 1394.5 L1743.6 1391.8 L1744.5 1392.9 L1745.4 1395.8 L1746.3 1399.6 L1747.3 1403.4 L1748.2 1406.3 L1749.1 1407.4 L1750.2 1405.1 L1751.2 1399.2 L1752.3 1391.7 L1753.3 1384.2 L1754.3 1378.4 L1755.3 1376.1 L1756.6 1379.3 L1757.9 1387.3 L1759.2 1397.6 L1760.5 1408.0 L1761.8 1416.0 L1763.2 1419.2 L1764.5 1417.1 L1765.8 1411.4 L1767.1 1403.4 L1768.4 1394.0 L1769.7 1384.6 L1771.0 1376.1 L1772.4 1366.1 L1773.7 1354.2 L1774.9 1342.2 L1776.2 1331.7 L1777.5 1324.1 L1778.8 1321.2 L1780.1 1324.7 L1781.4 1333.4 L1782.7 1344.7 L1784.1 1356.1 L1785.4 1364.8 L1786.7 1368.3 L1787.8 1365.0 L1788.7 1356.6 L1789.6 1345.5 L1790.7 1333.7 L1792.3 1323.6 L1794.5 1317.3 L1795.7 1316.0 L1796.9 1314.9 L1798.3 1314.1 L1799.7 1313.6 L1801.0 1313.3 L1802.3 1313.4 L1803.7 1314.2 L1805.1 1315.8 L1806.5 1317.8 L1807.8 1319.6 L1809.0 1320.9 L1810.2 1321.2 L1812.2 1316.6 L1813.6 1306.4 L1814.6 1293.4 L1815.4 1280.4 L1816.5 1270.5 L1818.0 1266.4 L1819.1 1267.6 L1820.1 1270.8 L1821.1 1275.2 L1822.4 1279.8 L1823.9 1283.7 L1825.8 1286.0 L1828.0 1286.6 L1830.6 1286.5 L1833.3 1285.9 L1836.2 1284.9 L1839.0 1283.5 L1841.5 1282.1 L1844.4 1279.5 L1847.0 1275.9 L1849.5 1271.8 L1852.0 1267.9 L1854.5 1264.6 L1857.2 1262.5 L1859.1 1261.7 L1861.2 1261.2 L1863.2 1261.0 L1865.2 1261.1 L1867.2 1261.6 L1868.9 1262.5 L1871.3 1265.5 L1873.1 1270.3 L1874.6 1276.1 L1876.3 1281.9 L1878.2 1286.8 L1880.7 1289.9 L1883.0 1290.7 L1885.6 1290.6 L1888.4 1290.0 L1891.2 1289.4 L1893.9 1289.2 L1896.4 1289.9 L1899.4 1292.2 L1902.2 1295.5 L1904.8 1299.6 L1907.3 1304.1 L1909.7 1308.8 L1912.0 1313.4 L1914.7 1319.6 L1917.1 1327.1 L1919.5 1334.8 L1921.8 1341.7 L1924.0 1346.7 L1926.2 1348.7 L1927.8 1347.8 L1929.3 1345.5 L1930.8 1342.1 L1932.3 1337.9 L1933.9 1333.5 L1935.6 1329.1 L1938.5 1320.0 L1941.5 1308.1 L1944.6 1295.3 L1947.9 1283.5 L1951.4 1274.6 L1955.1 1270.3 L1957.0 1270.4 L1958.9 1271.7 L1960.8 1273.6 L1962.8 1275.7 L1964.8 1277.4 L1966.9 1278.1 L1969.4 1277.6 L1972.0 1276.1 L1974.7 1274.0 L1977.4 1272.0 L1980.0 1270.6 L1982.6 1270.3 L1985.4 1271.2 L1988.1 1272.9 L1990.9 1275.4 L1993.5 1278.4 L1996.0 1282.0 L1998.2 1286.0 L2001.8 1297.4 L2004.2 1313.7 L2006.2 1331.8 L2008.1 1348.9 L2010.5 1362.1 L2013.9 1368.3 L2015.7 1368.5 L2017.7 1367.9 L2019.8 1366.7 L2021.8 1364.9 L2023.8 1362.8 L2025.7 1360.4 L2029.1 1352.1 L2032.0 1339.5 L2034.5 1325.1 L2036.8 1311.6 L2039.1 1301.6 L2041.3 1297.7 L2043.5 1300.5 L2045.6 1307.8 L2047.6 1318.2 L2049.6 1330.1 L2051.4 1342.0 L2053.1 1352.6 L2054.5 1363.6 L2055.7 1376.2 L2056.6 1388.9 L2057.7 1400.1 L2059.1 1408.1 L2060.9 1411.4 L2062.6 1410.2 L2064.6 1406.8 L2066.6 1401.8 L2068.8 1395.9 L2070.8 1389.7 L2072.7 1383.9 L2074.9 1375.2 L2077.0 1364.4 L2078.9 1353.1 L2080.8 1343.0 L2082.6 1335.7 L2084.4 1333.0 L2086.5 1336.4 L2088.4 1345.3 L2090.2 1357.9 L2092.1 1372.4 L2094.1 1386.9 L2096.2 1399.6 L2098.4 1412.3 L2100.5 1426.2 L2102.7 1440.2 L2105.2 1452.9 L2108.2 1463.3 L2111.9 1470.1 L2113.7 1471.8 L2115.6 1473.2 L2117.6 1474.1 L2119.6 1474.6 L2121.7 1474.6 L2123.6 1474.0 L2127.7 1470.2 L2131.7 1463.0 L2135.7 1453.5 L2139.6 1442.9 L2143.4 1432.4 L2147.1 1423.1 L2150.7 1415.2 L2154.2 1407.4 L2157.6 1399.7 L2160.9 1391.9 L2164.0 1384.1 L2166.7 1376.1 L2168.9 1366.8 L2170.5 1356.3 L2171.9 1345.7 L2173.4 1336.2 L2175.5 1329.0 L2178.5 1325.2 L2180.7 1325.0 L2183.2 1326.2 L2185.9 1328.1 L2188.6 1330.3 L2191.4 1332.1 L2194.2 1333.0 L2196.8 1332.7 L2199.5 1331.7 L2202.3 1330.3 L2204.9 1329.1 L2207.5 1328.6 L2209.8 1329.1 L2213.3 1333.0 L2216.1 1339.8 L2218.5 1348.6 L2220.7 1358.2 L2223.0 1367.7 L2225.5 1376.1 L2227.9 1383.5 L2230.1 1391.4 L2232.3 1399.3 L2234.8 1406.3 L2237.7 1411.9 L2241.2 1415.3 L2244.1 1416.2 L2247.4 1416.4 L2250.9 1415.8 L2254.4 1414.7 L2257.8 1413.1 L2260.8 1411.4 L2263.9 1408.1 L2266.6 1403.4 L2269.1 1398.1 L2271.5 1393.2 L2273.9 1389.5 L2276.4 1387.8 L2278.4 1388.2 L2280.5 1389.4 L2282.5 1391.3 L2284.4 1393.8 L2286.4 1396.6 L2288.2 1399.6 L2291.2 1406.5 L2293.9 1415.6 L2296.4 1425.8 L2298.8 1436.4 L2301.2 1446.2 L2303.9 1454.5 L2305.8 1459.6 L2307.7 1464.9 L2309.7 1469.8 L2311.7 1474.0 L2313.6 1476.9 L2315.6 1478.0 L2317.6 1476.9 L2319.6 1474.2 L2321.6 1470.1 L2323.6 1465.2 L2325.5 1459.8 L2327.4 1454.5 L2330.3 1444.2 L2332.9 1431.9 L2335.4 1418.3 L2337.8 1404.1 L2340.3 1389.8 L2343.0 1376.1 L2346.1 1361.6 L2349.3 1346.0 L2352.7 1330.3 L2356.0 1315.7 L2359.4 1303.1 L2362.6 1293.8 L2363.9 1290.8 L2365.3 1288.0 L2366.6 1285.6 L2367.9 1283.6 L2369.2 1282.4 L2370.5 1282.1 L2372.5 1283.7 L2374.4 1287.6 L2376.4 1293.3 L2378.3 1299.9 L2380.3 1306.8 L2382.2 1313.4 L2384.9 1322.5 L2387.6 1332.4 L2390.2 1342.9 L2392.8 1353.8 L2395.4 1365.0 L2397.9 1376.1 L2400.6 1388.8 L2403.1 1402.1 L2405.7 1415.6 L2408.2 1429.1 L2410.8 1442.1 L2413.6 1454.5 L2415.9 1464.8 L2418.0 1475.4 L2420.3 1485.8 L2422.7 1495.3 L2425.7 1503.3 L2429.2 1509.3 L2431.6 1511.5 L2434.1 1513.1 L2436.8 1514.2 L2439.5 1515.1 L2442.2 1516.0 L2444.9 1517.1 L2447.5 1518.4 L2450.1 1519.5 L2452.7 1520.6 L2455.3 1521.8 L2457.9 1523.2 L2460.6 1525.0 L2464.4 1528.1 L2468.2 1532.0 L2472.1 1536.2 L2476.0 1540.6 L2480.0 1544.8 L2484.1 1548.5 L2487.9 1551.8 L2491.9 1555.5 L2495.8 1558.9 L2499.8 1561.8 L2503.8 1563.7 L2507.6 1564.2 L2511.6 1562.5 L2515.5 1558.9 L2519.4 1554.1 L2523.3 1548.9 L2527.1 1544.2 L2531.1 1540.6 L2534.4 1538.5 L2537.7 1536.3 L2541.1 1534.4 L2544.4 1533.1 L2547.7 1532.4 L2550.7 1532.8 L2554.3 1535.5 L2557.5 1540.4 L2560.6 1546.7 L2563.6 1553.3 L2566.8 1559.4 L2570.3 1564.2 L2573.4 1567.1 L2576.6 1570.0 L2580.0 1572.5 L2583.3 1574.5 L2586.7 1575.7 L2589.9 1575.9 L2593.2 1574.6 L2596.5 1572.0 L2599.7 1568.4 L2602.9 1564.2 L2606.1 1560.1 L2609.5 1556.3 L2613.3 1552.5 L2617.3 1548.5 L2621.4 1544.4 L2625.4 1540.4 L2629.3 1536.5 L2633.0 1532.8 L2635.8 1530.0 L2638.4 1527.4 L2641.0 1524.8 L2643.5 1522.2 L2646.1 1519.7 L2648.7 1517.1" stroke="#474747" stroke-width="2.4" fill="none" stroke-linejoin="round" clip-path="url(#cE)"/>
<path d="M1559.4 1658.2 L1560.7 1670.1 L1562.1 1683.7 L1563.4 1697.4 L1564.8 1709.3 L1566.0 1717.7 L1567.3 1720.9 L1568.7 1712.1 L1570.1 1690.4 L1571.3 1662.1 L1572.5 1633.8 L1573.7 1612.1 L1575.1 1603.3 L1576.3 1609.7 L1577.5 1625.7 L1578.7 1646.4 L1580.0 1667.1 L1581.4 1683.1 L1582.9 1689.5 L1584.4 1684.9 L1585.9 1673.3 L1587.5 1658.2 L1589.1 1643.1 L1590.8 1631.5 L1592.3 1626.8 L1594.1 1633.3 L1595.9 1649.2 L1597.7 1670.0 L1599.4 1690.7 L1601.0 1706.7 L1602.5 1713.0 L1603.9 1707.5 L1605.1 1693.0 L1606.2 1672.8 L1607.4 1650.3 L1608.7 1628.7 L1610.4 1611.2 L1611.8 1599.8 L1613.5 1587.5 L1615.3 1575.8 L1617.1 1565.8 L1618.9 1558.9 L1620.5 1556.3 L1621.9 1558.1 L1623.3 1562.9 L1624.6 1569.8 L1626.0 1578.1 L1627.2 1587.0 L1628.4 1595.5 L1630.0 1612.0 L1631.4 1633.4 L1632.6 1656.2 L1633.8 1676.7 L1634.9 1691.6 L1636.2 1697.4 L1637.8 1690.8 L1639.4 1673.7 L1641.0 1649.5 L1642.6 1622.1 L1644.2 1595.0 L1645.6 1572.0 L1646.8 1552.1 L1647.8 1529.7 L1648.8 1507.7 L1649.8 1488.6 L1650.8 1475.2 L1651.9 1470.1 L1652.7 1472.7 L1653.6 1479.7 L1654.4 1489.7 L1655.3 1501.5 L1656.3 1513.7 L1657.4 1525.0 L1659.1 1541.9 L1661.1 1562.8 L1663.2 1584.5 L1665.3 1603.8 L1667.3 1617.6 L1669.1 1622.9 L1670.7 1617.4 L1672.1 1602.8 L1673.4 1582.4 L1674.6 1559.2 L1675.8 1536.4 L1677.0 1517.1 L1677.8 1502.2 L1678.4 1486.8 L1679.0 1471.7 L1679.7 1457.6 L1680.8 1445.1 L1682.4 1434.9 L1683.6 1430.8 L1684.9 1427.6 L1686.3 1424.7 L1687.8 1421.9 L1689.1 1418.9 L1690.3 1415.3 L1691.7 1408.9 L1692.9 1401.8 L1693.9 1394.2 L1694.8 1386.1 L1695.6 1377.4 L1696.5 1368.3 L1697.8 1351.2 L1698.9 1329.8 L1699.9 1307.2 L1701.0 1286.9 L1702.5 1272.2 L1704.4 1266.4 L1705.6 1267.3 L1706.9 1270.2 L1708.3 1274.3 L1709.7 1279.4 L1711.0 1284.7 L1712.2 1289.9 L1713.9 1298.4 L1715.3 1308.0 L1716.6 1318.5 L1717.8 1329.6 L1718.9 1341.0 L1720.1 1352.6 L1721.4 1367.8 L1722.5 1384.6 L1723.6 1402.0 L1724.7 1418.8 L1726.1 1434.0 L1727.9 1446.6 L1729.1 1452.8 L1730.4 1459.1 L1731.8 1464.9 L1733.1 1469.7 L1734.5 1472.9 L1735.7 1474.0 L1737.2 1470.5 L1738.5 1461.8 L1739.8 1450.5 L1741.1 1439.2 L1742.3 1430.5 L1743.6 1427.0 L1744.5 1428.7 L1745.4 1433.1 L1746.4 1438.8 L1747.3 1444.5 L1748.2 1448.8 L1749.1 1450.5 L1750.2 1447.0 L1751.2 1438.3 L1752.2 1427.0 L1753.2 1415.7 L1754.2 1407.0 L1755.3 1403.5 L1756.5 1406.7 L1757.8 1414.7 L1759.1 1425.1 L1760.5 1435.4 L1761.8 1443.4 L1763.2 1446.6 L1764.5 1444.3 L1765.8 1438.1 L1767.1 1429.3 L1768.5 1419.1 L1769.7 1408.8 L1771.0 1399.6 L1772.3 1388.8 L1773.6 1376.2 L1774.8 1363.3 L1776.1 1352.0 L1777.4 1343.9 L1778.8 1340.8 L1780.1 1343.4 L1781.4 1349.9 L1782.7 1358.4 L1784.1 1367.0 L1785.4 1373.5 L1786.7 1376.1 L1787.8 1372.7 L1788.6 1364.1 L1789.3 1352.6 L1790.3 1340.8 L1791.9 1330.8 L1794.5 1325.2 L1796.2 1324.4 L1798.2 1324.6 L1800.3 1325.2 L1802.4 1325.7 L1804.5 1325.9 L1806.3 1325.2 L1809.3 1319.1 L1811.5 1308.5 L1813.2 1295.7 L1814.7 1283.4 L1816.2 1274.1 L1818.0 1270.3 L1819.2 1271.5 L1820.2 1274.8 L1821.2 1279.2 L1822.4 1283.8 L1823.9 1287.6 L1825.8 1289.9 L1828.0 1290.5 L1830.6 1290.4 L1833.3 1289.8 L1836.2 1288.8 L1839.0 1287.5 L1841.5 1286.0 L1844.4 1283.4 L1847.0 1279.8 L1849.5 1275.7 L1852.0 1271.8 L1854.5 1268.5 L1857.2 1266.4 L1859.1 1265.6 L1861.2 1265.1 L1863.2 1264.8 L1865.3 1265.0 L1867.2 1265.5 L1868.9 1266.4 L1871.3 1269.8 L1873.1 1275.3 L1874.6 1281.9 L1876.2 1288.6 L1878.1 1294.2 L1880.7 1297.7 L1883.0 1298.5 L1885.6 1298.4 L1888.4 1297.8 L1891.2 1297.1 L1893.9 1297.0 L1896.4 1297.7 L1899.6 1300.7 L1902.4 1305.2 L1905.0 1310.8 L1907.4 1316.9 L1909.7 1323.2 L1912.0 1329.1 L1914.6 1336.2 L1917.0 1344.6 L1919.4 1353.1 L1921.7 1360.7 L1923.9 1366.1 L1926.2 1368.3 L1927.8 1367.5 L1929.3 1365.2 L1930.9 1361.9 L1932.4 1357.8 L1934.0 1353.3 L1935.6 1348.7 L1938.7 1336.5 L1941.8 1319.7 L1945.0 1301.3 L1948.3 1284.3 L1951.6 1271.6 L1955.1 1266.4 L1957.0 1267.5 L1958.7 1270.7 L1960.5 1275.2 L1962.4 1279.8 L1964.5 1283.7 L1966.9 1286.0 L1969.2 1286.2 L1971.8 1285.5 L1974.5 1284.2 L1977.3 1282.9 L1980.0 1282.0 L1982.6 1282.1 L1985.4 1283.2 L1988.2 1285.0 L1990.9 1287.5 L1993.5 1290.5 L1996.0 1293.9 L1998.2 1297.7 L2001.6 1307.5 L2004.0 1320.9 L2005.9 1335.9 L2007.9 1350.2 L2010.4 1361.7 L2013.9 1368.3 L2015.7 1369.4 L2017.7 1370.1 L2019.8 1370.3 L2021.9 1370.1 L2023.9 1369.4 L2025.7 1368.3 L2029.4 1360.7 L2032.5 1346.9 L2035.0 1330.4 L2037.1 1314.5 L2039.2 1302.4 L2041.3 1297.7 L2043.6 1301.4 L2045.7 1310.8 L2047.7 1324.2 L2049.6 1339.5 L2051.4 1354.9 L2053.1 1368.3 L2054.5 1381.6 L2055.7 1396.9 L2056.8 1412.2 L2057.9 1425.6 L2059.3 1435.1 L2060.9 1438.8 L2062.6 1436.5 L2064.5 1430.2 L2066.5 1421.3 L2068.6 1411.1 L2070.7 1400.8 L2072.7 1391.8 L2074.7 1382.2 L2076.7 1371.1 L2078.7 1360.0 L2080.6 1350.3 L2082.6 1343.4 L2084.4 1340.8 L2086.5 1344.2 L2088.4 1353.1 L2090.2 1365.7 L2092.1 1380.2 L2094.1 1394.7 L2096.2 1407.4 L2098.3 1420.4 L2100.2 1434.9 L2102.1 1449.5 L2104.5 1462.6 L2107.7 1472.6 L2111.9 1478.0 L2114.7 1478.7 L2118.0 1478.4 L2121.4 1477.2 L2125.0 1475.3 L2128.3 1472.9 L2131.5 1470.1 L2136.2 1464.0 L2140.5 1455.8 L2144.4 1446.0 L2148.1 1435.6 L2151.6 1425.1 L2155.0 1415.3 L2158.0 1406.1 L2160.8 1396.6 L2163.3 1387.1 L2165.8 1377.8 L2168.2 1368.9 L2170.6 1360.4 L2172.5 1353.4 L2174.2 1345.9 L2175.9 1338.6 L2177.7 1332.2 L2179.8 1327.5 L2182.4 1325.2 L2184.7 1325.6 L2187.3 1327.6 L2190.0 1330.5 L2192.8 1333.5 L2195.5 1335.9 L2198.1 1336.9 L2200.1 1336.3 L2202.2 1334.7 L2204.2 1332.6 L2206.1 1330.6 L2208.0 1329.2 L2209.8 1329.1 L2212.9 1332.2 L2215.5 1338.6 L2217.9 1347.3 L2220.2 1357.1 L2222.7 1367.0 L2225.5 1376.1 L2229.0 1386.7 L2232.7 1399.0 L2236.5 1411.5 L2240.5 1422.7 L2244.7 1430.9 L2249.0 1434.9 L2251.5 1434.7 L2254.2 1433.2 L2256.8 1430.8 L2259.5 1428.0 L2262.2 1425.3 L2264.7 1423.1 L2266.7 1421.5 L2268.7 1419.8 L2270.6 1418.1 L2272.6 1416.6 L2274.5 1415.6 L2276.4 1415.3 L2278.4 1415.5 L2280.4 1416.3 L2282.5 1417.5 L2284.4 1419.0 L2286.4 1420.9 L2288.2 1423.1 L2291.2 1428.7 L2293.9 1436.2 L2296.3 1444.9 L2298.6 1453.9 L2301.1 1462.6 L2303.9 1470.1 L2306.3 1475.9 L2308.9 1482.1 L2311.6 1488.0 L2314.3 1493.0 L2317.0 1496.4 L2319.5 1497.5 L2323.0 1494.6 L2326.4 1487.2 L2329.8 1476.7 L2333.0 1464.3 L2336.2 1451.2 L2339.1 1438.8 L2342.8 1420.0 L2346.1 1398.1 L2349.0 1374.8 L2351.9 1352.3 L2355.1 1332.5 L2358.7 1317.3 L2360.6 1311.6 L2362.5 1306.1 L2364.5 1301.2 L2366.5 1297.2 L2368.5 1294.6 L2370.5 1293.8 L2373.8 1297.7 L2377.2 1307.5 L2380.6 1321.4 L2383.9 1337.4 L2387.1 1353.6 L2390.1 1368.3 L2393.1 1383.5 L2395.8 1399.5 L2398.4 1415.9 L2400.8 1432.2 L2403.2 1447.8 L2405.7 1462.3 L2407.6 1473.1 L2409.4 1483.5 L2411.1 1493.6 L2412.9 1503.2 L2415.0 1512.4 L2417.5 1521.1 L2419.6 1528.0 L2421.8 1535.1 L2424.1 1541.9 L2426.7 1548.0 L2429.7 1553.0 L2433.2 1556.3 L2436.1 1557.3 L2439.4 1557.2 L2442.9 1556.4 L2446.4 1555.7 L2449.8 1555.5 L2452.7 1556.3 L2455.9 1559.3 L2458.6 1563.7 L2460.9 1569.0 L2463.2 1574.5 L2465.7 1579.6 L2468.4 1583.7 L2470.9 1586.5 L2473.4 1589.2 L2476.1 1591.6 L2478.8 1593.6 L2481.4 1595.0 L2484.1 1595.5 L2486.6 1594.8 L2489.1 1592.9 L2491.6 1590.4 L2494.1 1587.7 L2496.8 1585.3 L2499.8 1583.7 L2503.3 1583.1 L2507.2 1583.3 L2511.2 1583.8 L2515.3 1584.3 L2519.4 1584.4 L2523.3 1583.7 L2527.3 1582.0 L2531.3 1579.6 L2535.1 1576.7 L2539.0 1573.6 L2542.8 1570.7 L2546.8 1568.1 L2550.6 1565.9 L2554.4 1564.0 L2558.3 1562.1 L2562.2 1560.2 L2566.2 1558.3 L2570.3 1556.3 L2575.3 1553.5 L2580.5 1550.0 L2585.8 1546.6 L2591.2 1543.5 L2596.5 1541.4 L2601.6 1540.6 L2606.4 1541.9 L2611.1 1544.7 L2615.7 1548.4 L2620.3 1552.1 L2624.7 1555.0 L2629.1 1556.3 L2632.5 1556.1 L2635.8 1555.1 L2639.0 1553.6 L2642.2 1551.8 L2645.4 1550.0 L2648.7 1548.5" stroke="#E5313A" stroke-width="2.4" fill="none" stroke-linejoin="round" clip-path="url(#cE)"/>
<path d="M2916.5 2034.8 L2920.4 2034.1 L2924.2 2034.6 L2927.5 2035.4 L2929.1 2036.5 L2930.6 2036.1 L2931.8 2037.8 L2932.9 2034.2 L2933.9 2030.1 L2934.3 2026.4 L2934.7 2022.3 L2935.2 2018.0 L2936.2 2013.2 L2937.3 2009.0 L2938.7 2008.8 L2940.2 2010.6 L2941.7 2011.3 L2943.5 2017.2 L2944.1 2022.2 L2944.7 2027.0 L2945.9 2032.1 L2947.1 2034.9 L2950.3 2038.3 L2954.1 2039.1 L2958.0 2040.9 L2962.3 2040.2 L2966.7 2042.0 L2971.1 2041.7 L2975.5 2041.6 L2979.9 2043.4 L2984.2 2043.0 L2988.6 2044.4 L2993.0 2044.6 L2997.3 2046.2 L3001.8 2046.7 L3006.3 2045.1 L3010.4 2045.4 L3013.5 2043.6 L3016.4 2042.6 L3019.2 2042.3 L3022.2 2044.7 L3025.3 2045.9 L3027.9 2048.2 L3029.4 2047.0 L3030.7 2045.4 L3032.3 2043.1 L3034.9 2042.8 L3038.0 2043.4 L3041.0 2041.7 L3044.0 2040.4 L3046.8 2039.3 L3049.7 2037.3 L3052.8 2035.9 L3055.8 2035.6 L3058.5 2033.0 L3060.7 2027.7 L3061.5 2023.1 L3062.3 2019.6 L3063.9 2016.1 L3065.7 2019.5 L3067.5 2023.9 L3069.4 2025.8 L3071.5 2022.2 L3073.6 2017.0 L3075.9 2014.9 L3078.8 2017.8 L3080.3 2021.2 L3081.8 2024.9 L3084.7 2027.8 L3087.0 2024.1 L3089.1 2017.1 L3091.2 2013.3 L3093.4 2017.5 L3095.5 2024.2 L3097.8 2027.9 L3099.2 2029.4 L3100.7 2031.7 L3102.1 2033.7 L3104.4 2039.1 L3105.4 2042.7 L3106.5 2046.6 L3108.7 2048.8 L3110.8 2047.0 L3113.0 2040.6 L3115.2 2034.0 L3117.4 2031.5 L3119.6 2026.7 L3121.8 2022.3 L3123.9 2018.4 L3126.0 2013.5 L3128.3 2009.2 L3130.1 2008.6 L3132.0 2007.1 L3133.8 2008.1 L3135.8 2008.8 L3137.5 2012.9 L3139.2 2017.9 L3140.5 2021.1 L3141.7 2026.7 L3142.9 2029.9 L3144.1 2036.5 L3146.9 2040.8 L3149.7 2036.6 L3151.2 2034.8 L3152.8 2031.2 L3155.6 2028.0 L3158.1 2033.4 L3159.2 2037.0 L3160.3 2042.5 L3163.3 2050.1 L3165.9 2047.5 L3168.9 2046.4 L3172.0 2044.1 L3175.5 2046.2 L3179.2 2046.7 L3182.9 2049.0 L3186.6 2050.1 L3190.2 2053.1 L3193.8 2054.3 L3197.4 2055.3 L3201.1 2056.6 L3204.7 2058.1 L3208.4 2061.2 L3212.0 2063.0 L3215.7 2063.4 L3219.3 2064.5 L3222.9 2062.6 L3226.6 2063.1 L3230.1 2063.8 L3233.7 2064.8 L3237.5 2066.2 L3243.2 2064.7 L3249.4 2064.5 L3255.0 2064.6 L3258.0 2066.4 L3260.6 2067.6 L3263.7 2068.9 L3269.0 2068.9 L3275.0 2067.9 L3281.2 2067.9 L3284.7 2067.6 L3288.3 2068.7 L3292.1 2068.8 L3295.8 2069.7 L3299.4 2069.6 L3303.0 2070.8 L3309.1 2071.6 L3314.9 2072.4 L3320.4 2073.6 L3325.0 2072.0 L3329.3 2069.3 L3333.5 2068.4 L3337.9 2069.4 L3342.3 2072.4 L3346.6 2072.3 L3351.0 2072.0 L3355.3 2070.9 L3359.7 2069.7 L3365.4 2074.3 L3368.2 2076.0 L3371.1 2078.7 L3374.2 2081.1 L3377.2 2083.3 L3380.8 2081.6 L3384.4 2080.5 L3388.2 2079.5 L3392.0 2076.6 L3395.5 2074.0 L3399.0 2073.8 L3403.6 2073.8 L3407.8 2074.8 L3412.1 2075.6 L3417.3 2076.2 L3422.5 2079.7 L3427.4 2081.0 L3431.0 2080.2 L3434.5 2080.8 L3438.3 2079.5 L3441.9 2080.1 L3445.4 2081.8 L3449.4 2080.9 L3453.3 2081.6 L3460.2 2083.3 L3463.7 2082.1 L3466.8 2080.7 L3470.0 2078.5 L3473.7 2077.5 L3477.6 2078.4 L3481.8 2078.6 L3488.6 2079.0 L3492.4 2079.2 L3496.1 2079.5 L3499.9 2079.6 L3503.7 2079.7 L3507.3 2079.6 L3510.9 2079.6 L3514.6 2079.4 L3518.2 2079.2 L3521.9 2078.9 L3525.5 2078.6 L3529.1 2078.2 L3532.8 2077.8 L3536.4 2077.3 L3540.1 2076.8 L3543.7 2076.6 L3547.3 2076.5 L3551.0 2076.8 L3554.6 2077.2 L3558.2 2077.9 L3561.9 2078.6 L3565.5 2079.2 L3569.2 2079.7 L3572.8 2080.0 L3576.4 2080.3 L3580.1 2080.5 L3583.7 2080.7 L3587.4 2080.8 L3591.0 2080.8 L3594.6 2080.7 L3598.3 2080.5 L3601.9 2080.3 L3605.5 2080.0 L3609.2 2079.9 L3612.8 2079.7 L3616.5 2079.9 L3620.1 2080.2 L3623.8 2080.5 L3627.4 2080.8 L3631.0 2080.8 L3634.7 2080.8 L3638.4 2080.1 L3642.2 2079.4 L3645.9 2078.4 L3649.6 2077.3 L3653.1 2076.3 L3656.5 2075.4 L3660.9 2073.9 L3665.0 2072.5 L3669.6 2072.1 L3673.6 2073.5 L3677.7 2074.9 L3682.2 2077.2 L3686.7 2079.5 L3691.3 2080.7 L3695.8 2081.9 L3700.2 2080.6 L3704.6 2079.2 L3709.0 2076.7 L3713.4 2074.2 L3717.7 2072.6 L3722.0 2071.0 L3725.7 2071.3 L3729.4 2071.6 L3733.0 2072.6 L3736.6 2073.6 L3740.2 2074.5 L3743.8 2075.4 L3747.5 2075.8 L3751.1 2076.2 L3754.7 2076.6 L3758.4 2076.9 L3762.0 2077.2 L3765.7 2077.5 L3769.3 2077.9 L3772.9 2078.2 L3776.6 2078.5 L3780.2 2078.8 L3783.9 2079.3 L3787.5 2079.7 L3791.1 2080.5 L3794.8 2081.3 L3798.4 2082.2 L3802.0 2083.0 L3805.7 2083.6 L3809.3 2084.1 L3812.9 2084.0 L3816.6 2083.8 L3820.2 2083.3 L3823.9 2082.8 L3827.5 2082.4 L3831.2 2081.9 L3834.7 2081.8 L3838.3 2081.7 L3841.8 2081.7 L3845.4 2081.6 L3849.2 2081.2 L3853.0 2080.8 L3856.8 2079.5 L3860.6 2078.3 L3864.5 2077.0 L3868.6 2075.3 L3872.7 2073.6 L3876.8 2072.0 L3880.5 2071.3 L3884.2 2070.6 L3887.9 2069.9 L3891.5 2071.1 L3895.1 2072.4 L3898.4 2074.5 L3901.6 2076.6 L3907.6 2079.7 L3911.3 2080.6 L3914.8 2081.0 L3918.5 2080.8 L3924.1 2078.8 L3930.1 2075.7 L3935.9 2074.3 L3941.1 2075.9 L3946.1 2079.1 L3951.2 2081.9 L3956.2 2083.9 L3961.2 2085.5 L3966.5 2086.3 L3970.1 2085.4 L3973.6 2084.6 L3977.4 2083.1 L3981.1 2081.7 L3984.7 2081.2 L3988.3 2080.8 L3991.7 2082.4 L3995.1 2084.1 L3998.3 2086.8 L4001.6 2089.5 L4004.8 2092.3 L4008.0 2095.0" stroke="#474747" stroke-width="2.4" fill="none" stroke-linejoin="round" clip-path="url(#cF)"/>
<path d="M2916.5 2028.9 L2920.4 2028.6 L2924.3 2028.4 L2927.5 2029.0 L2929.3 2031.2 L2930.6 2035.5 L2931.8 2036.1 L2932.8 2032.1 L2933.7 2027.3 L2934.0 2023.8 L2934.3 2019.3 L2934.7 2014.1 L2935.0 2011.6 L2936.1 2005.8 L2937.3 2000.8 L2938.7 2000.7 L2940.2 2002.8 L2941.7 2003.1 L2942.6 2008.3 L2943.5 2012.3 L2943.8 2014.7 L2944.2 2018.1 L2944.5 2022.4 L2945.8 2027.7 L2947.1 2031.0 L2950.3 2033.9 L2954.1 2035.9 L2958.0 2035.1 L2962.3 2036.1 L2966.7 2035.4 L2971.1 2035.4 L2975.5 2037.4 L2979.8 2039.6 L2984.2 2041.6 L2988.6 2042.4 L2992.9 2042.9 L2997.3 2043.3 L3001.8 2041.9 L3006.3 2041.9 L3010.4 2041.4 L3013.5 2040.1 L3016.4 2041.3 L3019.2 2040.1 L3022.3 2042.5 L3025.3 2044.0 L3027.9 2045.2 L3029.4 2045.2 L3030.7 2043.3 L3032.3 2041.1 L3034.9 2040.3 L3038.0 2038.1 L3041.0 2037.5 L3043.9 2035.6 L3046.8 2034.1 L3049.7 2032.2 L3052.8 2031.5 L3055.8 2030.5 L3058.5 2029.0 L3059.6 2025.7 L3060.8 2020.8 L3061.6 2016.5 L3062.3 2013.9 L3063.9 2008.8 L3065.6 2012.2 L3067.4 2016.9 L3069.4 2019.4 L3071.4 2016.2 L3073.6 2010.9 L3075.9 2007.9 L3078.8 2012.0 L3080.3 2016.3 L3081.8 2020.1 L3084.7 2022.8 L3087.0 2019.8 L3088.1 2014.9 L3089.1 2013.2 L3091.2 2007.9 L3093.4 2011.8 L3094.4 2016.3 L3095.5 2018.5 L3097.8 2025.5 L3099.2 2027.1 L3100.7 2028.8 L3102.1 2030.1 L3104.4 2035.6 L3105.5 2039.4 L3106.5 2044.2 L3108.7 2046.5 L3110.8 2044.4 L3113.0 2036.9 L3115.2 2030.9 L3117.4 2026.5 L3119.6 2023.8 L3121.8 2019.0 L3123.9 2014.4 L3125.9 2009.4 L3128.3 2005.0 L3130.1 2005.3 L3132.0 2004.4 L3133.8 2003.5 L3135.8 2007.4 L3137.5 2009.6 L3139.2 2014.1 L3140.5 2019.5 L3141.7 2022.4 L3142.9 2028.9 L3144.1 2034.0 L3146.9 2038.3 L3149.7 2033.9 L3151.2 2031.4 L3152.8 2027.6 L3155.6 2024.5 L3158.1 2030.6 L3158.9 2033.7 L3159.6 2036.6 L3160.3 2040.2 L3161.8 2042.9 L3163.3 2046.0 L3165.9 2045.6 L3168.9 2042.7 L3172.0 2040.6 L3175.5 2043.5 L3179.2 2044.8 L3182.9 2046.4 L3186.5 2048.5 L3190.2 2049.7 L3193.8 2052.0 L3197.5 2052.8 L3201.1 2055.4 L3204.7 2057.4 L3208.3 2058.6 L3212.0 2060.9 L3215.7 2060.4 L3219.3 2061.9 L3222.9 2060.9 L3226.6 2062.1 L3230.1 2061.0 L3233.7 2062.9 L3237.5 2063.8 L3243.2 2062.8 L3249.5 2060.6 L3255.0 2061.6 L3258.0 2061.8 L3260.6 2064.7 L3263.7 2065.7 L3268.9 2065.4 L3274.9 2064.7 L3281.2 2066.2 L3284.7 2066.5 L3288.3 2066.3 L3292.1 2066.5 L3295.8 2066.8 L3299.4 2067.8 L3303.0 2067.8 L3309.1 2070.0 L3314.9 2071.6 L3320.4 2071.0 L3325.0 2068.9 L3329.3 2066.0 L3333.5 2065.1 L3337.9 2066.3 L3342.3 2068.8 L3346.6 2070.5 L3351.0 2069.4 L3355.3 2068.6 L3359.7 2068.3 L3365.4 2071.0 L3368.3 2073.3 L3371.1 2077.4 L3377.2 2080.7 L3380.8 2078.0 L3384.4 2076.3 L3388.2 2074.7 L3392.0 2073.0 L3395.5 2071.1 L3399.0 2069.0 L3403.6 2068.9 L3407.8 2070.8 L3412.1 2071.6 L3417.3 2074.6 L3422.5 2077.1 L3427.4 2080.3 L3431.0 2078.4 L3434.5 2077.9 L3438.3 2077.5 L3441.9 2077.9 L3445.4 2079.2 L3449.4 2081.9 L3453.3 2084.4 L3456.7 2085.1 L3460.2 2086.0 L3463.9 2084.8 L3467.1 2082.7 L3470.0 2079.6 L3471.8 2077.6 L3473.3 2076.0 L3475.3 2074.5 L3480.2 2075.4 L3486.4 2076.7 L3492.7 2077.5 L3496.4 2077.2 L3500.0 2076.9 L3503.8 2076.3 L3507.5 2075.7 L3511.1 2075.5 L3514.6 2075.4 L3519.9 2076.7 L3524.8 2078.7 L3529.9 2079.7 L3535.6 2078.3 L3541.5 2075.7 L3547.3 2074.3 L3553.1 2075.1 L3558.9 2077.1 L3564.8 2078.6 L3570.6 2079.4 L3576.4 2079.9 L3582.3 2079.7 L3588.1 2078.5 L3593.9 2076.6 L3599.7 2075.4 L3605.5 2075.2 L3611.4 2075.7 L3617.2 2076.5 L3623.1 2078.0 L3629.0 2080.0 L3634.7 2080.8 L3639.9 2079.7 L3644.9 2077.6 L3649.9 2075.4 L3655.1 2072.9 L3660.2 2070.2 L3665.2 2068.8 L3669.6 2069.2 L3673.9 2070.5 L3678.3 2072.1 L3683.9 2074.5 L3689.7 2077.2 L3695.8 2078.6 L3699.3 2077.9 L3702.8 2077.3 L3706.4 2075.8 L3710.1 2074.3 L3713.8 2073.2 L3717.6 2072.1 L3721.9 2071.8 L3726.3 2071.5 L3730.7 2071.7 L3735.2 2071.9 L3739.5 2072.5 L3743.8 2073.2 L3747.6 2074.5 L3751.4 2075.9 L3755.0 2077.6 L3758.6 2079.4 L3762.1 2080.7 L3765.7 2081.9 L3771.5 2082.2 L3777.3 2081.7 L3783.1 2081.9 L3786.7 2083.3 L3790.3 2084.8 L3793.9 2086.7 L3797.6 2088.7 L3801.3 2089.7 L3805.0 2090.6 L3808.6 2089.5 L3812.2 2088.4 L3815.9 2086.3 L3819.5 2084.2 L3823.1 2083.0 L3826.8 2081.9 L3830.5 2083.1 L3834.2 2084.3 L3838.0 2086.5 L3841.7 2088.7 L3845.2 2089.7 L3848.6 2090.6 L3853.9 2088.4 L3858.7 2084.1 L3863.9 2079.7 L3867.5 2076.8 L3871.1 2073.8 L3875.0 2070.8 L3878.8 2067.7 L3882.3 2066.1 L3885.7 2064.4 L3889.6 2064.8 L3893.2 2066.3 L3896.6 2068.8 L3898.9 2071.7 L3901.1 2074.5 L3903.2 2078.2 L3905.3 2082.0 L3907.5 2085.2 L3909.7 2088.5 L3913.8 2092.7 L3918.2 2096.4 L3922.8 2098.3 L3928.4 2097.5 L3934.4 2094.7 L3940.3 2091.7 L3946.1 2089.1 L3951.9 2086.3 L3957.8 2083.0 L3961.5 2080.0 L3965.3 2076.9 L3969.1 2073.5 L3973.0 2070.1 L3976.3 2068.4 L3979.6 2066.6 L3982.8 2067.1 L3985.6 2068.7 L3988.3 2071.0 L3990.6 2073.9 L3992.9 2076.8 L3995.1 2080.6 L3997.3 2084.4 L3999.4 2087.5 L4001.4 2090.6 L4003.7 2093.2 L4005.9 2095.2 L4008.0 2097.2" stroke="#2163C6" stroke-width="2.4" fill="none" stroke-linejoin="round" clip-path="url(#cF)"/>
<path d="M2916.5 2032.4 L2920.4 2033.4 L2924.2 2033.9 L2927.5 2034.3 L2929.1 2034.8 L2930.6 2035.6 L2931.8 2036.8 L2932.9 2032.2 L2933.9 2029.2 L2934.3 2024.3 L2934.7 2019.5 L2935.2 2016.9 L2936.2 2013.5 L2937.3 2008.7 L2938.7 2008.7 L2940.2 2008.3 L2941.7 2009.3 L2943.5 2016.5 L2944.1 2021.7 L2944.7 2025.2 L2945.9 2031.0 L2947.1 2033.5 L2950.3 2035.8 L2954.1 2038.0 L2958.0 2038.9 L2962.3 2039.6 L2966.7 2039.9 L2971.1 2039.4 L2975.5 2041.3 L2979.9 2041.8 L2984.2 2041.8 L2988.6 2042.8 L2993.0 2044.7 L2997.3 2044.2 L3001.8 2045.5 L3006.3 2044.1 L3010.4 2043.8 L3013.5 2043.6 L3016.4 2042.2 L3019.2 2041.1 L3022.2 2042.8 L3025.3 2046.3 L3027.9 2047.4 L3029.4 2046.0 L3030.7 2044.1 L3032.3 2041.8 L3034.9 2041.7 L3038.0 2042.4 L3041.0 2040.8 L3044.0 2040.6 L3046.8 2038.9 L3049.7 2036.6 L3052.8 2034.7 L3055.8 2034.4 L3058.5 2032.5 L3060.7 2025.5 L3061.5 2022.6 L3062.3 2019.8 L3063.9 2015.2 L3065.7 2017.9 L3067.5 2021.7 L3069.4 2024.7 L3071.5 2023.0 L3073.6 2017.2 L3075.9 2012.7 L3078.8 2016.7 L3080.3 2019.8 L3081.8 2022.9 L3084.7 2027.2 L3087.0 2023.1 L3089.1 2015.8 L3091.2 2013.6 L3093.4 2015.1 L3095.5 2022.6 L3097.8 2026.6 L3099.2 2029.8 L3100.7 2030.5 L3102.1 2031.9 L3104.4 2037.8 L3105.4 2041.0 L3106.5 2044.3 L3108.7 2048.2 L3110.8 2044.6 L3113.0 2039.2 L3115.2 2033.1 L3117.4 2030.1 L3119.6 2026.5 L3121.8 2022.3 L3123.9 2016.5 L3126.0 2011.7 L3128.3 2008.4 L3130.1 2007.0 L3132.0 2007.0 L3133.8 2007.5 L3135.8 2009.6 L3137.5 2012.1 L3139.2 2016.9 L3140.5 2020.0 L3141.7 2025.5 L3142.9 2030.3 L3144.1 2034.7 L3146.9 2039.5 L3149.7 2035.5 L3151.2 2032.4 L3152.8 2029.4 L3155.6 2026.2 L3158.1 2032.1 L3159.2 2036.1 L3160.3 2042.7 L3163.3 2048.8 L3165.9 2048.0 L3168.9 2044.5 L3172.0 2044.7 L3175.5 2044.9 L3179.2 2045.4 L3182.9 2047.9 L3186.6 2049.8 L3190.2 2051.9 L3193.8 2053.0 L3197.4 2055.1 L3201.1 2056.0 L3204.7 2057.4 L3208.4 2060.3 L3212.0 2060.5 L3215.7 2062.1 L3219.3 2062.9 L3222.9 2062.9 L3226.6 2062.0 L3230.1 2063.7 L3233.7 2063.8 L3237.5 2065.1 L3243.2 2064.9 L3249.4 2064.1 L3255.0 2065.2 L3258.0 2065.3 L3260.6 2067.1 L3263.7 2066.8 L3269.0 2067.6 L3275.0 2066.9 L3281.2 2067.4 L3284.7 2066.0 L3288.3 2067.8 L3292.1 2067.6 L3295.8 2067.2 L3299.4 2069.0 L3303.0 2068.9 L3309.1 2070.9 L3314.9 2071.1 L3320.4 2072.9 L3325.0 2071.3 L3329.3 2069.5 L3333.5 2068.4 L3337.9 2068.5 L3342.3 2070.2 L3346.6 2071.2 L3351.0 2070.8 L3355.3 2068.5 L3359.7 2068.3 L3365.4 2071.8 L3368.2 2075.1 L3371.1 2077.9 L3374.2 2080.9 L3377.2 2082.8 L3380.8 2079.9 L3384.4 2080.0 L3388.2 2077.9 L3392.0 2074.5 L3395.5 2073.8 L3399.0 2072.5 L3403.6 2071.3 L3407.8 2074.0 L3412.1 2074.8 L3417.3 2075.9 L3422.5 2077.8 L3427.4 2079.1 L3431.0 2080.6 L3434.5 2078.8 L3438.3 2078.5 L3441.9 2078.9 L3445.4 2079.0 L3449.4 2080.2 L3453.3 2081.6 L3460.2 2081.7 L3463.9 2080.6 L3467.1 2079.0 L3470.0 2076.9 L3471.8 2075.8 L3473.3 2075.8 L3475.3 2074.6 L3480.3 2076.0 L3486.4 2077.6 L3492.7 2078.6 L3496.4 2078.3 L3500.0 2078.0 L3503.8 2077.3 L3507.5 2076.6 L3511.1 2076.5 L3514.6 2076.5 L3519.9 2078.6 L3524.9 2081.6 L3529.9 2083.0 L3535.6 2080.4 L3538.5 2078.1 L3541.4 2075.9 L3547.3 2073.2 L3553.1 2074.3 L3558.9 2077.2 L3564.8 2079.7 L3570.6 2081.4 L3576.4 2082.7 L3582.3 2083.0 L3588.1 2081.7 L3593.9 2079.4 L3599.7 2077.5 L3605.5 2076.6 L3611.4 2076.2 L3617.2 2076.5 L3623.0 2078.1 L3628.8 2080.4 L3634.7 2081.9 L3640.5 2081.9 L3646.3 2081.0 L3652.1 2079.7 L3658.0 2077.5 L3663.8 2074.8 L3669.6 2073.2 L3675.5 2073.6 L3681.4 2075.1 L3687.1 2076.5 L3691.5 2077.5 L3695.6 2078.4 L3700.2 2078.6 L3703.5 2077.7 L3706.9 2076.7 L3710.6 2075.1 L3714.3 2073.5 L3718.1 2072.3 L3722.0 2071.0 L3726.5 2070.5 L3731.0 2069.9 L3735.8 2069.8 L3740.6 2069.7 L3745.5 2069.8 L3750.4 2069.9 L3754.1 2070.0 L3757.8 2070.1 L3761.5 2070.3 L3765.4 2070.6 L3769.2 2070.8 L3773.0 2071.1 L3778.0 2072.2 L3783.1 2073.2 L3786.2 2074.8 L3789.3 2076.4 L3794.8 2080.4 L3800.6 2083.0 L3804.1 2082.9 L3807.6 2082.8 L3811.3 2081.9 L3815.0 2081.0 L3818.7 2080.4 L3822.4 2079.7 L3826.1 2079.9 L3829.8 2080.1 L3833.4 2080.5 L3837.1 2081.0 L3840.7 2080.9 L3844.2 2080.8 L3850.8 2078.8 L3854.0 2077.3 L3857.2 2075.8 L3860.6 2074.5 L3863.9 2073.2 L3867.9 2072.0 L3872.0 2070.8 L3876.2 2069.8 L3880.4 2068.9 L3884.2 2068.8 L3887.9 2068.8 L3892.7 2070.7 L3897.0 2073.9 L3901.0 2077.5 L3905.5 2082.6 L3907.7 2085.5 L3909.9 2088.3 L3914.1 2092.8 L3916.9 2095.0 L3919.7 2096.6 L3922.8 2097.2 L3928.2 2094.8 L3931.1 2092.5 L3934.1 2090.2 L3937.2 2088.2 L3940.3 2086.3 L3946.7 2084.4 L3953.3 2083.2 L3960.0 2081.9 L3963.3 2080.8 L3966.7 2079.7 L3970.0 2078.5 L3973.4 2077.3 L3979.6 2076.5 L3984.2 2077.3 L3988.6 2079.2 L3992.7 2081.9 L3995.3 2084.7 L3998.0 2087.4 L4000.5 2090.9 L4003.0 2094.5 L4005.5 2098.0 L4008.0 2101.6" stroke="#35A464" stroke-width="2.4" fill="none" stroke-linejoin="round" clip-path="url(#cF)"/>
<path d="M2916.5 2001.8 L2918.7 2002.1 L2920.8 2003.8 L2923.1 2003.7 L2926.1 2003.8 L2929.2 2005.6 L2931.8 2005.2 L2933.2 2000.9 L2934.5 1995.8 L2934.9 1992.0 L2935.3 1987.4 L2935.7 1982.4 L2936.5 1977.6 L2937.3 1975.0 L2938.4 1975.1 L2939.5 1976.6 L2940.6 1977.3 L2941.3 1979.1 L2942.0 1978.8 L2942.7 1981.0 L2944.2 1986.1 L2944.9 1992.4 L2945.7 1995.2 L2946.9 2000.2 L2948.2 2003.0 L2951.1 2006.9 L2954.6 2008.2 L2958.0 2009.0 L2960.9 2008.6 L2963.8 2009.3 L2966.8 2008.9 L2969.6 2010.4 L2972.5 2010.2 L2975.5 2010.5 L2979.1 2010.7 L2982.7 2012.8 L2986.4 2014.3 L2990.0 2015.6 L2993.7 2016.2 L2997.3 2016.1 L3001.0 2017.2 L3004.6 2017.1 L3008.2 2016.9 L3012.0 2014.5 L3015.6 2014.1 L3019.2 2013.7 L3022.3 2013.6 L3025.3 2016.2 L3027.9 2016.0 L3029.5 2014.8 L3030.7 2012.8 L3032.3 2011.7 L3034.9 2010.4 L3038.0 2012.4 L3041.0 2012.4 L3044.0 2009.6 L3046.8 2008.2 L3049.7 2005.7 L3052.8 2004.3 L3055.9 2004.0 L3058.5 2002.5 L3060.6 1995.7 L3061.1 1990.9 L3061.6 1986.0 L3062.8 1983.2 L3064.1 1984.6 L3065.5 1989.4 L3067.2 1992.5 L3069.8 1989.5 L3071.4 1985.6 L3072.9 1981.5 L3075.9 1977.2 L3078.9 1980.9 L3080.4 1985.5 L3081.8 1989.5 L3084.7 1992.3 L3086.5 1991.2 L3088.3 1988.4 L3090.1 1985.2 L3092.6 1988.7 L3095.2 1995.2 L3097.8 1999.8 L3099.2 2000.3 L3100.7 2000.1 L3102.1 2000.8 L3104.5 2004.3 L3105.5 2008.7 L3106.6 2012.6 L3108.7 2014.5 L3110.9 2011.8 L3111.9 2009.8 L3113.0 2005.5 L3115.2 1999.3 L3117.2 1994.0 L3119.3 1987.3 L3121.8 1983.5 L3123.9 1982.5 L3126.2 1982.2 L3128.3 1981.6 L3130.4 1978.7 L3132.1 1973.6 L3133.8 1972.6 L3135.7 1975.1 L3137.5 1979.5 L3139.2 1986.7 L3140.3 1990.1 L3141.3 1992.4 L3142.3 1996.3 L3143.3 1999.9 L3145.8 2004.3 L3147.2 2005.2 L3148.7 2004.5 L3150.2 2002.4 L3152.2 2000.2 L3154.0 1995.0 L3155.6 1992.2 L3157.2 1995.9 L3157.8 2001.6 L3158.5 2006.3 L3159.8 2009.0 L3161.1 2012.1 L3164.3 2013.8 L3168.2 2014.4 L3172.0 2014.4 L3175.7 2015.3 L3179.3 2017.6 L3182.9 2018.0 L3186.6 2019.5 L3190.2 2022.6 L3193.8 2024.3 L3197.4 2025.4 L3201.1 2027.3 L3204.7 2030.4 L3208.3 2031.6 L3211.9 2030.9 L3215.7 2032.3 L3219.8 2034.1 L3224.1 2035.5 L3228.8 2035.2 L3235.2 2036.2 L3242.1 2036.7 L3248.4 2036.1 L3252.1 2037.3 L3255.5 2037.3 L3259.3 2038.5 L3266.0 2040.2 L3269.8 2040.0 L3273.6 2042.4 L3277.4 2042.5 L3281.2 2042.0 L3284.8 2042.9 L3288.5 2042.6 L3292.2 2041.3 L3295.9 2042.7 L3299.4 2041.6 L3303.0 2042.3 L3309.2 2041.9 L3315.2 2043.6 L3320.4 2043.5 L3323.5 2042.5 L3326.1 2041.0 L3329.2 2040.3 L3334.7 2040.1 L3340.9 2040.6 L3346.6 2041.7 L3350.5 2042.3 L3354.1 2043.8 L3357.6 2045.6 L3361.3 2046.9 L3364.9 2047.7 L3368.5 2051.2 L3371.4 2052.0 L3374.3 2052.8 L3377.2 2053.0 L3380.8 2051.2 L3384.3 2047.0 L3388.1 2043.5 L3392.3 2043.3 L3396.8 2045.5 L3401.2 2046.6 L3404.9 2047.7 L3408.6 2047.5 L3412.1 2047.9 L3415.8 2049.0 L3419.4 2050.0 L3423.1 2051.5 L3426.7 2051.8 L3430.3 2049.6 L3434.0 2050.1 L3437.5 2051.0 L3441.1 2051.3 L3444.9 2051.4 L3449.9 2053.1 L3455.2 2053.0 L3460.2 2054.3 L3463.6 2052.5 L3466.7 2053.1 L3470.0 2052.1 L3473.8 2050.3 L3477.7 2049.4 L3481.8 2049.2 L3486.8 2050.1 L3492.1 2051.7 L3497.1 2052.4 L3501.5 2051.2 L3505.7 2049.1 L3510.2 2048.1 L3516.6 2049.7 L3520.0 2051.2 L3523.4 2052.7 L3529.9 2054.6 L3534.3 2054.3 L3538.4 2053.2 L3543.0 2052.4 L3549.9 2052.4 L3553.7 2052.7 L3557.5 2052.9 L3561.1 2053.2 L3564.8 2053.5 L3570.8 2054.4 L3576.5 2055.3 L3582.3 2055.7 L3588.1 2055.0 L3593.9 2053.7 L3599.7 2052.4 L3605.6 2051.3 L3611.4 2050.3 L3617.2 2050.3 L3623.0 2052.2 L3628.8 2055.2 L3634.7 2056.8 L3640.4 2055.8 L3646.1 2053.4 L3652.1 2051.3 L3655.7 2050.5 L3659.3 2049.7 L3663.1 2049.0 L3666.9 2048.4 L3670.4 2048.2 L3674.0 2048.1 L3679.4 2049.1 L3684.4 2050.9 L3689.2 2052.4 L3692.9 2053.4 L3696.4 2054.3 L3700.2 2054.6 L3705.7 2053.5 L3711.7 2051.5 L3717.6 2050.3 L3722.7 2050.8 L3727.7 2052.1 L3732.9 2052.4 L3739.5 2050.2 L3742.9 2048.5 L3746.2 2046.8 L3752.6 2045.2 L3757.3 2046.4 L3761.6 2048.8 L3765.7 2051.3 L3768.6 2053.7 L3771.2 2056.3 L3774.4 2057.9 L3779.7 2057.5 L3785.8 2055.7 L3791.9 2054.6 L3797.7 2055.6 L3803.6 2057.4 L3809.3 2058.3 L3814.4 2057.5 L3819.4 2055.9 L3824.6 2055.3 L3831.0 2057.2 L3834.3 2058.8 L3837.6 2060.3 L3844.2 2061.8 L3847.6 2060.9 L3851.0 2060.0 L3854.4 2058.3 L3857.8 2056.5 L3863.9 2053.5 L3867.7 2052.3 L3871.1 2051.3 L3874.8 2050.3 L3879.8 2048.5 L3885.1 2046.6 L3890.1 2045.9 L3893.9 2046.6 L3897.5 2048.2 L3901.0 2050.3 L3905.4 2054.0 L3909.7 2058.5 L3914.1 2062.3 L3917.7 2064.4 L3921.3 2066.0 L3925.0 2066.6 L3929.9 2065.4 L3935.1 2062.8 L3940.3 2060.1 L3946.1 2057.4 L3952.0 2054.6 L3957.8 2052.4 L3963.0 2051.2 L3968.2 2050.4 L3973.1 2050.3 L3976.9 2050.5 L3980.5 2051.2 L3984.0 2052.4 L3987.7 2054.7 L3991.3 2057.7 L3994.9 2061.2 L3999.3 2066.2 L4001.5 2069.0 L4003.6 2071.9 L4005.8 2074.7 L4008.0 2077.5" stroke="#E5313A" stroke-width="2.4" fill="none" stroke-linejoin="round" clip-path="url(#cF)"/>
<rect x="190.7" y="66.0" width="1091.3" height="879.0" stroke="#000" stroke-width="4.4" fill="none"/>
<rect x="1540.0" y="65.0" width="1105.8000000000002" height="874.0" stroke="#000" stroke-width="4.4" fill="none"/>
<rect x="2916.0" y="67.0" width="1090.3000000000002" height="866.0" stroke="#000" stroke-width="4.4" fill="none"/>
<rect x="222.8" y="1237.2" width="1086.8" height="878.6000000000001" stroke="#000" stroke-width="4.4" fill="none"/>
<rect x="1559.0" y="1238.0" width="1090.4" height="878.8000000000002" stroke="#000" stroke-width="4.4" fill="none"/>
<rect x="2917.4" y="1236.1" width="1091.1" height="878.3000000000002" stroke="#000" stroke-width="4.4" fill="none"/>
<text x="7.1" y="62" font-size="78" font-weight="bold">A</text>
<text x="1379.9" y="62" font-size="78" font-weight="bold">B</text>
<text x="2722.9" y="62" font-size="78" font-weight="bold">C</text>
<text x="8.7" y="1258" font-size="78" font-weight="bold">D</text>
<text x="1379.7" y="1258" font-size="78" font-weight="bold">E</text>
<text x="2723.3" y="1258" font-size="78" font-weight="bold">F</text>
<text transform="translate(525.2 1081.0) scale(0.971 1)" font-size="78">Wavelength (μm)</text>
<text transform="translate(1879.5 1074.8) scale(0.971 1)" font-size="78">Wavelength (μm)</text>
<text transform="translate(3250.2 1067.4) scale(0.971 1)" font-size="78">Wavelength (μm)</text>
<text transform="translate(549.0 2259.9) scale(0.957 1)" font-size="78">Wavelength (μm)</text>
<text transform="translate(1890.2 2252.9) scale(0.971 1)" font-size="78">Wavelength (μm)</text>
<text transform="translate(3251.4 2251.1) scale(0.971 1)" font-size="78">Wavelength (μm)</text>
<text transform="translate(60 749) rotate(-90)" x="-6.1" y="0" font-size="76">Emissivity (%)</text>
<text transform="translate(1414.6 788) rotate(-90)" x="-5.9" y="0" font-size="74">Transmissivity (%)</text>
<text transform="translate(2781.5 782) rotate(-90)" x="-6.1" y="0" font-size="76.7">Reflectance (%)</text>
<text transform="translate(90 1918) rotate(-90)" x="-6.2" y="0" font-size="77.6">Emissivity (%)</text>
<text transform="translate(1430 1918) rotate(-90)" x="-6.2" y="0" font-size="77.6">Emissivity (%)</text>
<text transform="translate(2779 1918) rotate(-90)" x="-6.1" y="0" font-size="76">Emissivity (%)</text>
<path d="M438.8 463H543.7" stroke="#474747" stroke-width="2.6"/>
<path d="M438.8 519.2H543.7" stroke="#E5313A" stroke-width="2.6"/>
<path d="M438.8 575.7H543.7" stroke="#2163C6" stroke-width="2.6"/>
<path d="M438.8 632H543.7" stroke="#35A464" stroke-width="2.6"/>
<text transform="translate(556.0 478.8) scale(0.978 1)" font-size="54">Nylon-20Ag</text>
<text transform="translate(556.0 534.8) scale(0.978 1)" font-size="54">Nylon-50Ag</text>
<text transform="translate(556.0 591.3) scale(0.978 1)" font-size="54">Nylon-100Ag</text>
<text transform="translate(556.0 647.8) scale(0.978 1)" font-size="54">Nylon-200Ag</text>
<path d="M3062.4 108.6H3166.4" stroke="#474747" stroke-width="2.6"/>
<path d="M3062.4 164.2H3166.4" stroke="#E5313A" stroke-width="2.6"/>
<path d="M3062.4 219.2H3166.4" stroke="#2163C6" stroke-width="2.6"/>
<path d="M3062.4 274.8H3166.4" stroke="#35A464" stroke-width="2.6"/>
<text transform="translate(3179.5 123.8) scale(0.978 1)" font-size="54">Nylon-20Ag</text>
<text transform="translate(3179.5 179.4) scale(0.978 1)" font-size="54">Nylon-50Ag</text>
<text transform="translate(3179.5 234.1) scale(0.978 1)" font-size="54">Nylon-100Ag</text>
<text transform="translate(3179.5 289.7) scale(0.978 1)" font-size="54">Nylon-200Ag</text>
<path d="M419.6 1753H509.5" stroke="#474747" stroke-width="2.6"/>
<path d="M419.6 1809.2H509.5" stroke="#E5313A" stroke-width="2.6"/>
<path d="M419.6 1865.7H509.5" stroke="#2163C6" stroke-width="2.6"/>
<path d="M419.6 1922.4H509.5" stroke="#35A464" stroke-width="2.6"/>
<text transform="translate(516.5 1764.6) scale(0.95 1)" font-size="54">GO 24 μm</text>
<text transform="translate(523.5 1820.4) scale(0.95 1)" font-size="54">Nylon-50Ag</text>
<text transform="translate(523.5 1876.5) scale(0.95 1)" font-size="54">Nafion 75 μm</text>
<text transform="translate(523.5 1932.7) scale(0.95 1)" font-size="54">Nafion 123 μm</text>
<path d="M1718.7 1735.6H1815.3" stroke="#474747" stroke-width="2.6"/>
<path d="M1718.7 1847.8H1815.3" stroke="#E5313A" stroke-width="2.6"/>
<path d="M1718.7 1960H1815.3" stroke="#2163C6" stroke-width="2.6"/>
<text transform="translate(1828.0 1750.5) scale(0.975 1)" font-size="54">0.49 mm,</text>
<text transform="translate(1712.0 1806.7) scale(0.975 1)" font-size="54">82% polyester + 18% spandex</text>
<text transform="translate(1828.0 1861.7) scale(0.975 1)" font-size="54">0.45 mm,</text>
<text transform="translate(1712.0 1917.0) scale(0.975 1)" font-size="54">88% recycled polyester + 12% spandex</text>
<text transform="translate(1828.0 1975.0) scale(0.975 1)" font-size="54">0.15 mm,</text>
<text transform="translate(1712.0 2031.2) scale(0.975 1)" font-size="54">100% polyester</text>
<path d="M3261.7 1540.8H3364.6" stroke="#474747" stroke-width="2.6"/>
<path d="M3261.7 1596.9H3364.6" stroke="#E5313A" stroke-width="2.6"/>
<path d="M3261.7 1653.2H3364.6" stroke="#2163C6" stroke-width="2.6"/>
<path d="M3261.7 1709.3H3364.6" stroke="#35A464" stroke-width="2.6"/>
<text x="3376" y="1556.6" font-size="53" style='font-family:"Liberation Serif", serif'>Nylon-200Ag</text>
<text x="3376" y="1612.3" font-size="53" style='font-family:"Liberation Serif", serif'>Nylon-200Al</text>
<text x="3376" y="1669" font-size="53" style='font-family:"Liberation Serif", serif'>Nylon-200Au</text>
<text x="3376" y="1724.7" font-size="53" style='font-family:"Liberation Serif", serif'>Nylon-200Cu</text>
<text transform="translate(2410.0 177.0) scale(0.976 1)" font-size="54.5">Nylon</text>
<rect x="562.3" y="207.1" width="320.6" height="29.7" fill="#F2B821"/>
<rect x="562.3" y="236.8" width="320.6" height="28.9" fill="#808080"/>
<path d="M724.8 92.1 L748 115.2 L736.8 115.2 L736.8 177.3 L712.3 177.3 L712.3 115.2 L701.3 115.2 Z" fill="#E3161E"/>
<text transform="translate(814.0 177.3) scale(0.98 1)" font-size="54">Ag</text>
<text transform="translate(734.0 321.0) scale(0.98 1)" font-size="54">Nylon</text>
<rect x="3642.3" y="200.7" width="320.6" height="29.3" fill="#F2B821"/>
<rect x="3642.3" y="230" width="320.6" height="30" fill="#808080"/>
<path d="M3930.7 343 L3803.9 230 L3690 331" stroke="#E3161E" stroke-width="6.3" fill="none"/>
<path d="M3674.5 351 L3687 320.7 L3706.6 342 Z" fill="#E3161E"/>
<text transform="translate(3772.5 168.0) scale(0.98 1)" font-size="54">Ag</text>
<text transform="translate(3742.0 343.0) scale(0.98 1)" font-size="54">Nylon</text>
</svg></body></html>
